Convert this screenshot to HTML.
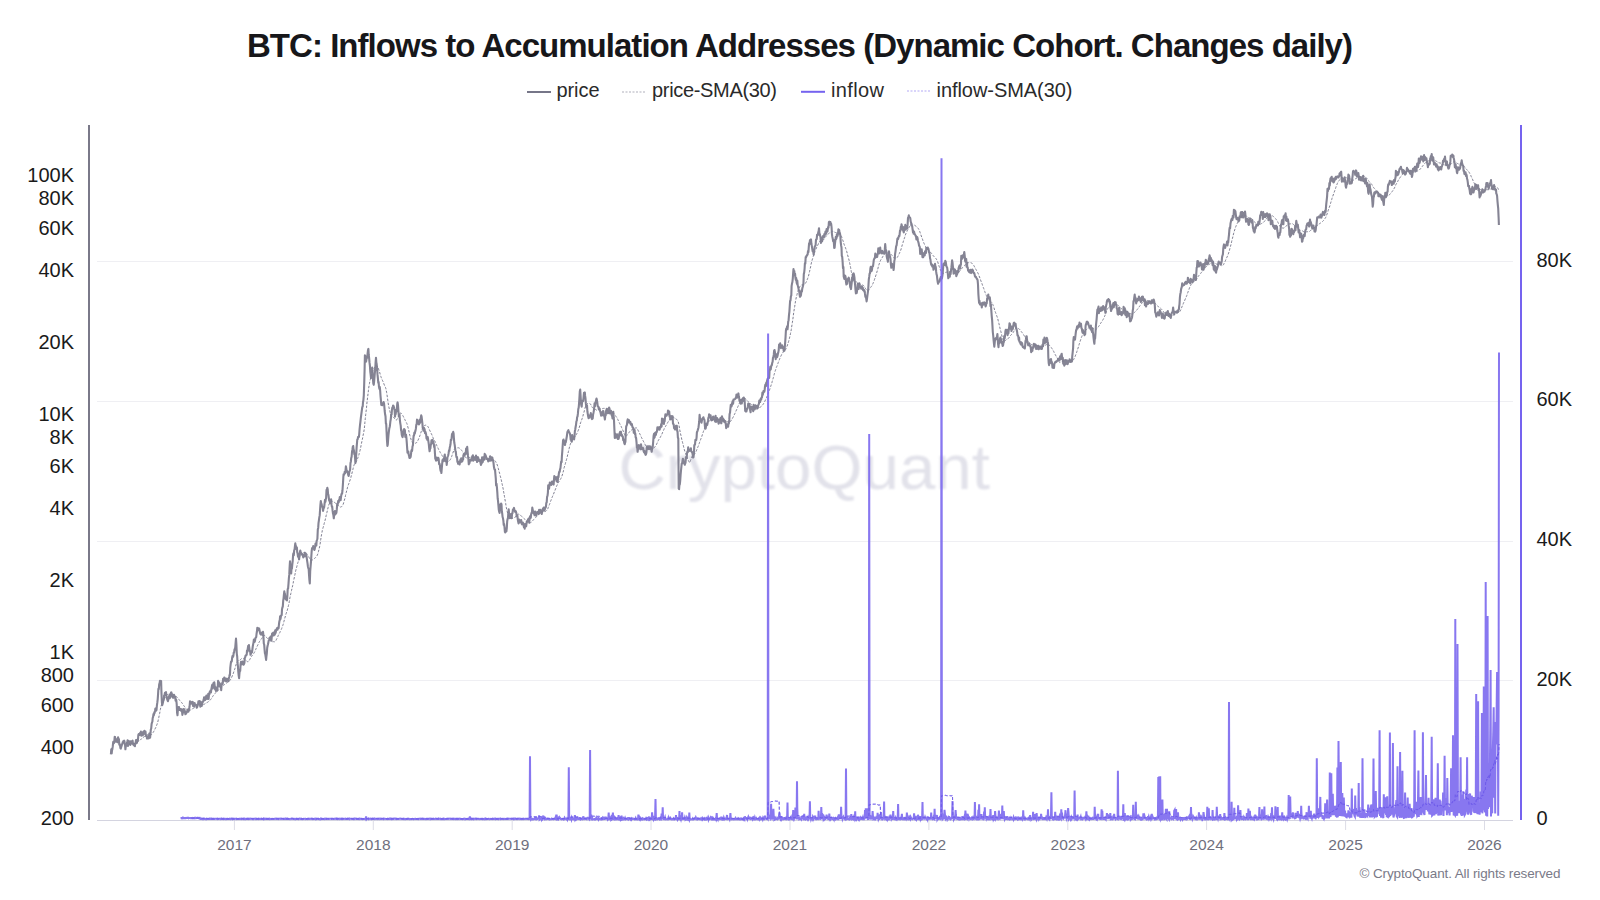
<!DOCTYPE html>
<html><head><meta charset="utf-8"><title>BTC: Inflows to Accumulation Addresses</title>
<style>html,body{margin:0;padding:0;background:#fff;width:1600px;height:900px;overflow:hidden;font-family:"Liberation Sans",sans-serif}</style>
</head><body>
<svg width="1600" height="900" viewBox="0 0 1600 900" style="position:absolute;left:0;top:0">
<defs><filter id="b" x="-5%" y="-20%" width="110%" height="140%"><feGaussianBlur stdDeviation="0.9"/></filter></defs>
<text x="618.5" y="488.5" font-family="'Liberation Sans', sans-serif" font-size="63" fill="#e2e2ea" textLength="371.5" lengthAdjust="spacingAndGlyphs" filter="url(#b)">CryptoQuant</text>
<line x1="97" x2="1513" y1="261.5" y2="261.5" stroke="#efeff3" stroke-width="1"/>
<line x1="97" x2="1513" y1="401.5" y2="401.5" stroke="#efeff3" stroke-width="1"/>
<line x1="97" x2="1513" y1="541.5" y2="541.5" stroke="#efeff3" stroke-width="1"/>
<line x1="97" x2="1513" y1="680.5" y2="680.5" stroke="#efeff3" stroke-width="1"/>
<line x1="97" x2="1513" y1="820.5" y2="820.5" stroke="#d4d4e0" stroke-width="1"/>
<line x1="234.4" x2="234.4" y1="821" y2="830" stroke="#dcdce6" stroke-width="1"/>
<text x="234.4" y="850" text-anchor="middle" font-family="'Liberation Sans', sans-serif" font-size="15.5" fill="#6f6f7d">2017</text>
<line x1="373.3" x2="373.3" y1="821" y2="830" stroke="#dcdce6" stroke-width="1"/>
<text x="373.3" y="850" text-anchor="middle" font-family="'Liberation Sans', sans-serif" font-size="15.5" fill="#6f6f7d">2018</text>
<line x1="512.2" x2="512.2" y1="821" y2="830" stroke="#dcdce6" stroke-width="1"/>
<text x="512.2" y="850" text-anchor="middle" font-family="'Liberation Sans', sans-serif" font-size="15.5" fill="#6f6f7d">2019</text>
<line x1="651.0" x2="651.0" y1="821" y2="830" stroke="#dcdce6" stroke-width="1"/>
<text x="651.0" y="850" text-anchor="middle" font-family="'Liberation Sans', sans-serif" font-size="15.5" fill="#6f6f7d">2020</text>
<line x1="790.0" x2="790.0" y1="821" y2="830" stroke="#dcdce6" stroke-width="1"/>
<text x="790.0" y="850" text-anchor="middle" font-family="'Liberation Sans', sans-serif" font-size="15.5" fill="#6f6f7d">2021</text>
<line x1="928.9" x2="928.9" y1="821" y2="830" stroke="#dcdce6" stroke-width="1"/>
<text x="928.9" y="850" text-anchor="middle" font-family="'Liberation Sans', sans-serif" font-size="15.5" fill="#6f6f7d">2022</text>
<line x1="1067.8" x2="1067.8" y1="821" y2="830" stroke="#dcdce6" stroke-width="1"/>
<text x="1067.8" y="850" text-anchor="middle" font-family="'Liberation Sans', sans-serif" font-size="15.5" fill="#6f6f7d">2023</text>
<line x1="1206.6" x2="1206.6" y1="821" y2="830" stroke="#dcdce6" stroke-width="1"/>
<text x="1206.6" y="850" text-anchor="middle" font-family="'Liberation Sans', sans-serif" font-size="15.5" fill="#6f6f7d">2024</text>
<line x1="1345.6" x2="1345.6" y1="821" y2="830" stroke="#dcdce6" stroke-width="1"/>
<text x="1345.6" y="850" text-anchor="middle" font-family="'Liberation Sans', sans-serif" font-size="15.5" fill="#6f6f7d">2025</text>
<line x1="1484.5" x2="1484.5" y1="821" y2="830" stroke="#dcdce6" stroke-width="1"/>
<text x="1484.5" y="850" text-anchor="middle" font-family="'Liberation Sans', sans-serif" font-size="15.5" fill="#6f6f7d">2026</text>
<line x1="89" x2="89" y1="125" y2="820" stroke="#7a7989" stroke-width="2"/>
<line x1="1521" x2="1521" y1="125" y2="820" stroke="#7563ef" stroke-width="2"/>
<text x="74" y="182.3" text-anchor="end" font-family="'Liberation Sans', sans-serif" font-size="20" fill="#1a1a1a">100K</text>
<text x="74" y="205.4" text-anchor="end" font-family="'Liberation Sans', sans-serif" font-size="20" fill="#1a1a1a">80K</text>
<text x="74" y="235.1" text-anchor="end" font-family="'Liberation Sans', sans-serif" font-size="20" fill="#1a1a1a">60K</text>
<text x="74" y="277.1" text-anchor="end" font-family="'Liberation Sans', sans-serif" font-size="20" fill="#1a1a1a">40K</text>
<text x="74" y="348.8" text-anchor="end" font-family="'Liberation Sans', sans-serif" font-size="20" fill="#1a1a1a">20K</text>
<text x="74" y="420.5" text-anchor="end" font-family="'Liberation Sans', sans-serif" font-size="20" fill="#1a1a1a">10K</text>
<text x="74" y="443.6" text-anchor="end" font-family="'Liberation Sans', sans-serif" font-size="20" fill="#1a1a1a">8K</text>
<text x="74" y="473.3" text-anchor="end" font-family="'Liberation Sans', sans-serif" font-size="20" fill="#1a1a1a">6K</text>
<text x="74" y="515.3" text-anchor="end" font-family="'Liberation Sans', sans-serif" font-size="20" fill="#1a1a1a">4K</text>
<text x="74" y="587.0" text-anchor="end" font-family="'Liberation Sans', sans-serif" font-size="20" fill="#1a1a1a">2K</text>
<text x="74" y="658.7" text-anchor="end" font-family="'Liberation Sans', sans-serif" font-size="20" fill="#1a1a1a">1K</text>
<text x="74" y="681.8" text-anchor="end" font-family="'Liberation Sans', sans-serif" font-size="20" fill="#1a1a1a">800</text>
<text x="74" y="711.5" text-anchor="end" font-family="'Liberation Sans', sans-serif" font-size="20" fill="#1a1a1a">600</text>
<text x="74" y="753.5" text-anchor="end" font-family="'Liberation Sans', sans-serif" font-size="20" fill="#1a1a1a">400</text>
<text x="74" y="825.2" text-anchor="end" font-family="'Liberation Sans', sans-serif" font-size="20" fill="#1a1a1a">200</text>
<text x="1536.5" y="266.6" font-family="'Liberation Sans', sans-serif" font-size="20" fill="#1a1a1a">80K</text>
<text x="1536.5" y="406.2" font-family="'Liberation Sans', sans-serif" font-size="20" fill="#1a1a1a">60K</text>
<text x="1536.5" y="545.9" font-family="'Liberation Sans', sans-serif" font-size="20" fill="#1a1a1a">40K</text>
<text x="1536.5" y="685.6" font-family="'Liberation Sans', sans-serif" font-size="20" fill="#1a1a1a">20K</text>
<text x="1536.5" y="825.2" font-family="'Liberation Sans', sans-serif" font-size="20" fill="#1a1a1a">0</text>
<path d="M191.5 818.1L191.9 818.1L192.3 818.1L192.7 818.1L193.0 818.0L193.4 818.0L193.8 818.1L194.2 818.0L194.6 818.0L195.0 818.0L195.3 818.1L195.7 818.1L196.1 818.1L196.5 818.1L196.9 818.1L197.2 818.1L197.6 818.1L198.0 818.1L198.4 818.1L198.8 818.1L199.1 818.1L199.5 818.1L199.9 818.1L200.3 818.1L200.7 818.1L201.0 818.2L201.4 818.2L201.8 818.2L202.2 818.2L202.6 818.3L202.9 818.3L203.3 818.3L203.7 818.4L204.1 818.4L204.5 818.4L204.8 818.4L205.2 818.5L205.6 818.5L206.0 818.5L206.4 818.6L206.7 818.6L207.1 818.6L207.5 818.6L207.9 818.7L208.3 818.7L208.6 818.7L209.0 818.8L209.4 818.8L209.8 818.8L210.2 818.8L210.5 818.9L210.9 818.9L211.3 818.9L211.7 818.9L212.1 818.9L212.4 818.9L212.8 818.9L213.2 818.9L213.6 818.9L214.0 818.9L214.3 818.9L214.7 818.9L215.1 818.9L215.5 818.9L215.9 818.9L216.2 818.9L216.6 818.9L217.0 818.9L217.4 818.9L217.8 818.9L218.1 818.9L218.5 818.9L218.9 818.9L219.3 818.8L219.7 818.8L220.1 818.8L220.4 818.8L220.8 818.8L221.2 818.9L221.6 818.8L222.0 818.8L222.3 818.8L222.7 818.9L223.1 818.9L223.5 818.9L223.9 818.9L224.2 818.9L224.6 818.9L225.0 818.9L225.4 818.9L225.8 818.9L226.1 818.9L226.5 818.9L226.9 818.9L227.3 818.9L227.7 818.9L228.0 818.9L228.4 818.9L228.8 818.9L229.2 818.9L229.6 818.9L229.9 818.9L230.3 818.9L230.7 818.9L231.1 818.9L231.5 818.9L231.8 818.9L232.2 818.9L232.6 818.9L233.0 818.9L233.4 818.9L233.7 818.9L234.1 818.9L234.5 818.9L234.9 818.9L235.3 818.9L235.6 818.9L236.0 818.9L236.4 818.9L236.8 818.9L237.2 818.9L237.5 818.9L237.9 818.9L238.3 818.9L238.7 818.9L239.1 818.9L239.4 818.9L239.8 818.9L240.2 818.9L240.6 818.9L241.0 818.8L241.3 818.9L241.7 818.8L242.1 818.8L242.5 818.8L242.9 818.8L243.2 818.8L243.6 818.9L244.0 818.8L244.4 818.9L244.8 818.9L245.2 818.9L245.5 818.9L245.9 818.9L246.3 818.9L246.7 818.9L247.1 818.9L247.4 818.9L247.8 818.8L248.2 818.9L248.6 818.9L249.0 818.8L249.3 818.8L249.7 818.8L250.1 818.8L250.5 818.8L250.9 818.8L251.2 818.8L251.6 818.8L252.0 818.8L252.4 818.8L252.8 818.8L253.1 818.8L253.5 818.8L253.9 818.8L254.3 818.8L254.7 818.8L255.0 818.8L255.4 818.8L255.8 818.8L256.2 818.8L256.6 818.8L256.9 818.8L257.3 818.8L257.7 818.8L258.1 818.8L258.5 818.8L258.8 818.8L259.2 818.8L259.6 818.8L260.0 818.8L260.4 818.8L260.7 818.8L261.1 818.8L261.5 818.8L261.9 818.8L262.3 818.8L262.6 818.9L263.0 818.9L263.4 818.9L263.8 818.9L264.2 818.9L264.5 818.8L264.9 818.9L265.3 818.9L265.7 818.9L266.1 818.9L266.4 818.9L266.8 818.9L267.2 818.9L267.6 818.9L268.0 818.9L268.3 818.9L268.7 818.9L269.1 818.9L269.5 818.9L269.9 818.9L270.3 818.9L270.6 818.9L271.0 818.9L271.4 818.9L271.8 818.9L272.2 818.9L272.5 818.9L272.9 818.9L273.3 818.9L273.7 818.9L274.1 818.9L274.4 818.9L274.8 818.9L275.2 818.9L275.6 818.9L276.0 818.9L276.3 818.9L276.7 818.9L277.1 818.9L277.5 818.9L277.9 818.9L278.2 818.9L278.6 818.9L279.0 818.9L279.4 818.9L279.8 818.9L280.1 818.9L280.5 818.9L280.9 818.9L281.3 818.9L281.7 818.8L282.0 818.8L282.4 818.8L282.8 818.8L283.2 818.8L283.6 818.8L283.9 818.8L284.3 818.8L284.7 818.8L285.1 818.8L285.5 818.8L285.8 818.8L286.2 818.8L286.6 818.8L287.0 818.8L287.4 818.8L287.7 818.8L288.1 818.8L288.5 818.8L288.9 818.8L289.3 818.8L289.6 818.8L290.0 818.8L290.4 818.8L290.8 818.9L291.2 818.9L291.5 818.9L291.9 818.8L292.3 818.8L292.7 818.8L293.1 818.8L293.4 818.8L293.8 818.9L294.2 818.9L294.6 818.9L295.0 818.8L295.4 818.9L295.7 818.9L296.1 818.9L296.5 818.9L296.9 818.9L297.3 818.9L297.6 818.9L298.0 818.9L298.4 818.9L298.8 818.9L299.2 818.9L299.5 818.9L299.9 818.9L300.3 818.9L300.7 818.9L301.1 818.9L301.4 818.9L301.8 818.9L302.2 818.9L302.6 818.9L303.0 818.9L303.3 818.9L303.7 818.9L304.1 818.9L304.5 818.9L304.9 818.9L305.2 818.9L305.6 818.9L306.0 818.9L306.4 818.9L306.8 818.9L307.1 818.9L307.5 818.9L307.9 818.9L308.3 818.9L308.7 818.9L309.0 818.9L309.4 818.9L309.8 818.9L310.2 818.9L310.6 818.9L310.9 818.9L311.3 818.9L311.7 818.9L312.1 818.9L312.5 818.9L312.8 818.9L313.2 818.9L313.6 818.9L314.0 818.9L314.4 818.9L314.7 818.9L315.1 818.8L315.5 818.9L315.9 818.9L316.3 818.9L316.6 818.9L317.0 818.9L317.4 818.8L317.8 818.8L318.2 818.8L318.5 818.8L318.9 818.8L319.3 818.8L319.7 818.9L320.1 818.9L320.5 818.9L320.8 818.9L321.2 818.9L321.6 818.9L322.0 818.9L322.4 818.9L322.7 818.9L323.1 818.9L323.5 818.9L323.9 818.9L324.3 818.9L324.6 818.9L325.0 818.9L325.4 818.9L325.8 818.9L326.2 818.9L326.5 818.9L326.9 818.9L327.3 818.9L327.7 818.9L328.1 818.9L328.4 818.9L328.8 818.9L329.2 818.9L329.6 818.9L330.0 818.9L330.3 818.9L330.7 818.9L331.1 818.9L331.5 818.9L331.9 818.9L332.2 818.9L332.6 818.9L333.0 818.8L333.4 818.8L333.8 818.9L334.1 818.8L334.5 818.8L334.9 818.8L335.3 818.8L335.7 818.8L336.0 818.8L336.4 818.8L336.8 818.8L337.2 818.8L337.6 818.8L337.9 818.8L338.3 818.8L338.7 818.8L339.1 818.8L339.5 818.8L339.8 818.8L340.2 818.8L340.6 818.8L341.0 818.8L341.4 818.8L341.7 818.8L342.1 818.8L342.5 818.8L342.9 818.8L343.3 818.8L343.6 818.8L344.0 818.8L344.4 818.8L344.8 818.8L345.2 818.8L345.6 818.8L345.9 818.8L346.3 818.8L346.7 818.8L347.1 818.8L347.5 818.8L347.8 818.8L348.2 818.8L348.6 818.8L349.0 818.8L349.4 818.8L349.7 818.8L350.1 818.8L350.5 818.8L350.9 818.8L351.3 818.8L351.6 818.8L352.0 818.8L352.4 818.8L352.8 818.8L353.2 818.8L353.5 818.8L353.9 818.8L354.3 818.8L354.7 818.8L355.1 818.8L355.4 818.8L355.8 818.8L356.2 818.8L356.6 818.8L357.0 818.8L357.3 818.8L357.7 818.8L358.1 818.8L358.5 818.8L358.9 818.8L359.2 818.8L359.6 818.8L360.0 818.8L360.4 818.8L360.8 818.8L361.1 818.8L361.5 818.8L361.9 818.8L362.3 818.9L362.7 818.9L363.0 818.9L363.4 818.9L363.8 818.9L364.2 818.9L364.6 818.9L364.9 818.9L365.3 818.9L365.7 818.9L366.1 818.8L366.5 818.8L366.8 818.8L367.2 818.8L367.6 818.8L368.0 818.8L368.4 818.8L368.7 818.8L369.1 818.8L369.5 818.8L369.9 818.8L370.3 818.8L370.7 818.8L371.0 818.8L371.4 818.8L371.8 818.8L372.2 818.8L372.6 818.8L372.9 818.8L373.3 818.8L373.7 818.8L374.1 818.8L374.5 818.7L374.8 818.7L375.2 818.7L375.6 818.8L376.0 818.7L376.4 818.7L376.7 818.7L377.1 818.7L377.5 818.8L377.9 818.8L378.3 818.8L378.6 818.8L379.0 818.8L379.4 818.8L379.8 818.8L380.2 818.8L380.5 818.8L380.9 818.8L381.3 818.8L381.7 818.8L382.1 818.8L382.4 818.8L382.8 818.8L383.2 818.8L383.6 818.8L384.0 818.8L384.3 818.8L384.7 818.8L385.1 818.8L385.5 818.8L385.9 818.8L386.2 818.8L386.6 818.8L387.0 818.8L387.4 818.8L387.8 818.8L388.1 818.8L388.5 818.8L388.9 818.8L389.3 818.8L389.7 818.8L390.0 818.8L390.4 818.8L390.8 818.8L391.2 818.8L391.6 818.8L391.9 818.8L392.3 818.8L392.7 818.8L393.1 818.9L393.5 818.9L393.8 818.9L394.2 818.8L394.6 818.9L395.0 818.8L395.4 818.8L395.7 818.8L396.1 818.8L396.5 818.8L396.9 818.8L397.3 818.8L397.7 818.8L398.0 818.8L398.4 818.8L398.8 818.8L399.2 818.8L399.6 818.8L399.9 818.8L400.3 818.8L400.7 818.8L401.1 818.8L401.5 818.8L401.8 818.8L402.2 818.8L402.6 818.8L403.0 818.8L403.4 818.8L403.7 818.8L404.1 818.8L404.5 818.8L404.9 818.8L405.3 818.8L405.6 818.8L406.0 818.9L406.4 818.9L406.8 818.9L407.2 818.9L407.5 818.9L407.9 818.9L408.3 818.9L408.7 818.9L409.1 818.9L409.4 818.9L409.8 818.9L410.2 818.9L410.6 818.9L411.0 818.9L411.3 818.9L411.7 818.9L412.1 818.9L412.5 818.9L412.9 818.9L413.2 818.9L413.6 818.9L414.0 818.9L414.4 818.9L414.8 818.9L415.1 818.9L415.5 818.9L415.9 818.9L416.3 818.9L416.7 818.9L417.0 818.9L417.4 818.9L417.8 818.9L418.2 818.9L418.6 818.9L418.9 818.9L419.3 818.9L419.7 818.9L420.1 818.9L420.5 818.9L420.8 818.9L421.2 818.9L421.6 818.9L422.0 818.9L422.4 818.9L422.8 818.9L423.1 818.9L423.5 818.9L423.9 818.9L424.3 818.9L424.7 818.9L425.0 818.9L425.4 818.9L425.8 818.9L426.2 818.9L426.6 818.9L426.9 818.9L427.3 818.9L427.7 818.9L428.1 818.9L428.5 818.9L428.8 818.8L429.2 818.8L429.6 818.8L430.0 818.8L430.4 818.8L430.7 818.8L431.1 818.8L431.5 818.8L431.9 818.8L432.3 818.8L432.6 818.8L433.0 818.8L433.4 818.8L433.8 818.9L434.2 818.9L434.5 818.9L434.9 818.9L435.3 818.9L435.7 818.9L436.1 818.9L436.4 818.8L436.8 818.8L437.2 818.8L437.6 818.8L438.0 818.8L438.3 818.9L438.7 818.8L439.1 818.8L439.5 818.8L439.9 818.8L440.2 818.8L440.6 818.8L441.0 818.8L441.4 818.9L441.8 818.9L442.1 818.9L442.5 818.9L442.9 818.9L443.3 818.8L443.7 818.9L444.0 818.8L444.4 818.8L444.8 818.9L445.2 818.9L445.6 818.9L445.9 818.9L446.3 818.9L446.7 818.9L447.1 818.9L447.5 818.9L447.9 818.9L448.2 818.9L448.6 818.9L449.0 818.9L449.4 818.9L449.8 818.8L450.1 818.9L450.5 818.9L450.9 818.9L451.3 818.9L451.7 818.8L452.0 818.9L452.4 818.9L452.8 818.8L453.2 818.8L453.6 818.8L453.9 818.8L454.3 818.8L454.7 818.8L455.1 818.8L455.5 818.8L455.8 818.8L456.2 818.8L456.6 818.8L457.0 818.8L457.4 818.8L457.7 818.8L458.1 818.8L458.5 818.8L458.9 818.8L459.3 818.8L459.6 818.8L460.0 818.8L460.4 818.8L460.8 818.8L461.2 818.8L461.5 818.9L461.9 818.9L462.3 818.9L462.7 818.9L463.1 818.9L463.4 818.9L463.8 818.9L464.2 818.9L464.6 818.9L465.0 818.9L465.3 818.9L465.7 818.9L466.1 818.9L466.5 818.9L466.9 818.9L467.2 818.9L467.6 818.9L468.0 818.9L468.4 818.9L468.8 818.9L469.1 818.9L469.5 818.9L469.9 818.8L470.3 818.8L470.7 818.8L471.0 818.8L471.4 818.8L471.8 818.8L472.2 818.8L472.6 818.8L473.0 818.8L473.3 818.8L473.7 818.8L474.1 818.8L474.5 818.8L474.9 818.8L475.2 818.8L475.6 818.8L476.0 818.8L476.4 818.8L476.8 818.8L477.1 818.8L477.5 818.8L477.9 818.8L478.3 818.8L478.7 818.8L479.0 818.8L479.4 818.8L479.8 818.8L480.2 818.8L480.6 818.8L480.9 818.8L481.3 818.8L481.7 818.8L482.1 818.8L482.5 818.9L482.8 818.9L483.2 818.9L483.6 818.9L484.0 818.9L484.4 818.9L484.7 818.9L485.1 818.9L485.5 818.9L485.9 818.9L486.3 818.9L486.6 818.9L487.0 818.9L487.4 818.9L487.8 818.9L488.2 818.9L488.5 818.9L488.9 818.9L489.3 818.9L489.7 818.9L490.1 818.9L490.4 818.9L490.8 818.9L491.2 818.9L491.6 818.9L492.0 818.9L492.3 818.9L492.7 818.9L493.1 818.9L493.5 818.9L493.9 818.9L494.2 818.9L494.6 818.9L495.0 818.9L495.4 818.9L495.8 818.9L496.1 818.9L496.5 818.9L496.9 818.9L497.3 818.9L497.7 818.9L498.1 818.9L498.4 818.9L498.8 818.9L499.2 818.9L499.6 818.9L500.0 818.9L500.3 818.9L500.7 818.9L501.1 818.9L501.5 818.9L501.9 818.9L502.2 818.9L502.6 818.9L503.0 818.9L503.4 818.9L503.8 818.9L504.1 818.9L504.5 818.9L504.9 818.9L505.3 818.9L505.7 818.9L506.0 818.9L506.4 818.9L506.8 818.9L507.2 818.9L507.6 818.9L507.9 818.9L508.3 818.9L508.7 818.9L509.1 818.9L509.5 818.8L509.8 818.8L510.2 818.8L510.6 818.8L511.0 818.8L511.4 818.8L511.7 818.9L512.1 818.8L512.5 818.8L512.9 818.8L513.3 818.8L513.6 818.8L514.0 818.8L514.4 818.8L514.8 818.8L515.2 818.8L515.5 818.8L515.9 818.8L516.3 818.8L516.7 818.8L517.1 818.8L517.4 818.8L517.8 818.8L518.2 818.8L518.6 818.8L519.0 818.8L519.3 818.8L519.7 818.8L520.1 818.8L520.5 818.8L520.9 818.8L521.2 818.8L521.6 818.8L522.0 818.8L522.4 818.8L522.8 818.8L523.2 818.8L523.5 818.8L523.9 818.9L524.3 818.9L524.7 818.9L525.1 818.9L525.4 818.9L525.8 818.9L526.2 818.9L526.6 818.8L527.0 818.9L527.3 818.9L527.7 818.9L528.1 818.9L528.5 818.9L528.9 818.9L529.2 818.9L529.6 818.9L530.0 816.8L530.4 816.8L530.8 816.8L531.1 816.8L531.5 816.8L531.9 816.8L532.3 816.8L532.7 816.8L533.0 816.8L533.4 816.8L533.8 816.8L534.2 816.8L534.6 816.8L534.9 816.8L535.3 816.8L535.7 816.8L536.1 816.8L536.5 816.8L536.8 816.8L537.2 816.8L537.6 816.8L538.0 816.8L538.4 816.7L538.7 816.7L539.1 816.6L539.5 816.6L539.9 816.6L540.3 816.6L540.6 816.6L541.0 816.6L541.4 818.7L541.8 818.7L542.2 818.6L542.5 818.6L542.9 818.6L543.3 818.4L543.7 818.4L544.1 818.4L544.4 818.3L544.8 818.3L545.2 818.3L545.6 818.3L546.0 818.3L546.3 818.3L546.7 818.3L547.1 818.4L547.5 818.4L547.9 818.4L548.3 818.4L548.6 818.4L549.0 818.4L549.4 818.4L549.8 818.5L550.2 818.5L550.5 818.6L550.9 818.6L551.3 818.6L551.7 818.6L552.1 818.7L552.4 818.7L552.8 818.7L553.2 818.7L553.6 818.7L554.0 818.8L554.3 818.8L554.7 818.9L555.1 818.9L555.5 818.9L555.9 819.0L556.2 819.0L556.6 818.8L557.0 818.8L557.4 818.8L557.8 818.8L558.1 818.8L558.5 818.8L558.9 818.7L559.3 818.8L559.7 818.7L560.0 818.7L560.4 818.6L560.8 818.6L561.2 818.6L561.6 818.6L561.9 818.6L562.3 818.6L562.7 818.6L563.1 818.6L563.5 818.6L563.8 818.6L564.2 818.6L564.6 818.6L565.0 818.6L565.4 818.5L565.7 818.6L566.1 818.6L566.5 818.6L566.9 818.6L567.3 818.6L567.6 818.5L568.0 818.7L568.4 818.7L568.8 817.0L569.2 817.0L569.5 817.0L569.9 817.0L570.3 817.1L570.7 817.1L571.1 817.1L571.4 817.1L571.8 817.1L572.2 817.1L572.6 817.1L573.0 817.1L573.3 817.1L573.7 817.1L574.1 817.1L574.5 817.1L574.9 816.9L575.3 816.9L575.6 816.9L576.0 816.9L576.4 816.9L576.8 817.0L577.2 816.9L577.5 816.9L577.9 816.9L578.3 816.9L578.7 816.9L579.1 816.9L579.4 816.9L579.8 816.9L580.2 818.6L580.6 818.6L581.0 818.6L581.3 818.6L581.7 818.6L582.1 818.6L582.5 818.6L582.9 818.6L583.2 818.6L583.6 818.6L584.0 818.5L584.4 818.5L584.8 818.5L585.1 818.6L585.5 818.5L585.9 818.5L586.3 818.7L586.7 818.6L587.0 818.6L587.4 818.7L587.8 818.6L588.2 818.6L588.6 818.6L588.9 818.6L589.3 818.6L589.7 818.6L590.1 816.3L590.5 816.3L590.8 816.3L591.2 816.2L591.6 816.2L592.0 816.2L592.4 816.2L592.7 816.2L593.1 816.2L593.5 816.2L593.9 816.2L594.3 816.2L594.6 816.3L595.0 816.3L595.4 816.4L595.8 816.4L596.2 816.3L596.5 816.3L596.9 816.4L597.3 816.4L597.7 816.4L598.1 816.4L598.4 816.3L598.8 816.4L599.2 816.4L599.6 816.4L600.0 816.5L600.4 816.5L600.7 816.5L601.1 816.5L601.5 818.8L601.9 818.9L602.3 818.9L602.6 819.0L603.0 819.0L603.4 818.9L603.8 818.9L604.2 818.9L604.5 818.9L604.9 818.8L605.3 818.8L605.7 818.7L606.1 818.7L606.4 818.7L606.8 818.6L607.2 818.6L607.6 818.7L608.0 818.6L608.3 818.6L608.7 818.4L609.1 818.4L609.5 818.4L609.9 818.4L610.2 818.4L610.6 818.4L611.0 818.4L611.4 818.3L611.8 818.2L612.1 818.2L612.5 818.2L612.9 818.0L613.3 818.0L613.7 818.0L614.0 817.8L614.4 817.9L614.8 817.9L615.2 817.9L615.6 817.9L615.9 817.9L616.3 818.0L616.7 818.0L617.1 818.0L617.5 818.1L617.8 818.1L618.2 818.1L618.6 818.0L619.0 818.0L619.4 818.0L619.7 818.0L620.1 818.2L620.5 818.1L620.9 818.1L621.3 818.1L621.6 818.0L622.0 818.1L622.4 818.1L622.8 818.2L623.2 818.3L623.5 818.2L623.9 818.3L624.3 818.5L624.7 818.5L625.1 818.5L625.5 818.6L625.8 818.6L626.2 818.6L626.6 818.6L627.0 818.6L627.4 818.6L627.7 818.6L628.1 818.6L628.5 818.6L628.9 818.6L629.3 818.5L629.6 818.5L630.0 818.7L630.4 818.6L630.8 818.7L631.2 818.6L631.5 818.7L631.9 818.7L632.3 818.7L632.7 818.7L633.1 818.8L633.4 818.8L633.8 818.8L634.2 818.8L634.6 818.8L635.0 818.8L635.3 818.8L635.7 818.8L636.1 818.8L636.5 818.8L636.9 818.8L637.2 818.9L637.6 818.9L638.0 818.9L638.4 818.7L638.8 818.7L639.1 818.7L639.5 818.7L639.9 818.7L640.3 818.7L640.7 818.7L641.0 818.7L641.4 818.7L641.8 818.8L642.2 818.8L642.6 818.7L642.9 818.7L643.3 818.7L643.7 818.7L644.1 818.8L644.5 818.8L644.8 818.8L645.2 818.8L645.6 818.8L646.0 818.7L646.4 818.7L646.7 818.7L647.1 818.7L647.5 818.7L647.9 818.6L648.3 818.6L648.6 818.6L649.0 818.6L649.4 818.6L649.8 818.7L650.2 818.7L650.6 818.7L650.9 818.8L651.3 818.8L651.7 818.8L652.1 818.6L652.5 818.6L652.8 818.6L653.2 818.6L653.6 818.6L654.0 818.6L654.4 818.6L654.7 818.6L655.1 818.5L655.5 817.8L655.9 817.8L656.3 817.8L656.6 817.8L657.0 817.8L657.4 817.8L657.8 817.8L658.2 817.9L658.5 817.8L658.9 817.9L659.3 817.9L659.7 818.0L660.1 817.9L660.4 817.9L660.8 817.9L661.2 818.0L661.6 817.8L662.0 817.8L662.3 817.8L662.7 817.4L663.1 817.4L663.5 817.6L663.9 817.6L664.2 817.6L664.6 817.6L665.0 817.5L665.4 817.6L665.8 817.6L666.1 817.6L666.5 817.7L666.9 818.3L667.3 818.4L667.7 818.4L668.0 818.4L668.4 818.3L668.8 818.4L669.2 818.4L669.6 818.4L669.9 818.4L670.3 818.3L670.7 818.3L671.1 818.3L671.5 818.3L671.8 818.3L672.2 818.3L672.6 818.3L673.0 818.5L673.4 818.5L673.7 818.5L674.1 818.9L674.5 818.9L674.9 818.9L675.3 818.9L675.7 818.9L676.0 818.7L676.4 818.8L676.8 818.7L677.2 818.7L677.6 818.7L677.9 818.7L678.3 818.6L678.7 818.6L679.1 818.6L679.5 818.3L679.8 818.4L680.2 818.4L680.6 818.4L681.0 818.4L681.4 818.3L681.7 818.4L682.1 818.2L682.5 818.2L682.9 818.2L683.3 818.2L683.6 818.1L684.0 818.1L684.4 818.1L684.8 818.1L685.2 818.1L685.5 818.1L685.9 818.1L686.3 818.1L686.7 818.1L687.1 818.1L687.4 818.2L687.8 818.2L688.2 818.2L688.6 818.3L689.0 818.3L689.3 818.1L689.7 818.1L690.1 818.1L690.5 818.1L690.9 818.4L691.2 818.4L691.6 818.4L692.0 818.4L692.4 818.4L692.8 818.4L693.1 818.5L693.5 818.7L693.9 818.7L694.3 818.7L694.7 818.7L695.0 818.6L695.4 818.6L695.8 818.6L696.2 818.6L696.6 818.6L696.9 818.6L697.3 818.6L697.7 818.6L698.1 818.6L698.5 818.6L698.8 818.6L699.2 818.6L699.6 818.6L700.0 818.7L700.4 818.7L700.8 818.9L701.1 818.9L701.5 818.9L701.9 818.9L702.3 818.8L702.7 818.8L703.0 818.8L703.4 818.8L703.8 818.8L704.2 818.8L704.6 818.8L704.9 818.8L705.3 818.8L705.7 818.8L706.1 818.8L706.5 818.8L706.8 818.8L707.2 818.9L707.6 818.9L708.0 818.9L708.4 818.9L708.7 818.8L709.1 818.9L709.5 818.9L709.9 818.9L710.3 818.9L710.6 818.8L711.0 818.8L711.4 818.8L711.8 818.8L712.2 818.7L712.5 818.7L712.9 818.7L713.3 818.7L713.7 818.7L714.1 818.7L714.4 818.7L714.8 818.8L715.2 818.8L715.6 818.8L716.0 818.8L716.3 818.7L716.7 818.5L717.1 818.5L717.5 818.5L717.9 818.5L718.2 818.5L718.6 818.5L719.0 818.5L719.4 818.5L719.8 818.5L720.1 818.5L720.5 818.5L720.9 818.5L721.3 818.4L721.7 818.5L722.0 818.5L722.4 818.5L722.8 818.6L723.2 818.6L723.6 818.6L723.9 818.6L724.3 818.6L724.7 818.6L725.1 818.6L725.5 818.6L725.9 818.6L726.2 818.6L726.6 818.5L727.0 818.4L727.4 818.4L727.8 818.4L728.1 818.6L728.5 818.6L728.9 818.6L729.3 818.6L729.7 818.6L730.0 818.6L730.4 818.4L730.8 818.4L731.2 818.4L731.6 818.4L731.9 818.4L732.3 818.4L732.7 818.5L733.1 818.5L733.5 818.5L733.8 818.5L734.2 818.5L734.6 818.5L735.0 818.5L735.4 818.6L735.7 818.5L736.1 818.6L736.5 818.6L736.9 818.6L737.3 818.6L737.6 818.6L738.0 818.6L738.4 818.8L738.8 818.7L739.2 818.7L739.5 818.8L739.9 818.8L740.3 818.8L740.7 818.8L741.1 818.8L741.4 818.8L741.8 819.0L742.2 819.0L742.6 819.1L743.0 819.1L743.3 819.0L743.7 819.0L744.1 819.0L744.5 819.0L744.9 818.9L745.2 818.9L745.6 818.8L746.0 818.8L746.4 818.8L746.8 818.8L747.1 818.8L747.5 818.8L747.9 818.7L748.3 818.6L748.7 818.6L749.0 818.6L749.4 818.6L749.8 818.5L750.2 818.5L750.6 818.5L751.0 818.5L751.3 818.5L751.7 818.5L752.1 818.4L752.5 818.4L752.9 818.4L753.2 818.4L753.6 818.4L754.0 818.4L754.4 818.4L754.8 818.3L755.1 818.3L755.5 818.3L755.9 818.3L756.3 818.4L756.7 818.4L757.0 818.5L757.4 818.5L757.8 818.5L758.2 818.5L758.6 818.6L758.9 818.5L759.3 818.6L759.7 818.6L760.1 818.7L760.5 818.7L760.8 818.7L761.2 818.7L761.6 818.7L762.0 818.7L762.4 818.7L762.7 818.7L763.1 818.7L763.5 818.7L763.9 818.8L764.3 818.8L764.6 818.7L765.0 818.7L765.4 818.6L765.8 818.6L766.2 818.6L766.5 818.6L766.9 818.6L767.3 818.6L767.7 818.6L768.1 802.4L768.4 802.4L768.8 802.4L769.2 802.2L769.6 802.2L770.0 802.2L770.3 802.2L770.7 802.1L771.1 801.6L771.5 801.6L771.9 801.6L772.2 801.6L772.6 801.5L773.0 801.5L773.4 801.1L773.8 801.1L774.1 801.1L774.5 801.1L774.9 801.1L775.3 801.1L775.7 801.0L776.0 801.1L776.4 801.2L776.8 801.2L777.2 801.2L777.6 801.2L778.0 801.2L778.3 801.1L778.7 801.2L779.1 801.0L779.5 817.0L779.9 817.0L780.2 816.9L780.6 817.1L781.0 817.1L781.4 817.0L781.8 817.1L782.1 817.1L782.5 817.6L782.9 817.5L783.3 817.6L783.7 817.6L784.0 817.7L784.4 817.7L784.8 818.0L785.2 818.1L785.6 818.1L785.9 818.1L786.3 818.1L786.7 818.1L787.1 818.1L787.5 817.6L787.8 817.6L788.2 817.5L788.6 817.5L789.0 817.5L789.4 817.6L789.7 817.6L790.1 817.6L790.5 817.7L790.9 817.9L791.3 817.9L791.6 818.0L792.0 818.0L792.4 817.8L792.8 817.9L793.2 817.6L793.5 817.7L793.9 817.7L794.3 817.7L794.7 817.6L795.1 817.6L795.4 817.2L795.8 817.2L796.2 817.1L796.6 817.1L797.0 815.9L797.3 815.5L797.7 815.5L798.1 815.5L798.5 815.5L798.9 816.0L799.2 816.0L799.6 816.0L800.0 816.0L800.4 816.0L800.8 816.0L801.1 816.0L801.5 816.0L801.9 816.0L802.3 815.9L802.7 815.9L803.1 815.9L803.4 815.9L803.8 816.0L804.2 815.9L804.6 816.2L805.0 816.2L805.3 816.2L805.7 816.2L806.1 816.3L806.5 816.3L806.9 816.6L807.2 816.6L807.6 816.7L808.0 816.7L808.4 817.9L808.8 818.3L809.1 818.3L809.5 818.3L809.9 817.7L810.3 817.8L810.7 817.7L811.0 817.8L811.4 817.7L811.8 817.7L812.2 817.7L812.6 817.7L812.9 817.7L813.3 817.7L813.7 817.8L814.1 817.8L814.5 817.7L814.8 817.7L815.2 817.6L815.6 817.7L816.0 817.7L816.4 817.7L816.7 817.8L817.1 817.8L817.5 817.8L817.9 817.8L818.3 817.8L818.6 817.6L819.0 817.6L819.4 817.6L819.8 817.6L820.2 817.6L820.5 817.6L820.9 817.6L821.3 817.8L821.7 817.8L822.1 817.6L822.4 817.6L822.8 817.6L823.2 817.5L823.6 817.5L824.0 817.5L824.3 817.5L824.7 817.5L825.1 817.5L825.5 817.6L825.9 817.7L826.2 817.6L826.6 817.6L827.0 817.5L827.4 817.5L827.8 817.4L828.2 817.4L828.5 817.4L828.9 817.4L829.3 817.2L829.7 817.2L830.1 817.4L830.4 817.4L830.8 817.4L831.2 817.4L831.6 817.4L832.0 817.4L832.3 817.4L832.7 817.8L833.1 817.8L833.5 818.0L833.9 818.0L834.2 817.9L834.6 818.1L835.0 818.1L835.4 818.1L835.8 818.1L836.1 818.1L836.5 818.1L836.9 818.1L837.3 818.1L837.7 818.1L838.0 818.3L838.4 818.4L838.8 818.2L839.2 818.3L839.6 818.2L839.9 818.2L840.3 818.1L840.7 818.3L841.1 817.9L841.5 817.9L841.8 817.9L842.2 817.8L842.6 817.9L843.0 817.9L843.4 817.8L843.7 817.8L844.1 817.8L844.5 817.7L844.9 817.8L845.3 817.8L845.6 817.8L846.0 816.1L846.4 816.1L846.8 816.1L847.2 816.1L847.5 816.1L847.9 816.1L848.3 816.1L848.7 816.2L849.1 816.2L849.4 816.2L849.8 816.1L850.2 816.3L850.6 816.3L851.0 816.3L851.3 816.2L851.7 816.2L852.1 816.2L852.5 816.6L852.9 816.6L853.3 816.6L853.6 816.7L854.0 816.7L854.4 816.6L854.8 816.6L855.2 816.4L855.5 816.5L855.9 816.4L856.3 816.4L856.7 816.4L857.1 816.4L857.4 818.0L857.8 818.0L858.2 818.0L858.6 817.9L859.0 817.9L859.3 817.9L859.7 817.9L860.1 817.9L860.5 817.8L860.9 817.8L861.2 817.9L861.6 817.9L862.0 817.9L862.4 817.9L862.8 818.0L863.1 818.1L863.5 818.1L863.9 818.1L864.3 818.1L864.7 818.1L865.0 817.8L865.4 817.7L865.8 817.5L866.2 817.5L866.6 817.7L866.9 817.3L867.3 817.3L867.7 817.4L868.1 817.3L868.5 817.4L868.8 817.4L869.2 804.6L869.6 804.6L870.0 804.6L870.4 804.6L870.7 804.6L871.1 804.5L871.5 804.5L871.9 804.6L872.3 804.5L872.6 804.2L873.0 804.1L873.4 804.2L873.8 804.2L874.2 804.2L874.5 804.2L874.9 804.1L875.3 804.1L875.7 804.2L876.1 804.1L876.4 804.4L876.8 804.4L877.2 804.8L877.6 804.6L878.0 804.7L878.4 805.0L878.7 805.0L879.1 805.0L879.5 805.0L879.9 804.9L880.3 804.9L880.6 817.6L881.0 817.4L881.4 817.4L881.8 817.5L882.2 817.5L882.5 817.5L882.9 817.6L883.3 817.6L883.7 817.5L884.1 817.2L884.4 817.2L884.8 817.2L885.2 817.2L885.6 817.2L886.0 817.2L886.3 817.2L886.7 817.2L887.1 817.2L887.5 817.2L887.9 817.2L888.2 817.2L888.6 817.2L889.0 817.4L889.4 817.4L889.8 817.4L890.1 817.4L890.5 817.2L890.9 817.2L891.3 817.3L891.7 817.3L892.0 817.4L892.4 817.6L892.8 817.7L893.2 817.4L893.6 817.4L893.9 817.4L894.3 817.4L894.7 817.4L895.1 817.5L895.5 818.1L895.8 818.1L896.2 818.1L896.6 818.2L897.0 818.2L897.4 818.1L897.7 818.2L898.1 817.7L898.5 817.7L898.9 817.8L899.3 817.8L899.6 817.8L900.0 817.8L900.4 817.8L900.8 817.9L901.2 817.8L901.5 817.9L901.9 817.8L902.3 817.9L902.7 817.9L903.1 817.9L903.5 817.9L903.8 817.9L904.2 817.9L904.6 818.1L905.0 818.1L905.4 818.1L905.7 818.1L906.1 818.1L906.5 818.1L906.9 817.8L907.3 817.9L907.6 817.8L908.0 817.9L908.4 817.9L908.8 817.8L909.2 817.9L909.5 818.4L909.9 818.3L910.3 818.3L910.7 818.3L911.1 818.2L911.4 818.2L911.8 818.2L912.2 818.2L912.6 818.2L913.0 818.2L913.3 818.4L913.7 818.4L914.1 818.2L914.5 818.2L914.9 818.2L915.2 818.1L915.6 818.1L916.0 818.0L916.4 818.1L916.8 818.1L917.1 818.1L917.5 818.1L917.9 818.0L918.3 818.1L918.7 818.1L919.0 818.1L919.4 818.1L919.8 818.1L920.2 818.0L920.6 818.0L920.9 818.0L921.3 818.0L921.7 818.0L922.1 818.1L922.5 817.5L922.8 817.5L923.2 817.4L923.6 817.4L924.0 817.4L924.4 817.4L924.7 817.4L925.1 817.4L925.5 817.5L925.9 817.5L926.3 817.5L926.6 817.6L927.0 817.6L927.4 817.7L927.8 817.6L928.2 817.6L928.6 817.6L928.9 817.6L929.3 817.7L929.7 817.8L930.1 817.8L930.5 817.7L930.8 817.8L931.2 817.5L931.6 817.6L932.0 817.6L932.4 817.6L932.7 817.6L933.1 817.7L933.5 817.6L933.9 818.2L934.3 818.3L934.6 818.0L935.0 818.0L935.4 818.0L935.8 817.8L936.2 817.8L936.5 817.9L936.9 817.8L937.3 817.8L937.7 817.8L938.1 817.8L938.4 817.8L938.8 817.8L939.2 817.9L939.6 817.9L940.0 817.8L940.3 817.8L940.7 817.8L941.1 817.8L941.5 795.7L941.9 795.8L942.2 795.6L942.6 795.9L943.0 795.8L943.4 795.8L943.8 795.8L944.1 795.8L944.5 795.5L944.9 795.4L945.3 795.4L945.7 795.4L946.0 795.7L946.4 795.6L946.8 795.7L947.2 795.8L947.6 795.7L947.9 795.8L948.3 795.8L948.7 795.8L949.1 795.8L949.5 795.7L949.8 795.7L950.2 795.8L950.6 795.7L951.0 795.7L951.4 795.8L951.7 795.8L952.1 795.7L952.5 795.2L952.9 817.2L953.3 817.1L953.6 817.3L954.0 817.3L954.4 817.3L954.8 817.3L955.2 817.3L955.6 817.0L955.9 817.2L956.3 817.3L956.7 817.3L957.1 817.3L957.5 817.3L957.8 817.4L958.2 817.4L958.6 817.3L959.0 817.4L959.4 817.4L959.7 817.4L960.1 817.4L960.5 817.5L960.9 817.6L961.3 817.6L961.6 817.6L962.0 817.6L962.4 817.5L962.8 817.5L963.2 817.5L963.5 817.6L963.9 818.2L964.3 818.2L964.7 818.2L965.1 818.2L965.4 817.9L965.8 817.8L966.2 817.8L966.6 817.8L967.0 818.1L967.3 818.1L967.7 818.0L968.1 818.0L968.5 818.0L968.9 817.9L969.2 817.9L969.6 817.9L970.0 817.9L970.4 817.9L970.8 817.9L971.1 817.9L971.5 817.8L971.9 817.8L972.3 817.8L972.7 817.7L973.0 817.7L973.4 817.7L973.8 817.8L974.2 817.8L974.6 817.7L974.9 817.2L975.3 817.1L975.7 817.2L976.1 817.1L976.5 817.1L976.8 817.4L977.2 817.5L977.6 817.5L978.0 817.5L978.4 817.2L978.7 817.3L979.1 817.0L979.5 817.0L979.9 817.1L980.3 817.1L980.7 817.1L981.0 817.1L981.4 816.9L981.8 816.9L982.2 816.9L982.6 816.9L982.9 816.9L983.3 817.0L983.7 817.0L984.1 816.8L984.5 816.7L984.8 816.4L985.2 816.4L985.6 816.3L986.0 816.4L986.4 816.8L986.7 816.8L987.1 816.8L987.5 816.8L987.9 816.8L988.3 816.9L988.6 816.9L989.0 816.9L989.4 816.9L989.8 817.2L990.2 817.1L990.5 817.2L990.9 817.2L991.3 817.2L991.7 817.2L992.1 817.3L992.4 817.3L992.8 817.4L993.2 817.3L993.6 817.3L994.0 817.3L994.3 817.3L994.7 817.3L995.1 817.0L995.5 817.2L995.9 817.2L996.2 817.6L996.6 817.6L997.0 817.7L997.4 817.7L997.8 817.8L998.1 817.8L998.5 817.8L998.9 817.5L999.3 817.5L999.7 817.5L1000.0 817.4L1000.4 817.5L1000.8 817.4L1001.2 817.2L1001.6 817.4L1001.9 817.7L1002.3 817.2L1002.7 817.3L1003.1 817.1L1003.5 817.1L1003.8 816.8L1004.2 816.8L1004.6 817.0L1005.0 816.9L1005.4 816.9L1005.8 816.9L1006.1 816.9L1006.5 817.2L1006.9 817.3L1007.3 817.2L1007.7 817.2L1008.0 817.2L1008.4 817.2L1008.8 817.2L1009.2 817.2L1009.6 817.2L1009.9 817.2L1010.3 817.4L1010.7 817.5L1011.1 817.4L1011.5 817.4L1011.8 817.4L1012.2 817.5L1012.6 817.6L1013.0 817.6L1013.4 817.6L1013.7 818.1L1014.1 818.1L1014.5 818.2L1014.9 818.2L1015.3 818.5L1015.6 818.5L1016.0 818.5L1016.4 818.6L1016.8 818.5L1017.2 818.5L1017.5 818.4L1017.9 818.4L1018.3 818.4L1018.7 818.5L1019.1 818.5L1019.4 818.5L1019.8 818.5L1020.2 818.5L1020.6 818.5L1021.0 818.6L1021.3 818.6L1021.7 818.5L1022.1 818.5L1022.5 818.5L1022.9 818.5L1023.2 818.3L1023.6 818.3L1024.0 818.3L1024.4 818.3L1024.8 818.3L1025.1 818.3L1025.5 818.3L1025.9 818.3L1026.3 818.3L1026.7 818.3L1027.0 818.3L1027.4 818.3L1027.8 818.2L1028.2 818.3L1028.6 818.3L1028.9 818.3L1029.3 818.3L1029.7 818.3L1030.1 818.2L1030.5 818.2L1030.9 818.2L1031.2 818.1L1031.6 818.2L1032.0 818.2L1032.4 818.2L1032.8 818.2L1033.1 817.9L1033.5 817.9L1033.9 818.0L1034.3 818.0L1034.7 818.3L1035.0 818.2L1035.4 818.1L1035.8 818.1L1036.2 818.1L1036.6 817.9L1036.9 817.8L1037.3 817.8L1037.7 817.8L1038.1 817.8L1038.5 817.7L1038.8 817.7L1039.2 817.7L1039.6 817.7L1040.0 817.7L1040.4 817.7L1040.7 817.7L1041.1 817.6L1041.5 817.7L1041.9 817.7L1042.3 817.6L1042.6 817.7L1043.0 817.7L1043.4 817.7L1043.8 817.7L1044.2 817.8L1044.5 818.0L1044.9 817.9L1045.3 817.9L1045.7 817.9L1046.1 817.9L1046.4 818.0L1046.8 818.1L1047.2 818.1L1047.6 818.0L1048.0 817.9L1048.3 817.9L1048.7 817.9L1049.1 817.9L1049.5 817.9L1049.9 818.0L1050.2 817.9L1050.6 817.9L1051.0 817.8L1051.4 816.9L1051.8 816.9L1052.1 816.8L1052.5 817.0L1052.9 817.0L1053.3 817.0L1053.7 817.0L1054.0 817.0L1054.4 817.0L1054.8 817.0L1055.2 816.8L1055.6 816.7L1056.0 816.8L1056.3 816.7L1056.7 816.6L1057.1 816.6L1057.5 816.7L1057.9 816.6L1058.2 816.6L1058.6 816.7L1059.0 816.7L1059.4 816.9L1059.8 817.0L1060.1 817.0L1060.5 817.0L1060.9 817.0L1061.3 816.7L1061.7 816.8L1062.0 816.6L1062.4 816.6L1062.8 817.5L1063.2 817.6L1063.6 817.6L1063.9 817.6L1064.3 817.5L1064.7 817.5L1065.1 817.4L1065.5 817.1L1065.8 817.0L1066.2 817.0L1066.6 817.2L1067.0 817.1L1067.4 817.1L1067.7 817.1L1068.1 816.9L1068.5 816.7L1068.9 816.7L1069.3 816.7L1069.6 816.7L1070.0 816.7L1070.4 816.7L1070.8 816.7L1071.2 816.7L1071.5 816.7L1071.9 816.7L1072.3 816.7L1072.7 817.0L1073.1 817.0L1073.4 817.2L1073.8 817.2L1074.2 817.2L1074.6 816.2L1075.0 816.2L1075.3 816.2L1075.7 816.3L1076.1 816.3L1076.5 816.4L1076.9 816.7L1077.2 816.8L1077.6 816.7L1078.0 816.6L1078.4 816.7L1078.8 816.7L1079.1 816.7L1079.5 817.0L1079.9 817.2L1080.3 817.2L1080.7 817.1L1081.1 817.2L1081.4 817.2L1081.8 817.3L1082.2 817.3L1082.6 817.3L1083.0 817.3L1083.3 817.3L1083.7 817.3L1084.1 817.3L1084.5 817.3L1084.9 817.3L1085.2 817.3L1085.6 817.3L1086.0 818.2L1086.4 818.0L1086.8 818.0L1087.1 818.0L1087.5 818.0L1087.9 818.0L1088.3 818.0L1088.7 818.0L1089.0 818.1L1089.4 818.1L1089.8 818.1L1090.2 818.1L1090.6 818.1L1090.9 818.1L1091.3 818.2L1091.7 818.2L1092.1 818.2L1092.5 818.2L1092.8 818.2L1093.2 818.2L1093.6 818.2L1094.0 818.2L1094.4 818.2L1094.7 817.8L1095.1 817.8L1095.5 817.8L1095.9 817.8L1096.3 817.8L1096.6 817.8L1097.0 817.8L1097.4 817.8L1097.8 818.0L1098.2 817.9L1098.5 817.9L1098.9 817.8L1099.3 817.9L1099.7 817.9L1100.1 817.9L1100.4 817.9L1100.8 817.9L1101.2 817.9L1101.6 817.6L1102.0 817.6L1102.3 817.4L1102.7 817.3L1103.1 817.4L1103.5 817.4L1103.9 817.4L1104.2 817.4L1104.6 817.4L1105.0 817.3L1105.4 817.3L1105.8 817.3L1106.2 817.7L1106.5 817.7L1106.9 817.6L1107.3 817.5L1107.7 817.5L1108.1 817.4L1108.4 817.4L1108.8 817.3L1109.2 817.3L1109.6 817.3L1110.0 817.3L1110.3 817.1L1110.7 817.2L1111.1 817.2L1111.5 817.2L1111.9 817.1L1112.2 817.1L1112.6 817.2L1113.0 817.5L1113.4 817.4L1113.8 817.7L1114.1 817.5L1114.5 817.5L1114.9 817.4L1115.3 817.5L1115.7 817.5L1116.0 817.5L1116.4 817.5L1116.8 817.5L1117.2 817.5L1117.6 817.6L1117.9 816.0L1118.3 816.1L1118.7 816.2L1119.1 816.2L1119.5 816.2L1119.8 816.2L1120.2 816.3L1120.6 816.4L1121.0 816.5L1121.4 816.4L1121.7 816.6L1122.1 816.5L1122.5 816.5L1122.9 816.5L1123.3 816.1L1123.6 816.1L1124.0 816.1L1124.4 816.1L1124.8 816.0L1125.2 815.9L1125.5 816.1L1125.9 816.1L1126.3 816.1L1126.7 816.2L1127.1 816.1L1127.4 816.1L1127.8 816.0L1128.2 816.0L1128.6 816.0L1129.0 816.0L1129.3 817.5L1129.7 817.5L1130.1 817.4L1130.5 817.5L1130.9 817.5L1131.3 817.5L1131.6 817.6L1132.0 817.6L1132.4 817.4L1132.8 817.5L1133.2 817.1L1133.5 817.1L1133.9 817.2L1134.3 817.2L1134.7 817.7L1135.1 817.7L1135.4 817.7L1135.8 817.1L1136.2 817.2L1136.6 817.2L1137.0 817.2L1137.3 817.1L1137.7 817.1L1138.1 817.1L1138.5 817.1L1138.9 817.1L1139.2 817.1L1139.6 817.1L1140.0 817.1L1140.4 817.2L1140.8 817.2L1141.1 817.3L1141.5 817.3L1141.9 817.3L1142.3 817.4L1142.7 817.4L1143.0 817.3L1143.4 817.1L1143.8 817.3L1144.2 817.2L1144.6 817.6L1144.9 817.6L1145.3 817.6L1145.7 817.6L1146.1 817.6L1146.5 817.5L1146.8 817.6L1147.2 818.1L1147.6 818.2L1148.0 818.1L1148.4 818.1L1148.7 818.2L1149.1 818.2L1149.5 818.2L1149.9 818.2L1150.3 818.2L1150.6 818.2L1151.0 818.2L1151.4 818.2L1151.8 818.0L1152.2 818.1L1152.5 818.1L1152.9 818.0L1153.3 818.0L1153.7 818.0L1154.1 817.9L1154.4 817.9L1154.8 818.1L1155.2 818.1L1155.6 818.2L1156.0 818.2L1156.3 818.3L1156.7 818.3L1157.1 818.3L1157.5 818.3L1157.9 818.3L1158.3 816.9L1158.6 816.9L1159.0 815.4L1159.4 815.5L1159.8 815.6L1160.2 814.2L1160.5 814.2L1160.9 814.2L1161.3 814.2L1161.7 814.2L1162.1 814.3L1162.4 813.6L1162.8 813.6L1163.2 813.8L1163.6 813.7L1164.0 813.6L1164.3 813.6L1164.7 813.7L1165.1 813.6L1165.5 813.6L1165.9 813.2L1166.2 813.2L1166.6 813.2L1167.0 812.9L1167.4 812.9L1167.8 812.9L1168.1 812.6L1168.5 812.7L1168.9 812.7L1169.3 812.4L1169.7 813.8L1170.0 813.8L1170.4 815.2L1170.8 815.2L1171.2 815.2L1171.6 816.6L1171.9 816.6L1172.3 816.6L1172.7 816.6L1173.1 816.6L1173.5 816.5L1173.8 817.1L1174.2 816.9L1174.6 816.6L1175.0 816.7L1175.4 816.8L1175.7 816.8L1176.1 816.4L1176.5 816.5L1176.9 816.6L1177.3 816.8L1177.6 816.9L1178.0 816.6L1178.4 817.0L1178.8 817.0L1179.2 817.0L1179.5 817.2L1179.9 817.2L1180.3 817.2L1180.7 817.4L1181.1 817.5L1181.4 817.5L1181.8 817.5L1182.2 817.5L1182.6 817.5L1183.0 817.5L1183.4 817.5L1183.7 817.4L1184.1 817.5L1184.5 817.4L1184.9 817.5L1185.3 817.5L1185.6 817.8L1186.0 818.1L1186.4 818.0L1186.8 818.0L1187.2 818.0L1187.5 818.3L1187.9 818.3L1188.3 818.3L1188.7 818.3L1189.1 818.2L1189.4 818.3L1189.8 818.3L1190.2 818.3L1190.6 818.3L1191.0 817.9L1191.3 817.9L1191.7 817.9L1192.1 817.9L1192.5 817.9L1192.9 817.8L1193.2 817.8L1193.6 817.7L1194.0 817.8L1194.4 817.7L1194.8 817.7L1195.1 817.8L1195.5 817.8L1195.9 817.8L1196.3 817.8L1196.7 817.8L1197.0 817.8L1197.4 817.8L1197.8 817.8L1198.2 817.8L1198.6 817.8L1198.9 817.6L1199.3 817.6L1199.7 817.6L1200.1 817.6L1200.5 817.6L1200.8 817.7L1201.2 817.6L1201.6 817.6L1202.0 817.6L1202.4 818.0L1202.7 818.0L1203.1 818.0L1203.5 817.9L1203.9 817.7L1204.3 817.7L1204.6 817.8L1205.0 817.8L1205.4 817.8L1205.8 817.9L1206.2 817.9L1206.5 817.9L1206.9 817.9L1207.3 817.5L1207.7 817.5L1208.1 817.5L1208.5 817.4L1208.8 817.1L1209.2 817.1L1209.6 817.2L1210.0 817.1L1210.4 817.3L1210.7 817.3L1211.1 817.3L1211.5 817.3L1211.9 817.3L1212.3 817.4L1212.6 817.1L1213.0 817.2L1213.4 817.2L1213.8 817.2L1214.2 817.2L1214.5 817.2L1214.9 817.4L1215.3 817.5L1215.7 817.4L1216.1 817.5L1216.4 817.5L1216.8 817.1L1217.2 817.1L1217.6 817.1L1218.0 817.1L1218.3 817.0L1218.7 817.4L1219.1 817.4L1219.5 817.4L1219.9 817.3L1220.2 817.5L1220.6 817.5L1221.0 817.5L1221.4 817.5L1221.8 817.6L1222.1 817.6L1222.5 817.6L1222.9 817.6L1223.3 817.6L1223.7 817.6L1224.0 817.9L1224.4 817.7L1224.8 817.7L1225.2 817.7L1225.6 817.7L1225.9 817.7L1226.3 817.7L1226.7 817.8L1227.1 817.8L1227.5 817.7L1227.8 817.7L1228.2 818.1L1228.6 818.1L1229.0 814.3L1229.4 814.3L1229.7 814.4L1230.1 814.2L1230.5 814.3L1230.9 814.3L1231.3 814.4L1231.6 814.0L1232.0 814.0L1232.4 814.0L1232.8 814.0L1233.2 814.0L1233.6 814.0L1233.9 814.0L1234.3 813.6L1234.7 813.6L1235.1 813.6L1235.5 813.6L1235.8 813.7L1236.2 813.7L1236.6 813.7L1237.0 813.7L1237.4 813.6L1237.7 813.6L1238.1 813.2L1238.5 813.1L1238.9 813.2L1239.3 813.1L1239.6 813.1L1240.0 813.1L1240.4 816.7L1240.8 816.7L1241.2 816.6L1241.5 816.7L1241.9 816.7L1242.3 816.7L1242.7 816.7L1243.1 817.3L1243.4 817.3L1243.8 817.3L1244.2 817.2L1244.6 817.2L1245.0 817.2L1245.3 817.2L1245.7 817.6L1246.1 817.6L1246.5 817.6L1246.9 817.5L1247.2 817.4L1247.6 817.4L1248.0 817.4L1248.4 817.1L1248.8 817.1L1249.1 817.1L1249.5 817.6L1249.9 817.3L1250.3 817.4L1250.7 817.4L1251.0 817.4L1251.4 817.4L1251.8 817.6L1252.2 817.7L1252.6 817.7L1252.9 817.7L1253.3 817.7L1253.7 817.7L1254.1 817.6L1254.5 817.5L1254.8 817.6L1255.2 817.4L1255.6 817.5L1256.0 817.5L1256.4 817.5L1256.7 817.5L1257.1 817.4L1257.5 817.4L1257.9 817.4L1258.3 817.6L1258.7 817.7L1259.0 817.6L1259.4 817.2L1259.8 817.5L1260.2 817.5L1260.6 817.5L1260.9 817.5L1261.3 817.8L1261.7 817.7L1262.1 817.4L1262.5 817.4L1262.8 817.4L1263.2 817.4L1263.6 817.4L1264.0 817.4L1264.4 817.0L1264.7 817.0L1265.1 817.1L1265.5 817.0L1265.9 817.1L1266.3 817.0L1266.6 817.1L1267.0 817.1L1267.4 817.1L1267.8 817.1L1268.2 817.1L1268.5 817.1L1268.9 817.1L1269.3 817.1L1269.7 817.1L1270.1 817.1L1270.4 817.1L1270.8 817.5L1271.2 817.3L1271.6 817.4L1272.0 817.1L1272.3 817.1L1272.7 817.1L1273.1 817.1L1273.5 817.4L1273.9 817.3L1274.2 817.3L1274.6 817.3L1275.0 817.3L1275.4 816.9L1275.8 817.2L1276.1 817.2L1276.5 817.1L1276.9 817.1L1277.3 817.1L1277.7 816.8L1278.0 816.9L1278.4 816.8L1278.8 816.9L1279.2 816.9L1279.6 817.0L1279.9 816.9L1280.3 816.9L1280.7 816.9L1281.1 816.9L1281.5 817.0L1281.8 817.0L1282.2 816.8L1282.6 816.9L1283.0 816.9L1283.4 817.2L1283.8 817.2L1284.1 817.2L1284.5 817.2L1284.9 817.2L1285.3 817.2L1285.7 817.3L1286.0 817.3L1286.4 817.3L1286.8 817.7L1287.2 817.8L1287.6 817.7L1287.9 817.8L1288.3 817.8L1288.7 817.1L1289.1 817.5L1289.5 817.5L1289.8 817.5L1290.2 816.7L1290.6 816.6L1291.0 816.5L1291.4 816.5L1291.7 816.3L1292.1 816.1L1292.5 816.1L1292.9 815.9L1293.3 815.9L1293.6 816.0L1294.0 816.0L1294.4 816.0L1294.8 816.0L1295.2 816.0L1295.5 815.8L1295.9 815.8L1296.3 815.8L1296.7 815.6L1297.1 815.6L1297.4 815.4L1297.8 815.2L1298.2 815.2L1298.6 815.0L1299.0 815.0L1299.3 815.0L1299.7 814.9L1300.1 815.7L1300.5 815.6L1300.9 815.6L1301.2 815.2L1301.6 815.9L1302.0 815.9L1302.4 816.0L1302.8 816.1L1303.1 816.2L1303.5 816.3L1303.9 816.3L1304.3 816.5L1304.7 816.5L1305.0 816.6L1305.4 816.5L1305.8 816.5L1306.2 816.5L1306.6 816.2L1306.9 816.4L1307.3 816.4L1307.7 816.4L1308.1 816.4L1308.5 816.3L1308.9 816.1L1309.2 816.2L1309.6 816.1L1310.0 816.1L1310.4 816.2L1310.8 816.0L1311.1 815.9L1311.5 815.9L1311.9 815.9L1312.3 815.9L1312.7 816.3L1313.0 816.3L1313.4 816.3L1313.8 816.3L1314.2 816.1L1314.6 816.1L1314.9 816.1L1315.3 816.1L1315.7 816.1L1316.1 816.1L1316.5 816.0L1316.8 814.1L1317.2 814.0L1317.6 814.0L1318.0 814.2L1318.4 813.9L1318.7 813.6L1319.1 813.5L1319.5 813.6L1319.9 813.4L1320.3 813.1L1320.6 813.1L1321.0 813.0L1321.4 813.0L1321.8 812.9L1322.2 813.1L1322.5 813.1L1322.9 813.2L1323.3 813.1L1323.7 813.2L1324.1 813.1L1324.4 813.2L1324.8 813.3L1325.2 812.8L1325.6 812.8L1326.0 812.7L1326.3 812.7L1326.7 812.6L1327.1 812.0L1327.5 812.0L1327.9 812.1L1328.2 814.0L1328.6 813.8L1329.0 813.9L1329.4 813.9L1329.8 812.6L1330.1 812.6L1330.5 812.6L1330.9 812.5L1331.3 811.3L1331.7 811.8L1332.0 811.9L1332.4 811.7L1332.8 811.0L1333.2 810.9L1333.6 810.7L1333.9 810.6L1334.3 810.2L1334.7 810.1L1335.1 809.7L1335.5 809.4L1335.9 809.3L1336.2 809.0L1336.6 809.4L1337.0 809.5L1337.4 807.9L1337.8 807.9L1338.1 807.6L1338.5 805.6L1338.9 804.4L1339.3 804.2L1339.7 804.1L1340.0 804.2L1340.4 804.0L1340.8 802.2L1341.2 803.6L1341.6 803.9L1341.9 803.5L1342.3 802.9L1342.7 804.2L1343.1 804.2L1343.5 804.3L1343.8 803.9L1344.2 804.4L1344.6 804.4L1345.0 804.5L1345.4 804.6L1345.7 804.9L1346.1 805.0L1346.5 805.3L1346.9 805.6L1347.3 805.5L1347.6 805.8L1348.0 805.9L1348.4 805.6L1348.8 807.2L1349.2 807.0L1349.5 807.3L1349.9 809.9L1350.3 811.0L1350.7 811.2L1351.1 811.1L1351.4 811.3L1351.8 810.5L1352.2 812.2L1352.6 812.0L1353.0 812.0L1353.3 812.2L1353.7 812.7L1354.1 812.7L1354.5 812.8L1354.9 812.8L1355.2 812.7L1355.6 812.9L1356.0 812.7L1356.4 812.8L1356.8 812.6L1357.1 812.5L1357.5 812.5L1357.9 812.4L1358.3 812.5L1358.7 811.4L1359.0 811.4L1359.4 811.0L1359.8 811.1L1360.2 811.2L1360.6 811.3L1361.0 811.2L1361.3 811.2L1361.7 811.2L1362.1 811.3L1362.5 809.5L1362.9 809.5L1363.2 810.4L1363.6 810.5L1364.0 810.6L1364.4 810.4L1364.8 810.6L1365.1 810.8L1365.5 810.9L1365.9 810.8L1366.3 810.8L1366.7 811.5L1367.0 811.5L1367.4 811.8L1367.8 811.7L1368.2 811.5L1368.6 811.4L1368.9 811.2L1369.3 811.2L1369.7 811.1L1370.1 812.3L1370.5 812.1L1370.8 812.1L1371.2 811.9L1371.6 811.8L1372.0 811.9L1372.4 811.6L1372.7 811.4L1373.1 811.4L1373.5 809.5L1373.9 811.4L1374.3 811.2L1374.6 811.2L1375.0 811.2L1375.4 811.3L1375.8 810.7L1376.2 810.7L1376.5 810.7L1376.9 810.7L1377.3 810.6L1377.7 810.6L1378.1 810.3L1378.4 810.1L1378.8 809.9L1379.2 809.8L1379.6 807.3L1380.0 807.5L1380.3 807.7L1380.7 807.5L1381.1 807.6L1381.5 807.3L1381.9 807.5L1382.2 807.5L1382.6 807.7L1383.0 807.7L1383.4 807.7L1383.8 807.4L1384.1 807.4L1384.5 807.3L1384.9 808.9L1385.3 808.3L1385.7 807.9L1386.1 807.9L1386.4 807.2L1386.8 807.3L1387.2 807.5L1387.6 807.4L1388.0 807.5L1388.3 807.5L1388.7 807.3L1389.1 807.4L1389.5 807.3L1389.9 804.7L1390.2 804.9L1390.6 805.0L1391.0 807.6L1391.4 807.4L1391.8 807.5L1392.1 807.4L1392.5 807.1L1392.9 804.9L1393.3 805.0L1393.7 805.3L1394.0 805.4L1394.4 805.3L1394.8 805.1L1395.2 805.6L1395.6 805.5L1395.9 805.3L1396.3 805.1L1396.7 805.6L1397.1 806.2L1397.5 804.6L1397.8 805.0L1398.2 804.7L1398.6 805.4L1399.0 805.1L1399.4 804.8L1399.7 804.9L1400.1 803.1L1400.5 802.9L1400.9 803.1L1401.3 805.6L1401.6 805.7L1402.0 805.8L1402.4 804.6L1402.8 804.7L1403.2 804.6L1403.5 804.7L1403.9 805.0L1404.3 807.5L1404.7 807.3L1405.1 806.5L1405.4 806.5L1405.8 806.5L1406.2 806.7L1406.6 806.9L1407.0 806.8L1407.3 807.1L1407.7 807.0L1408.1 807.1L1408.5 807.0L1408.9 808.6L1409.2 808.9L1409.6 808.8L1410.0 808.6L1410.4 808.8L1410.8 809.1L1411.2 808.9L1411.5 810.8L1411.9 810.8L1412.3 810.9L1412.7 811.3L1413.1 811.2L1413.4 811.1L1413.8 812.7L1414.2 812.3L1414.6 809.6L1415.0 809.7L1415.3 809.5L1415.7 809.3L1416.1 809.3L1416.5 809.6L1416.9 809.7L1417.2 809.8L1417.6 809.7L1418.0 809.1L1418.4 807.9L1418.8 808.0L1419.1 808.5L1419.5 808.5L1419.9 808.1L1420.3 808.0L1420.7 807.3L1421.0 807.6L1421.4 807.7L1421.8 807.5L1422.2 807.3L1422.6 807.0L1422.9 804.5L1423.3 804.3L1423.7 804.2L1424.1 804.0L1424.5 804.0L1424.8 803.7L1425.2 803.4L1425.6 803.2L1426.0 804.7L1426.4 804.5L1426.7 804.3L1427.1 804.2L1427.5 804.0L1427.9 804.3L1428.3 804.1L1428.6 803.5L1429.0 803.4L1429.4 803.9L1429.8 805.0L1430.2 804.9L1430.5 804.9L1430.9 804.9L1431.3 804.6L1431.7 802.2L1432.1 802.8L1432.4 802.9L1432.8 802.7L1433.2 802.5L1433.6 802.7L1434.0 802.5L1434.3 805.3L1434.7 805.5L1435.1 805.5L1435.5 805.0L1435.9 805.0L1436.3 805.0L1436.6 805.2L1437.0 805.7L1437.4 806.6L1437.8 805.0L1438.2 805.3L1438.5 805.5L1438.9 805.8L1439.3 805.6L1439.7 805.3L1440.1 805.9L1440.4 805.5L1440.8 805.3L1441.2 805.6L1441.6 805.4L1442.0 805.3L1442.3 805.0L1442.7 805.4L1443.1 807.2L1443.5 807.2L1443.9 806.8L1444.2 806.6L1444.6 805.0L1445.0 804.9L1445.4 805.0L1445.8 804.7L1446.1 804.2L1446.5 803.8L1446.9 804.4L1447.3 803.2L1447.7 803.1L1448.0 802.9L1448.4 803.0L1448.8 803.3L1449.2 804.9L1449.6 804.9L1449.9 804.7L1450.3 804.7L1450.7 804.6L1451.1 803.5L1451.5 803.4L1451.8 802.6L1452.2 802.7L1452.6 802.5L1453.0 800.2L1453.4 800.0L1453.7 800.3L1454.1 800.2L1454.5 801.0L1454.9 800.9L1455.3 794.8L1455.6 795.2L1456.0 796.7L1456.4 796.7L1456.8 796.3L1457.2 796.6L1457.5 791.5L1457.9 791.5L1458.3 791.1L1458.7 792.1L1459.1 792.4L1459.4 792.5L1459.8 792.4L1460.2 792.3L1460.6 790.5L1461.0 790.5L1461.4 790.7L1461.7 790.9L1462.1 790.6L1462.5 791.9L1462.9 792.0L1463.3 792.5L1463.6 792.6L1464.0 792.3L1464.4 794.5L1464.8 794.8L1465.2 794.8L1465.5 795.0L1465.9 794.5L1466.3 793.6L1466.7 799.9L1467.1 798.0L1467.4 798.3L1467.8 798.4L1468.2 799.1L1468.6 798.8L1469.0 804.5L1469.3 804.2L1469.7 804.3L1470.1 803.8L1470.5 803.8L1470.9 803.8L1471.2 804.0L1471.6 803.5L1472.0 804.9L1472.4 804.5L1472.8 804.1L1473.1 803.5L1473.5 804.1L1473.9 803.7L1474.3 803.7L1474.7 804.0L1475.0 803.9L1475.4 804.3L1475.8 804.2L1476.2 800.1L1476.6 799.6L1476.9 799.6L1477.3 799.7L1477.7 800.5L1478.1 797.0L1478.5 798.7L1478.8 798.6L1479.2 798.3L1479.6 798.3L1480.0 798.4L1480.4 798.3L1480.7 798.2L1481.1 798.5L1481.5 798.6L1481.9 795.3L1482.3 795.3L1482.6 795.1L1483.0 795.6L1483.4 795.2L1483.8 791.3L1484.2 790.9L1484.5 789.3L1484.9 789.3L1485.3 789.8L1485.7 782.1L1486.1 782.6L1486.5 781.1L1486.8 779.1L1487.2 779.7L1487.6 777.1L1488.0 777.5L1488.4 776.2L1488.7 776.3L1489.1 774.6L1489.5 778.2L1489.9 776.8L1490.3 774.1L1490.6 769.6L1491.0 769.6L1491.4 769.4L1491.8 769.5L1492.2 770.2L1492.5 768.6L1492.9 766.9L1493.3 767.5L1493.7 763.9L1494.1 763.5L1494.4 761.6L1494.8 760.5L1495.2 764.8L1495.6 762.5L1496.0 762.0L1496.3 759.7L1496.7 756.1L1497.1 759.1L1497.5 755.0L1497.9 754.0L1498.2 756.2L1498.6 752.8L1499.0 744.0" fill="none" stroke="#8b7bf0" stroke-width="1" stroke-dasharray="3 2" opacity="0.9"/>
<path d="M110.9 754.4L111.3 749.2L111.7 753.3L112.0 750.5L112.4 748.9L112.8 746.2L113.2 741.9L113.6 741.5L113.9 743.2L114.3 741.9L114.7 736.9L115.1 737.0L115.5 741.1L115.8 738.7L116.2 741.8L116.6 739.7L117.0 739.9L117.4 740.6L117.7 742.3L118.1 737.2L118.5 740.8L118.9 739.1L119.3 744.6L119.6 744.0L120.0 745.0L120.4 748.1L120.8 748.6L121.2 747.1L121.5 746.1L121.9 744.9L122.3 744.0L122.7 742.1L123.1 742.4L123.4 741.1L123.8 741.5L124.2 740.6L124.6 743.7L125.0 744.1L125.4 749.3L125.7 746.8L126.1 744.7L126.5 745.8L126.9 743.2L127.3 742.1L127.6 740.2L128.0 746.0L128.4 742.5L128.8 741.0L129.2 742.6L129.5 742.8L129.9 744.4L130.3 744.9L130.7 741.4L131.1 741.4L131.4 742.8L131.8 743.3L132.2 741.5L132.6 740.7L133.0 744.1L133.3 743.4L133.7 745.3L134.1 744.6L134.5 744.9L134.9 746.3L135.2 743.5L135.6 743.0L136.0 740.1L136.4 740.7L136.8 743.1L137.1 741.7L137.5 739.6L137.9 740.8L138.3 735.2L138.7 734.0L139.0 734.5L139.4 734.5L139.8 734.8L140.2 732.7L140.6 734.6L140.9 731.6L141.3 735.6L141.7 732.5L142.1 735.4L142.5 733.0L142.8 735.3L143.2 731.8L143.6 731.9L144.0 733.9L144.4 730.7L144.7 733.4L145.1 733.5L145.5 731.5L145.9 736.1L146.3 736.2L146.6 736.0L147.0 738.5L147.4 737.9L147.8 736.3L148.2 738.5L148.5 736.1L148.9 738.2L149.3 733.6L149.7 736.3L150.1 737.7L150.5 733.7L150.8 729.7L151.2 728.5L151.6 724.1L152.0 722.6L152.4 721.5L152.7 718.0L153.1 716.8L153.5 714.0L153.9 715.2L154.3 712.3L154.6 713.0L155.0 710.9L155.4 708.5L155.8 710.8L156.2 710.5L156.5 709.8L156.9 705.5L157.3 702.7L157.7 699.3L158.1 693.8L158.4 688.8L158.8 689.2L159.2 684.1L159.6 683.2L160.0 680.7L160.3 684.0L160.7 681.4L161.1 681.0L161.5 693.8L161.9 702.5L162.2 705.2L162.6 703.9L163.0 702.3L163.4 699.9L163.8 699.9L164.1 695.6L164.5 695.3L164.9 692.9L165.3 693.0L165.7 692.4L166.0 692.2L166.4 695.6L166.8 697.7L167.2 699.3L167.6 700.3L167.9 701.2L168.3 699.8L168.7 697.0L169.1 696.6L169.5 694.9L169.8 698.3L170.2 696.3L170.6 695.8L171.0 692.5L171.4 692.4L171.7 696.5L172.1 694.0L172.5 695.2L172.9 697.6L173.3 697.2L173.6 697.6L174.0 694.7L174.4 696.6L174.8 696.3L175.2 697.0L175.6 700.6L175.9 699.2L176.3 700.3L176.7 704.1L177.1 712.9L177.5 715.3L177.8 710.9L178.2 709.1L178.6 707.0L179.0 707.0L179.4 709.3L179.7 710.0L180.1 710.0L180.5 709.0L180.9 710.3L181.3 710.9L181.6 709.4L182.0 711.2L182.4 714.9L182.8 712.7L183.2 712.7L183.5 709.0L183.9 710.7L184.3 709.3L184.7 710.8L185.1 712.5L185.4 714.2L185.8 713.5L186.2 713.5L186.6 711.5L187.0 712.1L187.3 710.7L187.7 711.7L188.1 709.4L188.5 711.6L188.9 709.5L189.2 708.6L189.6 706.3L190.0 701.4L190.4 701.7L190.8 703.7L191.1 702.0L191.5 703.6L191.9 703.2L192.3 702.2L192.7 701.9L193.0 706.0L193.4 705.8L193.8 706.2L194.2 706.6L194.6 703.0L194.9 704.5L195.3 705.0L195.7 704.6L196.1 704.9L196.5 705.9L196.8 707.8L197.2 707.1L197.6 705.4L198.0 704.7L198.4 701.3L198.7 701.7L199.1 701.5L199.5 701.1L199.9 701.2L200.3 706.7L200.7 702.4L201.0 702.5L201.4 704.2L201.8 705.9L202.2 701.8L202.6 702.7L202.9 701.4L203.3 701.3L203.7 699.6L204.1 697.2L204.5 700.2L204.8 697.7L205.2 700.0L205.6 697.1L206.0 697.0L206.4 695.6L206.7 696.1L207.1 698.9L207.5 697.3L207.9 697.5L208.3 693.7L208.6 698.9L209.0 694.7L209.4 694.4L209.8 691.7L210.2 691.8L210.5 690.6L210.9 692.5L211.3 689.5L211.7 687.4L212.1 685.1L212.4 684.5L212.8 688.4L213.2 684.0L213.6 682.9L214.0 685.9L214.3 682.3L214.7 685.6L215.1 689.4L215.5 687.1L215.9 690.9L216.2 689.9L216.6 689.9L217.0 690.6L217.4 688.8L217.8 686.0L218.1 680.9L218.5 682.6L218.9 684.0L219.3 682.5L219.7 686.4L220.0 683.8L220.4 686.8L220.8 685.2L221.2 690.1L221.6 684.4L221.9 684.6L222.3 682.6L222.7 684.0L223.1 678.7L223.5 679.5L223.8 681.1L224.2 677.5L224.6 677.7L225.0 678.7L225.4 678.8L225.8 680.6L226.1 681.5L226.5 679.5L226.9 678.6L227.3 679.5L227.7 680.7L228.0 680.2L228.4 681.2L228.8 678.6L229.2 676.9L229.6 674.9L229.9 675.1L230.3 667.7L230.7 664.2L231.1 661.5L231.5 661.7L231.8 661.2L232.2 657.3L232.6 655.9L233.0 656.9L233.4 655.7L233.7 652.7L234.1 652.5L234.5 649.4L234.9 649.4L235.3 646.8L235.6 643.2L236.0 638.5L236.4 644.6L236.8 653.8L237.2 656.5L237.5 662.7L237.9 666.0L238.3 671.6L238.7 675.7L239.1 678.2L239.4 674.2L239.8 669.8L240.2 670.9L240.6 664.4L241.0 661.8L241.3 663.6L241.7 664.4L242.1 663.1L242.5 661.5L242.9 662.0L243.2 662.5L243.6 664.7L244.0 664.0L244.4 662.9L244.8 657.9L245.1 657.6L245.5 655.7L245.9 655.3L246.3 655.2L246.7 654.8L247.0 650.6L247.4 651.9L247.8 648.3L248.2 645.8L248.6 646.0L248.9 645.1L249.3 648.2L249.7 651.1L250.1 650.8L250.5 654.8L250.9 653.7L251.2 653.2L251.6 651.0L252.0 652.3L252.4 649.4L252.8 646.2L253.1 644.6L253.5 642.6L253.9 639.5L254.3 640.9L254.7 641.8L255.0 640.8L255.4 638.1L255.8 637.7L256.2 637.2L256.6 633.5L256.9 631.8L257.3 627.8L257.7 628.1L258.1 628.9L258.5 630.1L258.8 628.2L259.2 628.7L259.6 630.4L260.0 632.9L260.4 634.0L260.7 634.5L261.1 634.3L261.5 633.8L261.9 632.5L262.3 634.4L262.6 635.2L263.0 631.9L263.4 635.2L263.8 643.5L264.2 644.6L264.5 648.6L264.9 653.2L265.3 654.3L265.7 657.1L266.1 659.9L266.4 656.6L266.8 653.6L267.2 647.8L267.6 645.7L268.0 644.3L268.3 642.8L268.7 640.6L269.1 639.6L269.5 637.9L269.9 639.2L270.2 638.5L270.6 636.6L271.0 639.5L271.4 640.7L271.8 636.7L272.1 633.6L272.5 633.7L272.9 633.1L273.3 632.5L273.7 635.5L274.0 632.8L274.4 634.4L274.8 634.6L275.2 630.4L275.6 633.0L276.0 631.0L276.3 629.5L276.7 629.2L277.1 628.1L277.5 629.7L277.9 627.5L278.2 628.4L278.6 628.2L279.0 624.0L279.4 621.2L279.8 620.1L280.1 616.4L280.5 619.1L280.9 616.4L281.3 615.3L281.7 615.1L282.0 609.4L282.4 607.5L282.8 606.5L283.2 600.7L283.6 598.1L283.9 594.8L284.3 591.4L284.7 593.6L285.1 595.1L285.5 598.2L285.8 599.5L286.2 597.9L286.6 598.9L287.0 600.4L287.4 595.1L287.7 589.0L288.1 588.7L288.5 583.6L288.9 578.0L289.3 574.4L289.6 567.6L290.0 561.2L290.4 566.3L290.8 569.1L291.2 573.5L291.5 568.2L291.9 568.7L292.3 564.4L292.7 561.1L293.1 554.9L293.4 553.2L293.8 555.1L294.2 550.2L294.6 549.4L295.0 545.7L295.3 543.4L295.7 546.0L296.1 546.2L296.5 549.1L296.9 547.5L297.2 552.1L297.6 553.5L298.0 556.5L298.4 557.2L298.8 557.7L299.1 559.3L299.5 555.0L299.9 552.3L300.3 550.5L300.7 552.3L301.1 552.9L301.4 553.9L301.8 553.7L302.2 554.4L302.6 554.9L303.0 556.2L303.3 557.4L303.7 555.1L304.1 556.4L304.5 554.9L304.9 552.7L305.2 556.2L305.6 553.4L306.0 555.1L306.4 555.7L306.8 558.3L307.1 560.6L307.5 563.1L307.9 566.4L308.3 568.1L308.7 569.2L309.0 574.4L309.4 580.0L309.8 583.4L310.2 571.2L310.6 566.3L310.9 562.9L311.3 556.8L311.7 550.8L312.1 548.0L312.5 548.8L312.8 548.5L313.2 546.1L313.6 548.1L314.0 548.3L314.4 550.0L314.7 549.1L315.1 547.1L315.5 543.5L315.9 544.6L316.3 545.6L316.6 541.1L317.0 540.0L317.4 538.7L317.8 529.6L318.2 527.9L318.5 523.1L318.9 520.3L319.3 517.4L319.7 515.4L320.1 509.3L320.4 505.1L320.8 501.0L321.2 503.5L321.6 503.9L322.0 506.3L322.3 506.9L322.7 507.5L323.1 510.9L323.5 508.1L323.9 508.0L324.2 506.9L324.6 503.4L325.0 499.9L325.4 501.9L325.8 499.1L326.1 498.2L326.5 490.2L326.9 489.1L327.3 487.8L327.7 489.2L328.1 494.7L328.4 494.7L328.8 497.8L329.2 500.5L329.6 500.7L330.0 502.5L330.3 503.2L330.7 502.1L331.1 499.2L331.5 504.2L331.9 506.9L332.2 506.7L332.6 510.7L333.0 513.6L333.4 515.1L333.8 518.3L334.1 515.7L334.5 513.4L334.9 511.0L335.3 514.5L335.7 512.5L336.0 513.4L336.4 512.7L336.8 509.4L337.2 503.9L337.6 505.1L337.9 502.9L338.3 500.7L338.7 502.4L339.1 499.9L339.5 499.3L339.8 497.0L340.2 498.3L340.6 500.3L341.0 497.2L341.4 494.5L341.7 493.6L342.1 493.7L342.5 490.2L342.9 484.5L343.3 477.7L343.6 474.2L344.0 474.8L344.4 473.8L344.8 471.5L345.2 473.2L345.5 470.7L345.9 466.4L346.3 468.7L346.7 471.3L347.1 471.0L347.4 472.2L347.8 472.4L348.2 474.8L348.6 476.0L349.0 474.5L349.3 471.6L349.7 471.0L350.1 469.6L350.5 463.0L350.9 461.4L351.2 458.1L351.6 456.9L352.0 452.0L352.4 449.7L352.8 446.8L353.2 446.0L353.5 449.1L353.9 450.4L354.3 454.2L354.7 453.8L355.1 458.4L355.4 463.1L355.8 460.9L356.2 454.6L356.6 447.7L357.0 442.8L357.3 439.5L357.7 439.2L358.1 436.9L358.5 436.9L358.9 437.0L359.2 434.3L359.6 429.0L360.0 425.1L360.4 421.8L360.8 418.2L361.1 415.9L361.5 412.9L361.9 409.8L362.3 407.0L362.7 406.6L363.0 402.3L363.4 400.1L363.8 395.4L364.2 383.8L364.6 369.8L364.9 355.3L365.3 356.0L365.7 359.1L366.1 361.7L366.5 359.1L366.8 357.7L367.2 357.9L367.6 353.5L368.0 350.1L368.4 348.9L368.7 354.5L369.1 357.7L369.5 362.4L369.9 365.5L370.3 371.8L370.6 374.2L371.0 378.0L371.4 373.6L371.8 371.4L372.2 367.5L372.5 370.8L372.9 379.0L373.3 383.5L373.7 384.8L374.1 381.7L374.4 378.2L374.8 373.5L375.2 369.7L375.6 362.4L376.0 357.7L376.3 362.1L376.7 364.3L377.1 368.0L377.5 374.4L377.9 378.4L378.3 383.0L378.6 381.9L379.0 386.9L379.4 388.8L379.8 387.0L380.2 391.2L380.5 395.7L380.9 400.2L381.3 405.0L381.7 403.8L382.1 405.3L382.4 404.6L382.8 403.4L383.2 403.6L383.6 402.0L384.0 403.3L384.3 406.0L384.7 411.0L385.1 414.3L385.5 416.2L385.9 423.7L386.2 423.8L386.6 432.1L387.0 440.6L387.4 445.9L387.8 444.4L388.1 440.0L388.5 434.9L388.9 431.3L389.3 428.4L389.7 427.0L390.0 425.0L390.4 421.2L390.8 419.1L391.2 414.2L391.6 414.6L391.9 410.3L392.3 407.6L392.7 408.2L393.1 405.5L393.5 406.0L393.8 406.6L394.2 408.8L394.6 410.3L395.0 416.6L395.4 414.2L395.7 414.2L396.1 409.7L396.5 411.7L396.9 407.9L397.3 403.5L397.6 402.4L398.0 405.2L398.4 410.6L398.8 415.4L399.2 417.0L399.5 414.4L399.9 420.3L400.3 423.3L400.7 425.7L401.1 430.4L401.4 431.2L401.8 435.0L402.2 436.2L402.6 437.1L403.0 434.7L403.4 432.2L403.7 429.6L404.1 429.0L404.5 429.4L404.9 430.4L405.3 436.9L405.6 435.6L406.0 434.7L406.4 437.9L406.8 442.9L407.2 448.6L407.5 452.8L407.9 452.6L408.3 451.5L408.7 454.7L409.1 455.9L409.4 457.8L409.8 458.0L410.2 455.3L410.6 457.1L411.0 454.3L411.3 451.1L411.7 449.9L412.1 451.0L412.5 446.5L412.9 445.3L413.2 441.2L413.6 435.8L414.0 435.6L414.4 432.5L414.8 433.5L415.1 431.8L415.5 430.6L415.9 428.4L416.3 424.8L416.7 424.0L417.0 419.6L417.4 420.1L417.8 423.8L418.2 421.7L418.6 422.9L418.9 424.4L419.3 423.7L419.7 419.9L420.1 422.6L420.5 418.6L420.8 418.0L421.2 415.3L421.6 416.5L422.0 420.0L422.4 423.5L422.7 427.6L423.1 428.6L423.5 430.8L423.9 427.7L424.3 430.6L424.6 429.0L425.0 433.1L425.4 431.7L425.8 433.0L426.2 434.9L426.5 438.5L426.9 436.8L427.3 439.8L427.7 437.0L428.1 439.3L428.5 442.1L428.8 444.1L429.2 448.4L429.6 451.3L430.0 449.0L430.4 448.3L430.7 445.3L431.1 444.4L431.5 440.3L431.9 443.3L432.3 442.3L432.6 439.9L433.0 441.1L433.4 441.9L433.8 444.1L434.2 447.0L434.5 445.3L434.9 452.8L435.3 458.6L435.7 459.5L436.1 460.7L436.4 460.0L436.8 457.5L437.2 458.6L437.6 459.5L438.0 460.2L438.3 457.7L438.7 459.1L439.1 464.1L439.5 463.5L439.9 465.2L440.2 468.6L440.6 470.7L441.0 470.2L441.4 473.0L441.8 468.2L442.1 464.7L442.5 460.1L442.9 461.7L443.3 459.0L443.7 460.6L444.0 458.6L444.4 456.5L444.8 454.5L445.2 461.2L445.6 460.0L445.9 460.7L446.3 458.4L446.7 464.9L447.1 461.5L447.5 457.0L447.8 456.3L448.2 455.3L448.6 453.2L449.0 450.3L449.4 450.9L449.7 447.8L450.1 446.4L450.5 444.3L450.9 439.6L451.3 440.2L451.6 438.4L452.0 434.2L452.4 433.4L452.8 434.1L453.2 431.9L453.6 433.5L453.9 438.2L454.3 442.8L454.7 444.9L455.1 448.2L455.5 451.7L455.8 451.5L456.2 455.7L456.6 457.4L457.0 457.0L457.4 462.0L457.7 461.4L458.1 463.8L458.5 462.8L458.9 461.8L459.3 463.0L459.6 464.5L460.0 461.5L460.4 459.6L460.8 462.2L461.2 458.2L461.5 459.0L461.9 458.9L462.3 461.4L462.7 458.2L463.1 459.6L463.4 455.1L463.8 455.0L464.2 453.8L464.6 455.4L465.0 453.3L465.3 452.7L465.7 454.2L466.1 448.6L466.5 450.4L466.9 450.6L467.2 446.9L467.6 451.7L468.0 455.9L468.4 459.1L468.8 464.3L469.1 462.1L469.5 463.0L469.9 460.3L470.3 459.5L470.7 460.6L471.0 460.1L471.4 459.0L471.8 460.5L472.2 456.3L472.6 457.0L472.9 455.3L473.3 460.7L473.7 457.4L474.1 457.6L474.5 457.3L474.8 459.6L475.2 459.8L475.6 458.5L476.0 455.5L476.4 458.3L476.7 459.7L477.1 462.0L477.5 460.3L477.9 457.1L478.3 457.9L478.7 460.1L479.0 460.8L479.4 460.1L479.8 461.2L480.2 461.5L480.6 463.2L480.9 464.9L481.3 460.5L481.7 463.4L482.1 457.3L482.5 460.0L482.8 461.9L483.2 457.7L483.6 457.0L484.0 459.9L484.4 457.9L484.7 453.8L485.1 456.5L485.5 455.1L485.9 456.2L486.3 457.8L486.6 458.9L487.0 458.4L487.4 459.3L487.8 458.9L488.2 461.4L488.5 460.6L488.9 461.0L489.3 459.0L489.7 457.7L490.1 456.2L490.4 458.8L490.8 460.6L491.2 460.3L491.6 457.2L492.0 459.8L492.3 457.5L492.7 459.8L493.1 460.5L493.5 462.9L493.9 466.6L494.2 468.3L494.6 469.8L495.0 469.4L495.4 474.1L495.8 478.6L496.1 485.5L496.5 483.7L496.9 487.2L497.3 492.2L497.7 498.7L498.0 500.7L498.4 505.1L498.8 509.8L499.2 511.7L499.6 513.0L499.9 506.6L500.3 504.4L500.7 505.1L501.1 503.5L501.5 504.2L501.8 510.7L502.2 513.3L502.6 517.0L503.0 518.3L503.4 520.9L503.7 524.9L504.1 523.9L504.5 527.2L504.9 531.9L505.3 532.5L505.7 530.9L506.0 530.4L506.4 531.3L506.8 528.0L507.2 521.2L507.6 518.9L507.9 518.5L508.3 513.6L508.7 509.3L509.1 514.0L509.5 514.0L509.8 518.1L510.2 516.8L510.6 515.1L511.0 514.0L511.4 518.1L511.7 518.1L512.1 513.4L512.5 513.1L512.9 509.6L513.3 510.7L513.6 508.9L514.0 507.9L514.4 509.9L514.8 510.6L515.2 512.0L515.5 511.1L515.9 511.4L516.3 512.9L516.7 516.1L517.1 516.6L517.4 515.7L517.8 519.6L518.2 521.7L518.6 523.4L519.0 520.1L519.3 519.6L519.7 521.9L520.1 522.2L520.5 520.5L520.9 521.8L521.2 520.1L521.6 523.6L522.0 524.4L522.4 523.7L522.8 522.6L523.1 523.1L523.5 524.6L523.9 527.1L524.3 525.2L524.7 528.7L525.0 524.0L525.4 525.8L525.8 526.5L526.2 526.2L526.6 522.8L526.9 521.1L527.3 521.3L527.7 520.4L528.1 519.4L528.5 518.7L528.8 519.6L529.2 522.6L529.6 519.0L530.0 516.4L530.4 518.2L530.8 517.6L531.1 514.4L531.5 512.9L531.9 513.0L532.3 507.6L532.7 509.7L533.0 511.2L533.4 511.7L533.8 513.5L534.2 513.3L534.6 515.2L534.9 511.7L535.3 511.5L535.7 512.6L536.1 515.6L536.5 514.8L536.8 512.6L537.2 512.9L537.6 511.9L538.0 512.0L538.4 512.9L538.7 513.8L539.1 509.8L539.5 513.2L539.9 511.3L540.3 509.7L540.6 510.1L541.0 510.4L541.4 510.7L541.8 514.0L542.2 510.3L542.5 511.6L542.9 508.6L543.3 508.7L543.7 507.5L544.1 510.1L544.4 510.3L544.8 509.5L545.2 507.4L545.6 507.7L546.0 506.4L546.3 502.9L546.7 502.4L547.1 496.7L547.5 495.9L547.9 492.6L548.2 485.4L548.6 487.0L549.0 488.8L549.4 486.0L549.8 482.6L550.1 483.8L550.5 482.9L550.9 482.6L551.3 484.9L551.7 483.4L552.0 481.5L552.4 481.5L552.8 483.5L553.2 483.0L553.6 484.6L553.9 480.8L554.3 476.0L554.7 477.6L555.1 479.2L555.5 479.4L555.9 477.9L556.2 477.2L556.6 481.2L557.0 480.0L557.4 481.9L557.8 480.8L558.1 476.3L558.5 477.2L558.9 473.2L559.3 471.6L559.7 471.8L560.0 469.3L560.4 468.5L560.8 464.7L561.2 461.5L561.6 462.2L561.9 456.3L562.3 451.3L562.7 445.5L563.1 440.2L563.5 439.5L563.8 440.7L564.2 441.7L564.6 442.9L565.0 445.0L565.4 442.4L565.7 442.4L566.1 440.6L566.5 438.3L566.9 436.0L567.3 432.6L567.6 431.4L568.0 431.0L568.4 430.2L568.8 432.0L569.2 432.0L569.5 432.9L569.9 433.5L570.3 435.5L570.7 439.6L571.1 439.0L571.4 441.0L571.8 441.7L572.2 435.1L572.6 437.4L573.0 438.0L573.3 438.6L573.7 438.3L574.1 439.5L574.5 436.0L574.9 431.0L575.2 429.7L575.6 427.0L576.0 425.0L576.4 421.4L576.8 420.6L577.1 417.3L577.5 416.6L577.9 413.7L578.3 409.0L578.7 407.6L579.0 404.2L579.4 398.2L579.8 391.5L580.2 389.6L580.6 395.8L581.0 402.8L581.3 405.3L581.7 406.7L582.1 401.5L582.5 400.5L582.9 401.3L583.2 401.0L583.6 396.8L584.0 392.7L584.4 392.8L584.8 392.4L585.1 395.7L585.5 398.5L585.9 403.9L586.3 407.0L586.7 407.5L587.0 405.4L587.4 411.5L587.8 414.2L588.2 416.6L588.6 418.2L588.9 418.0L589.3 415.5L589.7 416.7L590.1 415.7L590.5 415.8L590.8 413.1L591.2 416.2L591.6 418.3L592.0 419.1L592.4 416.7L592.7 418.5L593.1 414.5L593.5 412.7L593.9 410.3L594.3 406.8L594.6 403.2L595.0 406.2L595.4 402.5L595.8 401.6L596.2 399.6L596.5 398.5L596.9 400.1L597.3 402.5L597.7 406.2L598.1 406.7L598.4 406.5L598.8 409.2L599.2 408.0L599.6 409.2L600.0 411.0L600.3 411.7L600.7 413.3L601.1 415.6L601.5 414.9L601.9 415.4L602.2 412.0L602.6 412.6L603.0 411.0L603.4 411.2L603.8 415.6L604.1 415.1L604.5 416.8L604.9 419.5L605.3 415.8L605.7 415.3L606.1 410.7L606.4 411.5L606.8 408.9L607.2 410.6L607.6 413.3L608.0 409.1L608.3 412.9L608.7 409.1L609.1 407.6L609.5 408.5L609.9 413.4L610.2 411.4L610.6 412.3L611.0 410.8L611.4 412.4L611.8 415.5L612.1 415.1L612.5 418.5L612.9 414.1L613.3 411.8L613.7 417.7L614.0 420.4L614.4 429.2L614.8 438.0L615.2 433.5L615.6 437.0L615.9 437.6L616.3 436.4L616.7 437.5L617.1 434.4L617.5 436.8L617.8 438.9L618.2 437.6L618.6 438.8L619.0 436.9L619.4 433.3L619.7 435.4L620.1 431.9L620.5 433.1L620.9 431.7L621.3 434.5L621.6 435.8L622.0 435.0L622.4 436.4L622.8 436.5L623.2 440.1L623.5 439.2L623.9 440.9L624.3 443.2L624.7 444.2L625.1 442.4L625.4 441.9L625.8 432.5L626.2 426.3L626.6 425.7L627.0 424.7L627.3 421.3L627.7 419.4L628.1 420.2L628.5 420.1L628.9 420.0L629.2 422.6L629.6 422.5L630.0 421.7L630.4 422.0L630.8 424.5L631.2 423.9L631.5 424.8L631.9 424.2L632.3 426.4L632.7 427.8L633.1 427.7L633.4 428.5L633.8 432.8L634.2 431.4L634.6 430.0L635.0 434.1L635.3 433.5L635.7 437.7L636.1 437.8L636.5 442.2L636.9 447.7L637.2 446.5L637.6 451.8L638.0 449.2L638.4 445.5L638.8 445.1L639.1 447.6L639.5 445.9L639.9 448.7L640.3 449.0L640.7 449.2L641.0 444.4L641.4 449.0L641.8 448.2L642.2 448.0L642.6 449.2L642.9 447.8L643.3 448.8L643.7 451.3L644.1 452.2L644.5 451.0L644.8 453.0L645.2 453.8L645.6 454.8L646.0 454.3L646.4 452.8L646.7 448.6L647.1 446.3L647.5 448.6L647.9 448.9L648.3 446.3L648.6 448.5L649.0 448.9L649.4 446.2L649.8 448.9L650.2 448.8L650.5 446.6L650.9 449.2L651.3 449.8L651.7 451.8L652.1 448.4L652.4 448.5L652.8 446.1L653.2 441.7L653.6 435.9L654.0 433.9L654.3 437.9L654.7 437.1L655.1 432.8L655.5 433.0L655.9 434.9L656.3 431.9L656.6 432.4L657.0 431.0L657.4 427.4L657.8 428.3L658.2 429.5L658.5 427.3L658.9 427.8L659.3 428.0L659.7 429.7L660.1 426.7L660.4 427.0L660.8 427.2L661.2 424.1L661.6 426.5L662.0 418.5L662.3 420.0L662.7 422.0L663.1 420.1L663.5 421.7L663.9 423.9L664.2 418.7L664.6 421.5L665.0 417.7L665.4 414.4L665.8 415.5L666.1 415.9L666.5 415.7L666.9 414.3L667.3 414.8L667.7 413.6L668.0 410.5L668.4 411.9L668.8 413.2L669.2 411.4L669.6 416.7L669.9 415.5L670.3 419.4L670.7 417.1L671.1 419.1L671.5 417.5L671.8 416.1L672.2 419.3L672.6 416.2L673.0 423.8L673.4 423.9L673.7 424.5L674.1 428.2L674.5 428.0L674.9 429.4L675.3 428.8L675.6 429.4L676.0 425.8L676.4 427.4L676.8 425.7L677.2 431.0L677.5 431.4L677.9 437.8L678.3 438.4L678.7 488.6L679.1 489.1L679.4 485.0L679.8 484.5L680.2 481.0L680.6 475.0L681.0 470.5L681.4 466.6L681.7 463.6L682.1 463.6L682.5 460.8L682.9 458.8L683.3 459.7L683.6 462.4L684.0 462.9L684.4 463.9L684.8 464.7L685.2 462.6L685.5 462.9L685.9 457.1L686.3 458.5L686.7 457.7L687.1 452.8L687.4 451.5L687.8 452.2L688.2 447.4L688.6 450.7L689.0 450.4L689.3 449.8L689.7 450.8L690.1 449.9L690.5 450.5L690.9 448.3L691.2 451.1L691.6 451.8L692.0 452.0L692.4 453.0L692.8 455.3L693.1 457.5L693.5 457.0L693.9 453.7L694.3 445.4L694.7 444.5L695.0 444.6L695.4 439.9L695.8 439.9L696.2 440.2L696.6 437.3L696.9 432.4L697.3 431.5L697.7 430.3L698.1 428.9L698.5 427.4L698.8 424.8L699.2 421.7L699.6 414.8L700.0 418.3L700.4 421.3L700.7 421.1L701.1 421.4L701.5 422.8L701.9 420.6L702.3 418.5L702.6 418.7L703.0 418.1L703.4 417.3L703.8 418.7L704.2 419.4L704.5 420.3L704.9 426.1L705.3 428.8L705.7 428.3L706.1 426.1L706.4 423.9L706.8 423.4L707.2 425.1L707.6 423.1L708.0 420.7L708.4 417.7L708.7 417.8L709.1 414.3L709.5 415.6L709.9 416.5L710.3 417.7L710.6 415.4L711.0 419.5L711.4 420.3L711.8 419.2L712.2 420.1L712.5 419.5L712.9 417.0L713.3 416.6L713.7 417.8L714.1 418.7L714.4 418.4L714.8 420.5L715.2 421.5L715.6 415.8L716.0 421.9L716.3 418.8L716.7 419.7L717.1 418.1L717.5 419.3L717.9 421.6L718.2 419.6L718.6 423.7L719.0 422.5L719.4 421.1L719.8 422.5L720.1 420.4L720.5 418.0L720.9 417.8L721.3 423.3L721.7 419.3L722.0 416.4L722.4 418.9L722.8 418.5L723.2 418.7L723.6 421.4L723.9 419.7L724.3 421.6L724.7 422.2L725.1 421.1L725.5 422.4L725.8 424.2L726.2 428.2L726.6 425.8L727.0 424.6L727.4 424.7L727.7 424.5L728.1 426.8L728.5 423.2L728.9 423.5L729.3 419.4L729.6 414.1L730.0 412.8L730.4 408.6L730.8 404.7L731.2 406.0L731.5 406.4L731.9 405.0L732.3 402.5L732.7 401.1L733.1 403.6L733.5 399.6L733.8 399.5L734.2 399.4L734.6 399.3L735.0 399.0L735.4 398.5L735.7 397.8L736.1 397.3L736.5 394.5L736.9 397.8L737.3 396.8L737.6 395.5L738.0 395.2L738.4 393.4L738.8 396.6L739.2 398.1L739.5 400.9L739.9 400.8L740.3 400.0L740.7 403.7L741.1 401.8L741.4 400.9L741.8 403.4L742.2 399.1L742.6 401.5L743.0 398.1L743.3 398.9L743.7 397.6L744.1 398.9L744.5 398.6L744.9 405.2L745.2 410.9L745.6 410.8L746.0 411.6L746.4 411.4L746.8 409.7L747.1 408.5L747.5 408.5L747.9 406.2L748.3 403.5L748.7 405.7L749.0 404.8L749.4 404.2L749.8 406.7L750.2 410.5L750.6 412.3L750.9 407.6L751.3 406.8L751.7 408.5L752.1 407.0L752.5 408.8L752.8 409.0L753.2 411.1L753.6 404.9L754.0 406.7L754.4 406.8L754.7 409.5L755.1 408.1L755.5 405.2L755.9 407.0L756.3 406.6L756.6 406.0L757.0 406.9L757.4 408.4L757.8 407.9L758.2 405.3L758.6 404.3L758.9 403.9L759.3 400.6L759.7 401.3L760.1 402.0L760.5 399.9L760.8 398.5L761.2 399.5L761.6 397.5L762.0 397.4L762.4 392.5L762.7 395.0L763.1 393.2L763.5 390.9L763.9 390.8L764.3 391.7L764.6 390.5L765.0 386.4L765.4 384.5L765.8 386.2L766.2 382.9L766.5 385.6L766.9 381.2L767.3 380.2L767.7 378.6L768.1 378.0L768.4 378.1L768.8 377.1L769.2 377.8L769.6 370.6L770.0 370.2L770.3 366.8L770.7 369.5L771.1 366.9L771.5 365.3L771.9 365.1L772.2 362.8L772.6 361.8L773.0 357.7L773.4 357.0L773.8 354.7L774.1 350.8L774.5 350.0L774.9 351.9L775.3 354.9L775.7 359.2L776.0 356.3L776.4 354.4L776.8 354.9L777.2 357.1L777.6 355.5L777.9 353.8L778.3 352.4L778.7 350.1L779.1 344.6L779.5 345.6L779.8 345.5L780.2 343.4L780.6 345.8L781.0 348.1L781.4 346.4L781.7 347.3L782.1 345.2L782.5 346.6L782.9 348.3L783.3 347.3L783.7 350.9L784.0 350.1L784.4 350.6L784.8 346.8L785.2 342.1L785.6 336.2L785.9 330.7L786.3 328.5L786.7 329.1L787.1 326.4L787.5 329.3L787.8 326.9L788.2 321.6L788.6 320.2L789.0 314.8L789.4 311.6L789.7 306.9L790.1 301.0L790.5 300.5L790.9 296.4L791.3 295.4L791.6 286.1L792.0 283.6L792.4 282.0L792.8 278.3L793.2 272.6L793.5 269.1L793.9 272.5L794.3 271.1L794.7 275.1L795.1 273.8L795.4 277.5L795.8 279.7L796.2 278.1L796.6 282.2L797.0 283.9L797.3 280.5L797.7 285.3L798.1 286.8L798.5 288.5L798.9 290.9L799.2 290.8L799.6 294.6L800.0 296.8L800.4 295.6L800.8 295.9L801.1 294.0L801.5 290.2L801.9 291.5L802.3 288.4L802.7 287.0L803.0 285.7L803.4 284.2L803.8 274.0L804.2 272.5L804.6 268.7L804.9 263.3L805.3 263.6L805.7 257.0L806.1 257.3L806.5 255.7L806.8 255.8L807.2 254.8L807.6 254.6L808.0 251.1L808.4 252.2L808.8 246.9L809.1 243.3L809.5 244.2L809.9 240.5L810.3 239.8L810.7 240.3L811.0 239.4L811.4 243.8L811.8 245.9L812.2 248.4L812.6 251.0L812.9 250.0L813.3 252.3L813.7 254.6L814.1 249.8L814.5 248.9L814.8 246.4L815.2 245.9L815.6 245.3L816.0 239.7L816.4 239.3L816.7 239.2L817.1 234.7L817.5 234.6L817.9 235.0L818.3 232.0L818.6 231.3L819.0 228.2L819.4 233.4L819.8 234.0L820.2 236.1L820.5 236.9L820.9 243.0L821.3 239.2L821.7 237.9L822.1 241.4L822.4 239.5L822.8 237.1L823.2 235.8L823.6 235.8L824.0 237.1L824.3 234.1L824.7 235.4L825.1 233.6L825.5 231.5L825.9 233.1L826.2 233.7L826.6 229.1L827.0 230.3L827.4 231.5L827.8 229.4L828.1 227.0L828.5 227.6L828.9 222.2L829.3 221.7L829.7 224.7L830.0 223.6L830.4 222.1L830.8 223.2L831.2 224.0L831.6 227.5L831.9 233.8L832.3 236.7L832.7 238.4L833.1 241.2L833.5 239.8L833.9 243.0L834.2 247.9L834.6 247.8L835.0 243.4L835.4 240.1L835.8 236.9L836.1 239.2L836.5 238.2L836.9 234.2L837.3 236.5L837.7 235.4L838.0 233.6L838.4 229.3L838.8 232.5L839.2 230.1L839.6 233.5L839.9 232.9L840.3 235.3L840.7 241.8L841.1 245.4L841.5 247.5L841.8 255.9L842.2 256.7L842.6 261.5L843.0 268.2L843.4 267.0L843.7 276.6L844.1 278.1L844.5 279.0L844.9 275.6L845.3 275.9L845.6 277.1L846.0 282.1L846.4 284.5L846.8 282.8L847.2 283.7L847.5 279.2L847.9 279.0L848.3 278.6L848.7 277.6L849.1 279.1L849.4 280.8L849.8 282.6L850.2 287.1L850.6 287.8L851.0 289.1L851.3 286.1L851.7 282.8L852.1 277.4L852.5 280.6L852.9 275.7L853.2 273.6L853.6 273.4L854.0 274.7L854.4 277.1L854.8 281.9L855.1 284.7L855.5 289.6L855.9 293.4L856.3 292.6L856.7 293.0L857.0 291.1L857.4 288.3L857.8 283.9L858.2 287.7L858.6 289.0L859.0 286.0L859.3 283.3L859.7 286.8L860.1 286.1L860.5 287.2L860.9 287.6L861.2 288.8L861.6 286.4L862.0 286.4L862.4 287.7L862.8 287.7L863.1 290.2L863.5 290.0L863.9 289.8L864.3 291.6L864.7 291.1L865.0 293.9L865.4 296.8L865.8 296.4L866.2 298.6L866.6 301.4L866.9 299.5L867.3 296.4L867.7 293.3L868.1 290.7L868.5 284.5L868.8 279.5L869.2 276.9L869.6 273.5L870.0 273.4L870.4 268.4L870.7 266.9L871.1 271.2L871.5 271.2L871.9 270.2L872.3 267.1L872.6 266.2L873.0 266.3L873.4 263.3L873.8 259.9L874.2 258.9L874.5 258.2L874.9 258.1L875.3 253.6L875.7 255.9L876.1 257.2L876.4 256.5L876.8 255.6L877.2 256.9L877.6 253.8L878.0 252.9L878.3 248.2L878.7 250.9L879.1 253.5L879.5 252.2L879.9 250.4L880.2 247.5L880.6 252.1L881.0 251.3L881.4 253.2L881.8 253.4L882.1 250.8L882.5 252.7L882.9 252.1L883.3 253.5L883.7 252.6L884.0 253.4L884.4 252.2L884.8 249.4L885.2 244.0L885.6 248.4L886.0 250.8L886.3 250.8L886.7 256.2L887.1 258.4L887.5 259.6L887.9 261.8L888.2 256.2L888.6 255.5L889.0 251.4L889.4 253.9L889.8 256.0L890.1 256.6L890.5 258.9L890.9 264.7L891.3 267.8L891.7 266.2L892.0 263.8L892.4 266.8L892.8 265.1L893.2 266.8L893.6 270.0L893.9 267.3L894.3 261.1L894.7 259.2L895.1 253.8L895.5 251.3L895.8 248.8L896.2 246.0L896.6 245.4L897.0 242.1L897.4 238.7L897.7 238.2L898.1 239.0L898.5 237.5L898.9 235.9L899.3 236.3L899.6 234.6L900.0 230.5L900.4 230.7L900.8 226.9L901.2 226.9L901.5 224.3L901.9 225.8L902.3 228.2L902.7 229.9L903.1 227.0L903.4 231.3L903.8 232.3L904.2 228.7L904.6 228.4L905.0 227.3L905.3 224.8L905.7 229.7L906.1 227.7L906.5 228.3L906.9 226.1L907.2 228.4L907.6 224.4L908.0 217.9L908.4 217.3L908.8 215.4L909.1 217.0L909.5 217.2L909.9 217.5L910.3 218.3L910.7 221.7L911.1 222.7L911.4 225.4L911.8 225.4L912.2 226.3L912.6 229.3L913.0 232.3L913.3 230.6L913.7 233.8L914.1 231.8L914.5 233.0L914.9 234.1L915.2 234.8L915.6 235.8L916.0 235.9L916.4 239.4L916.8 238.0L917.1 237.0L917.5 237.9L917.9 240.5L918.3 242.0L918.7 243.4L919.0 245.3L919.4 246.3L919.8 247.0L920.2 253.9L920.6 251.3L920.9 251.4L921.3 253.6L921.7 249.3L922.1 253.5L922.5 257.1L922.8 255.3L923.2 257.3L923.6 254.6L924.0 253.1L924.4 255.4L924.7 255.5L925.1 251.2L925.5 251.5L925.9 253.1L926.3 247.9L926.6 248.7L927.0 248.9L927.4 248.9L927.8 247.6L928.2 248.6L928.5 249.1L928.9 252.0L929.3 252.5L929.7 254.9L930.1 258.5L930.4 259.4L930.8 262.6L931.2 264.5L931.6 265.2L932.0 264.4L932.3 266.5L932.7 265.6L933.1 265.6L933.5 269.8L933.9 267.8L934.2 268.5L934.6 265.8L935.0 263.9L935.4 266.3L935.8 267.4L936.2 271.9L936.5 274.1L936.9 275.3L937.3 279.1L937.7 282.0L938.1 283.8L938.4 282.1L938.8 282.2L939.2 281.6L939.6 281.5L940.0 279.0L940.3 279.2L940.7 277.1L941.1 279.7L941.5 277.2L941.9 278.4L942.2 276.8L942.6 274.0L943.0 269.0L943.4 264.1L943.8 265.3L944.1 264.0L944.5 262.8L944.9 264.9L945.3 260.9L945.7 261.6L946.0 263.6L946.4 266.3L946.8 267.0L947.2 267.8L947.6 271.0L947.9 274.5L948.3 278.3L948.7 276.3L949.1 275.7L949.5 274.5L949.8 276.6L950.2 271.8L950.6 274.2L951.0 270.3L951.4 267.4L951.7 264.5L952.1 260.4L952.5 262.4L952.9 266.6L953.3 268.8L953.6 273.6L954.0 273.5L954.4 271.1L954.8 269.4L955.2 271.8L955.5 271.3L955.9 272.0L956.3 276.1L956.7 275.0L957.1 274.2L957.4 273.2L957.8 270.8L958.2 272.3L958.6 268.2L959.0 267.3L959.3 266.2L959.7 265.3L960.1 268.5L960.5 265.2L960.9 264.8L961.3 255.7L961.6 258.9L962.0 258.9L962.4 258.0L962.8 255.4L963.2 255.7L963.5 257.3L963.9 254.5L964.3 252.0L964.7 255.5L965.1 260.7L965.4 261.6L965.8 260.4L966.2 258.9L966.6 266.7L967.0 262.5L967.3 267.5L967.7 267.3L968.1 270.7L968.5 270.1L968.9 271.4L969.2 272.1L969.6 270.3L970.0 272.5L970.4 269.7L970.8 272.8L971.1 273.1L971.5 271.5L971.9 271.2L972.3 269.6L972.7 270.1L973.0 270.6L973.4 272.8L973.8 273.0L974.2 273.1L974.6 274.4L974.9 276.1L975.3 276.9L975.7 276.7L976.1 277.2L976.5 278.2L976.8 278.8L977.2 279.1L977.6 280.2L978.0 284.5L978.4 294.4L978.7 298.5L979.1 303.0L979.5 300.9L979.9 304.4L980.3 303.5L980.6 304.8L981.0 304.1L981.4 303.4L981.8 307.4L982.2 303.8L982.5 302.9L982.9 302.7L983.3 304.6L983.7 304.2L984.1 303.2L984.4 302.4L984.8 304.5L985.2 303.1L985.6 306.4L986.0 305.3L986.4 302.7L986.7 303.3L987.1 298.5L987.5 297.9L987.9 296.8L988.3 294.5L988.6 298.0L989.0 297.2L989.4 297.4L989.8 297.4L990.2 301.1L990.5 306.3L990.9 304.4L991.3 310.2L991.7 315.8L992.1 319.6L992.4 324.8L992.8 332.0L993.2 335.5L993.6 340.2L994.0 344.0L994.3 346.6L994.7 342.8L995.1 338.9L995.5 338.3L995.9 338.6L996.2 339.2L996.6 337.9L997.0 336.7L997.4 334.0L997.8 339.9L998.1 344.1L998.5 347.2L998.9 342.1L999.3 343.2L999.7 342.1L1000.0 338.7L1000.4 337.6L1000.8 338.6L1001.2 340.0L1001.6 342.9L1001.9 341.7L1002.3 344.0L1002.7 346.0L1003.1 345.2L1003.5 342.3L1003.8 342.1L1004.2 336.0L1004.6 338.7L1005.0 336.1L1005.4 331.5L1005.7 329.9L1006.1 331.3L1006.5 331.1L1006.9 329.8L1007.3 333.5L1007.6 335.1L1008.0 331.9L1008.4 333.3L1008.8 329.5L1009.2 326.8L1009.5 323.3L1009.9 323.9L1010.3 326.7L1010.7 328.7L1011.1 327.9L1011.5 331.0L1011.8 326.6L1012.2 329.0L1012.6 329.2L1013.0 328.1L1013.4 325.2L1013.7 323.1L1014.1 322.6L1014.5 324.4L1014.9 323.7L1015.3 325.9L1015.6 323.8L1016.0 327.3L1016.4 328.6L1016.8 330.3L1017.2 332.4L1017.5 335.5L1017.9 335.3L1018.3 336.6L1018.7 339.8L1019.1 337.5L1019.4 341.7L1019.8 341.5L1020.2 342.8L1020.6 343.9L1021.0 344.6L1021.3 342.3L1021.7 343.8L1022.1 343.2L1022.5 346.1L1022.9 347.2L1023.2 346.7L1023.6 346.8L1024.0 348.0L1024.4 347.6L1024.8 348.5L1025.1 346.3L1025.5 341.0L1025.9 339.7L1026.3 336.5L1026.7 336.3L1027.0 339.8L1027.4 342.0L1027.8 343.2L1028.2 345.2L1028.6 344.9L1028.9 345.0L1029.3 343.7L1029.7 345.7L1030.1 345.5L1030.5 346.5L1030.8 348.2L1031.2 352.1L1031.6 351.2L1032.0 350.6L1032.4 350.9L1032.7 347.2L1033.1 347.1L1033.5 347.6L1033.9 343.7L1034.3 346.0L1034.6 345.2L1035.0 345.6L1035.4 344.4L1035.8 347.0L1036.2 349.0L1036.6 347.0L1036.9 345.8L1037.3 347.3L1037.7 347.2L1038.1 349.0L1038.5 345.9L1038.8 349.3L1039.2 347.2L1039.6 347.3L1040.0 348.3L1040.4 346.6L1040.7 348.1L1041.1 348.9L1041.5 347.1L1041.9 348.9L1042.3 345.5L1042.6 344.5L1043.0 346.2L1043.4 339.5L1043.8 343.2L1044.2 343.4L1044.5 337.5L1044.9 339.2L1045.3 341.2L1045.7 342.8L1046.1 340.6L1046.4 340.8L1046.8 337.9L1047.2 339.0L1047.6 341.4L1048.0 343.0L1048.3 357.0L1048.7 363.0L1049.1 365.1L1049.5 361.6L1049.9 359.9L1050.2 361.8L1050.6 362.8L1051.0 359.1L1051.4 361.9L1051.8 361.9L1052.1 363.6L1052.5 367.7L1052.9 364.6L1053.3 366.7L1053.7 365.7L1054.0 368.0L1054.4 363.8L1054.8 362.9L1055.2 362.2L1055.6 361.7L1055.9 362.1L1056.3 361.8L1056.7 361.5L1057.1 360.9L1057.5 360.6L1057.8 360.1L1058.2 358.7L1058.6 359.0L1059.0 360.0L1059.4 360.3L1059.7 358.2L1060.1 356.4L1060.5 357.0L1060.9 359.2L1061.3 354.7L1061.7 353.8L1062.0 356.7L1062.4 357.8L1062.8 357.8L1063.2 363.6L1063.6 363.5L1063.9 363.5L1064.3 365.6L1064.7 363.0L1065.1 360.0L1065.5 364.2L1065.8 363.0L1066.2 363.6L1066.6 360.6L1067.0 363.2L1067.4 362.0L1067.7 364.1L1068.1 362.2L1068.5 361.1L1068.9 362.1L1069.3 361.4L1069.6 359.2L1070.0 360.3L1070.4 361.2L1070.8 361.9L1071.2 360.8L1071.5 361.7L1071.9 361.6L1072.3 355.8L1072.7 352.2L1073.1 348.1L1073.4 340.3L1073.8 337.0L1074.2 337.8L1074.6 337.7L1075.0 339.7L1075.3 337.0L1075.7 333.4L1076.1 330.2L1076.5 329.9L1076.9 327.4L1077.2 326.2L1077.6 328.5L1078.0 326.4L1078.4 327.0L1078.8 324.7L1079.1 326.8L1079.5 322.6L1079.9 325.3L1080.3 324.4L1080.7 324.5L1081.0 323.8L1081.4 328.1L1081.8 328.5L1082.2 331.2L1082.6 332.8L1082.9 330.0L1083.3 331.6L1083.7 332.5L1084.1 333.1L1084.5 335.1L1084.8 334.4L1085.2 334.2L1085.6 325.9L1086.0 324.1L1086.4 323.3L1086.7 321.9L1087.1 321.6L1087.5 323.7L1087.9 322.2L1088.3 323.5L1088.7 325.4L1089.0 326.1L1089.4 326.5L1089.8 327.6L1090.2 327.7L1090.6 329.1L1090.9 325.5L1091.3 330.1L1091.7 330.7L1092.1 332.1L1092.5 328.3L1092.8 331.6L1093.2 334.1L1093.6 338.1L1094.0 341.7L1094.4 343.7L1094.7 339.1L1095.1 338.7L1095.5 333.1L1095.9 326.0L1096.3 322.1L1096.6 319.3L1097.0 314.2L1097.4 309.6L1097.8 310.5L1098.2 308.0L1098.5 306.6L1098.9 313.1L1099.3 310.6L1099.7 308.8L1100.1 308.9L1100.4 309.6L1100.8 310.9L1101.2 307.4L1101.6 308.3L1102.0 310.4L1102.3 307.8L1102.7 310.0L1103.1 306.0L1103.5 307.9L1103.9 308.2L1104.2 307.2L1104.6 309.1L1105.0 309.8L1105.4 312.8L1105.8 307.4L1106.1 305.9L1106.5 304.0L1106.9 301.3L1107.3 300.2L1107.7 300.6L1108.0 300.6L1108.4 299.1L1108.8 300.7L1109.2 300.0L1109.6 302.5L1109.9 301.2L1110.3 306.6L1110.7 308.6L1111.1 311.0L1111.5 308.7L1111.8 308.8L1112.2 308.7L1112.6 304.6L1113.0 304.9L1113.4 303.0L1113.8 307.2L1114.1 304.8L1114.5 304.0L1114.9 302.0L1115.3 302.5L1115.7 302.3L1116.0 304.6L1116.4 305.2L1116.8 308.6L1117.2 309.0L1117.6 313.9L1117.9 309.6L1118.3 314.6L1118.7 312.8L1119.1 307.8L1119.5 309.6L1119.8 314.0L1120.2 312.0L1120.6 312.7L1121.0 314.4L1121.4 312.1L1121.7 315.1L1122.1 313.9L1122.5 314.0L1122.9 313.4L1123.3 311.7L1123.6 306.9L1124.0 310.1L1124.4 308.3L1124.8 308.3L1125.2 314.6L1125.5 310.4L1125.9 315.2L1126.3 313.1L1126.7 317.1L1127.1 315.7L1127.4 311.8L1127.8 314.3L1128.2 313.9L1128.6 313.8L1129.0 316.0L1129.3 313.8L1129.7 317.4L1130.1 321.5L1130.5 320.9L1130.9 320.7L1131.2 319.2L1131.6 318.8L1132.0 317.5L1132.4 314.7L1132.8 310.2L1133.1 308.8L1133.5 301.1L1133.9 300.6L1134.3 297.5L1134.7 294.6L1135.0 297.7L1135.4 297.4L1135.8 301.3L1136.2 303.4L1136.6 299.5L1136.9 301.6L1137.3 299.4L1137.7 298.7L1138.1 298.6L1138.5 300.2L1138.9 296.5L1139.2 299.0L1139.6 297.8L1140.0 298.5L1140.4 300.4L1140.8 302.0L1141.1 301.5L1141.5 300.1L1141.9 296.9L1142.3 298.6L1142.7 296.6L1143.0 296.9L1143.4 300.3L1143.8 300.8L1144.2 301.1L1144.6 299.3L1144.9 305.2L1145.3 300.7L1145.7 304.3L1146.1 306.5L1146.5 304.5L1146.8 302.2L1147.2 302.4L1147.6 303.8L1148.0 303.9L1148.4 301.9L1148.7 303.2L1149.1 302.2L1149.5 301.3L1149.9 302.6L1150.3 302.9L1150.6 303.3L1151.0 302.4L1151.4 303.3L1151.8 300.2L1152.2 300.9L1152.5 301.0L1152.9 302.8L1153.3 300.0L1153.7 299.5L1154.1 300.9L1154.4 302.6L1154.8 305.1L1155.2 312.3L1155.6 313.1L1156.0 314.8L1156.3 316.6L1156.7 315.5L1157.1 313.3L1157.5 314.5L1157.9 312.3L1158.2 313.7L1158.6 315.1L1159.0 315.5L1159.4 312.6L1159.8 310.1L1160.1 310.9L1160.5 311.8L1160.9 313.2L1161.3 313.3L1161.7 316.6L1162.0 317.9L1162.4 314.9L1162.8 313.6L1163.2 316.7L1163.6 317.5L1164.0 318.3L1164.3 318.7L1164.7 318.3L1165.1 315.7L1165.5 313.4L1165.9 314.4L1166.2 312.5L1166.6 312.5L1167.0 314.9L1167.4 312.2L1167.8 311.1L1168.1 312.6L1168.5 315.9L1168.9 314.5L1169.3 313.9L1169.7 316.7L1170.0 316.3L1170.4 314.8L1170.8 317.9L1171.2 314.8L1171.6 313.7L1171.9 312.8L1172.3 312.1L1172.7 311.6L1173.1 307.5L1173.5 310.8L1173.8 311.0L1174.2 314.5L1174.6 312.4L1175.0 312.2L1175.4 311.8L1175.7 312.3L1176.1 312.2L1176.5 311.7L1176.9 312.0L1177.3 312.3L1177.6 310.6L1178.0 311.9L1178.4 310.0L1178.8 309.7L1179.2 306.2L1179.5 304.1L1179.9 297.4L1180.3 294.1L1180.7 292.4L1181.1 289.1L1181.4 288.1L1181.8 286.9L1182.2 283.3L1182.6 284.4L1183.0 285.6L1183.3 285.4L1183.7 284.8L1184.1 285.0L1184.5 284.4L1184.9 282.7L1185.2 282.9L1185.6 281.8L1186.0 282.7L1186.4 283.7L1186.8 283.7L1187.1 282.9L1187.5 282.3L1187.9 277.7L1188.3 280.3L1188.7 279.9L1189.1 281.1L1189.4 282.2L1189.8 282.6L1190.2 283.2L1190.6 278.8L1191.0 280.7L1191.3 279.4L1191.7 280.7L1192.1 281.5L1192.5 282.3L1192.9 280.1L1193.2 281.0L1193.6 279.0L1194.0 274.9L1194.4 278.4L1194.8 278.7L1195.1 279.0L1195.5 279.9L1195.9 280.0L1196.3 273.0L1196.7 267.5L1197.0 267.3L1197.4 261.0L1197.8 261.7L1198.2 261.3L1198.6 266.3L1198.9 266.6L1199.3 264.7L1199.7 265.5L1200.1 264.4L1200.5 262.5L1200.8 263.4L1201.2 265.2L1201.6 265.8L1202.0 269.4L1202.4 266.0L1202.7 266.5L1203.1 264.0L1203.5 269.7L1203.9 264.5L1204.3 267.5L1204.6 266.8L1205.0 263.1L1205.4 263.4L1205.8 259.7L1206.2 262.2L1206.5 262.4L1206.9 264.3L1207.3 264.2L1207.7 261.3L1208.1 263.4L1208.4 261.8L1208.8 259.0L1209.2 257.8L1209.6 255.4L1210.0 257.0L1210.3 261.2L1210.7 257.7L1211.1 258.9L1211.5 259.6L1211.9 261.1L1212.2 261.9L1212.6 265.1L1213.0 261.6L1213.4 264.4L1213.8 269.5L1214.2 265.7L1214.5 270.5L1214.9 266.0L1215.3 266.4L1215.7 271.6L1216.1 272.7L1216.4 270.1L1216.8 269.7L1217.2 268.2L1217.6 266.9L1218.0 265.5L1218.3 263.3L1218.7 261.6L1219.1 263.3L1219.5 262.5L1219.9 262.6L1220.2 262.7L1220.6 263.3L1221.0 264.2L1221.4 262.5L1221.8 260.7L1222.1 257.0L1222.5 255.5L1222.9 254.3L1223.3 248.4L1223.7 245.6L1224.0 244.4L1224.4 246.5L1224.8 246.2L1225.2 247.9L1225.6 245.4L1225.9 245.5L1226.3 244.4L1226.7 244.2L1227.1 241.5L1227.5 245.4L1227.8 242.7L1228.2 242.4L1228.6 238.1L1229.0 234.6L1229.4 229.6L1229.7 227.6L1230.1 228.4L1230.5 223.5L1230.9 221.6L1231.3 219.8L1231.6 219.0L1232.0 218.5L1232.4 220.1L1232.8 215.7L1233.2 217.1L1233.5 217.4L1233.9 209.8L1234.3 212.7L1234.7 210.2L1235.1 211.0L1235.4 211.3L1235.8 214.6L1236.2 217.5L1236.6 219.2L1237.0 217.9L1237.3 218.7L1237.7 217.9L1238.1 219.3L1238.5 221.4L1238.9 219.8L1239.3 220.5L1239.6 216.3L1240.0 217.2L1240.4 216.1L1240.8 212.4L1241.2 212.0L1241.5 217.3L1241.9 213.8L1242.3 212.1L1242.7 216.0L1243.1 217.5L1243.4 217.1L1243.8 215.8L1244.2 212.7L1244.6 213.7L1245.0 211.5L1245.3 213.7L1245.7 218.7L1246.1 221.8L1246.5 219.9L1246.9 219.2L1247.2 220.2L1247.6 219.1L1248.0 220.7L1248.4 224.3L1248.8 224.9L1249.1 224.5L1249.5 219.2L1249.9 221.6L1250.3 218.5L1250.7 221.1L1251.0 220.4L1251.4 221.7L1251.8 222.7L1252.2 220.3L1252.6 222.4L1252.9 227.8L1253.3 228.7L1253.7 231.1L1254.1 230.7L1254.5 232.5L1254.8 231.2L1255.2 227.1L1255.6 228.6L1256.0 226.5L1256.4 224.8L1256.7 224.7L1257.1 225.6L1257.5 224.6L1257.9 225.3L1258.3 221.9L1258.6 223.8L1259.0 223.9L1259.4 223.2L1259.8 219.5L1260.2 215.4L1260.5 215.2L1260.9 213.8L1261.3 211.7L1261.7 212.4L1262.1 215.2L1262.4 212.9L1262.8 218.9L1263.2 212.1L1263.6 216.1L1264.0 216.1L1264.3 216.9L1264.7 214.4L1265.1 215.7L1265.5 216.9L1265.9 214.0L1266.3 214.4L1266.6 214.6L1267.0 213.3L1267.4 216.1L1267.8 216.6L1268.2 216.6L1268.5 220.2L1268.9 214.4L1269.3 215.7L1269.7 214.3L1270.1 216.4L1270.4 215.9L1270.8 224.1L1271.2 220.4L1271.6 221.4L1272.0 223.1L1272.3 220.9L1272.7 223.9L1273.1 226.4L1273.5 225.9L1273.9 227.3L1274.2 228.0L1274.6 225.7L1275.0 228.9L1275.4 227.1L1275.8 227.1L1276.1 225.7L1276.5 226.6L1276.9 226.6L1277.3 230.8L1277.7 232.9L1278.0 236.3L1278.4 237.8L1278.8 234.3L1279.2 233.9L1279.6 235.0L1279.9 232.6L1280.3 232.4L1280.7 227.9L1281.1 224.4L1281.5 224.5L1281.8 221.2L1282.2 220.0L1282.6 219.8L1283.0 221.6L1283.4 224.3L1283.7 216.3L1284.1 216.6L1284.5 215.4L1284.9 217.1L1285.3 216.3L1285.6 213.2L1286.0 220.4L1286.4 216.6L1286.8 220.9L1287.2 219.4L1287.5 219.3L1287.9 219.3L1288.3 221.6L1288.7 225.7L1289.1 228.5L1289.4 234.9L1289.8 234.3L1290.2 236.8L1290.6 235.2L1291.0 235.4L1291.4 229.1L1291.7 228.8L1292.1 229.8L1292.5 231.5L1292.9 231.4L1293.3 234.2L1293.6 231.8L1294.0 232.2L1294.4 230.2L1294.8 230.7L1295.2 225.7L1295.5 230.3L1295.9 224.7L1296.3 220.8L1296.7 223.4L1297.1 226.3L1297.4 225.2L1297.8 224.6L1298.2 227.8L1298.6 232.4L1299.0 230.3L1299.3 231.1L1299.7 233.8L1300.1 237.3L1300.5 233.4L1300.9 235.3L1301.2 233.7L1301.6 236.4L1302.0 241.7L1302.4 241.3L1302.8 237.1L1303.1 238.6L1303.5 235.9L1303.9 234.8L1304.3 234.6L1304.7 236.1L1305.0 232.4L1305.4 230.4L1305.8 229.5L1306.2 229.2L1306.6 225.5L1306.9 225.4L1307.3 223.5L1307.7 225.0L1308.1 223.7L1308.5 222.8L1308.8 225.6L1309.2 226.5L1309.6 224.6L1310.0 219.6L1310.4 222.5L1310.7 221.9L1311.1 223.3L1311.5 224.9L1311.9 227.0L1312.3 228.5L1312.6 225.9L1313.0 225.5L1313.4 225.5L1313.8 227.7L1314.2 228.8L1314.5 231.4L1314.9 229.1L1315.3 231.6L1315.7 230.1L1316.1 226.3L1316.5 224.8L1316.8 221.4L1317.2 217.5L1317.6 217.3L1318.0 217.5L1318.4 217.1L1318.7 217.5L1319.1 216.4L1319.5 216.8L1319.9 217.5L1320.3 216.5L1320.6 214.5L1321.0 216.8L1321.4 217.6L1321.8 214.6L1322.2 215.7L1322.5 213.5L1322.9 211.9L1323.3 212.4L1323.7 214.0L1324.1 214.8L1324.4 215.0L1324.8 211.5L1325.2 210.6L1325.6 212.0L1326.0 206.8L1326.3 203.6L1326.7 200.2L1327.1 196.3L1327.5 188.9L1327.9 191.2L1328.2 188.2L1328.6 189.4L1329.0 188.9L1329.4 183.0L1329.8 185.5L1330.1 181.4L1330.5 178.5L1330.9 178.1L1331.3 177.7L1331.7 176.8L1332.0 180.4L1332.4 181.5L1332.8 180.3L1333.2 178.8L1333.6 182.5L1333.9 182.0L1334.3 180.8L1334.7 178.2L1335.1 178.7L1335.5 179.3L1335.8 176.7L1336.2 178.7L1336.6 177.4L1337.0 177.4L1337.4 176.4L1337.7 176.5L1338.1 177.2L1338.5 177.5L1338.9 176.3L1339.3 176.0L1339.6 173.5L1340.0 173.1L1340.4 174.8L1340.8 172.2L1341.2 171.7L1341.6 177.6L1341.9 181.6L1342.3 178.7L1342.7 178.7L1343.1 178.9L1343.5 181.1L1343.8 181.4L1344.2 179.2L1344.6 177.4L1345.0 179.8L1345.4 182.8L1345.7 186.3L1346.1 187.7L1346.5 184.8L1346.9 184.1L1347.3 184.0L1347.6 180.4L1348.0 179.3L1348.4 174.6L1348.8 175.1L1349.2 176.2L1349.5 179.4L1349.9 183.6L1350.3 183.0L1350.7 182.2L1351.1 183.4L1351.4 182.5L1351.8 183.0L1352.2 178.9L1352.6 176.1L1353.0 171.5L1353.3 170.8L1353.7 171.5L1354.1 171.6L1354.5 171.5L1354.9 171.5L1355.2 174.8L1355.6 171.7L1356.0 170.4L1356.4 171.3L1356.8 176.5L1357.1 176.4L1357.5 173.4L1357.9 173.5L1358.3 173.1L1358.7 175.7L1359.0 179.6L1359.4 179.0L1359.8 178.3L1360.2 177.2L1360.6 180.2L1360.9 179.5L1361.3 177.3L1361.7 180.0L1362.1 180.5L1362.5 177.4L1362.8 178.5L1363.2 175.8L1363.6 181.2L1364.0 180.3L1364.4 180.4L1364.7 180.2L1365.1 183.4L1365.5 178.6L1365.9 179.6L1366.3 183.0L1366.7 184.2L1367.0 186.3L1367.4 183.1L1367.8 187.0L1368.2 192.5L1368.6 193.8L1368.9 190.9L1369.3 187.8L1369.7 184.5L1370.1 188.5L1370.5 189.3L1370.8 191.6L1371.2 194.1L1371.6 195.3L1372.0 197.0L1372.4 202.2L1372.7 206.6L1373.1 204.2L1373.5 197.4L1373.9 196.7L1374.3 192.6L1374.6 192.9L1375.0 192.1L1375.4 193.4L1375.8 192.1L1376.2 192.0L1376.5 192.2L1376.9 191.5L1377.3 192.3L1377.7 192.3L1378.1 192.7L1378.4 196.2L1378.8 196.0L1379.2 195.9L1379.6 195.5L1380.0 194.8L1380.3 196.7L1380.7 194.9L1381.1 196.8L1381.5 198.5L1381.9 199.8L1382.2 196.4L1382.6 198.2L1383.0 200.7L1383.4 202.4L1383.8 204.9L1384.1 200.2L1384.5 195.9L1384.9 197.6L1385.3 192.8L1385.7 195.5L1386.0 197.1L1386.4 193.5L1386.8 195.3L1387.2 192.0L1387.6 191.8L1387.9 186.7L1388.3 184.2L1388.7 184.9L1389.1 183.6L1389.5 182.4L1389.8 180.9L1390.2 181.6L1390.6 181.8L1391.0 181.3L1391.4 182.1L1391.8 185.0L1392.1 184.7L1392.5 181.5L1392.9 181.9L1393.3 182.9L1393.7 183.7L1394.0 180.1L1394.4 180.7L1394.8 181.6L1395.2 178.8L1395.6 177.1L1395.9 170.9L1396.3 175.2L1396.7 174.5L1397.1 172.1L1397.5 175.1L1397.8 174.5L1398.2 174.6L1398.6 172.9L1399.0 171.9L1399.4 169.4L1399.7 168.9L1400.1 168.1L1400.5 168.5L1400.9 166.8L1401.3 169.1L1401.6 169.2L1402.0 169.5L1402.4 172.2L1402.8 173.3L1403.2 170.1L1403.5 173.1L1403.9 170.5L1404.3 172.3L1404.7 173.8L1405.1 174.6L1405.4 173.2L1405.8 173.9L1406.2 171.7L1406.6 171.0L1407.0 167.9L1407.3 169.4L1407.7 169.9L1408.1 169.3L1408.5 171.2L1408.9 170.9L1409.2 172.1L1409.6 172.1L1410.0 173.6L1410.4 173.5L1410.8 170.7L1411.1 174.2L1411.5 173.5L1411.9 176.9L1412.3 175.5L1412.7 171.7L1413.0 168.8L1413.4 170.6L1413.8 169.7L1414.2 168.0L1414.6 169.7L1414.9 166.9L1415.3 171.5L1415.7 168.9L1416.1 166.6L1416.5 170.1L1416.9 166.3L1417.2 163.6L1417.6 166.3L1418.0 167.0L1418.4 164.9L1418.8 158.6L1419.1 161.7L1419.5 163.0L1419.9 161.6L1420.3 158.4L1420.7 158.4L1421.0 156.4L1421.4 159.4L1421.8 159.6L1422.2 158.1L1422.6 156.7L1422.9 156.8L1423.3 161.4L1423.7 158.3L1424.1 155.1L1424.5 159.3L1424.8 159.8L1425.2 157.1L1425.6 158.3L1426.0 159.8L1426.4 158.3L1426.7 160.6L1427.1 162.7L1427.5 164.4L1427.9 167.1L1428.3 163.5L1428.6 164.8L1429.0 163.7L1429.4 164.3L1429.8 163.5L1430.2 158.5L1430.5 158.1L1430.9 156.0L1431.3 158.0L1431.7 154.1L1432.1 158.7L1432.4 160.7L1432.8 160.7L1433.2 157.4L1433.6 160.6L1434.0 164.5L1434.3 163.0L1434.7 164.0L1435.1 163.2L1435.5 165.1L1435.9 165.5L1436.2 166.7L1436.6 164.2L1437.0 166.3L1437.4 166.0L1437.8 169.0L1438.1 169.6L1438.5 170.3L1438.9 167.2L1439.3 169.4L1439.7 167.6L1440.0 168.1L1440.4 167.0L1440.8 167.8L1441.2 169.5L1441.6 167.1L1442.0 166.1L1442.3 164.8L1442.7 163.5L1443.1 160.5L1443.5 161.9L1443.9 160.0L1444.2 158.8L1444.6 159.2L1445.0 156.6L1445.4 161.0L1445.8 161.9L1446.1 165.1L1446.5 162.9L1446.9 161.4L1447.3 165.1L1447.7 165.0L1448.0 167.5L1448.4 168.6L1448.8 168.5L1449.2 167.0L1449.6 164.9L1449.9 164.3L1450.3 161.9L1450.7 155.8L1451.1 156.6L1451.5 155.4L1451.8 156.5L1452.2 154.6L1452.6 154.9L1453.0 157.1L1453.4 155.7L1453.7 157.9L1454.1 159.7L1454.5 163.0L1454.9 167.3L1455.3 165.8L1455.6 164.2L1456.0 168.4L1456.4 166.7L1456.8 172.0L1457.2 173.2L1457.5 171.1L1457.9 168.3L1458.3 167.4L1458.7 168.2L1459.1 169.7L1459.4 168.7L1459.8 168.8L1460.2 167.7L1460.6 164.5L1461.0 163.0L1461.3 163.0L1461.7 160.4L1462.1 163.3L1462.5 165.1L1462.9 165.3L1463.2 166.2L1463.6 170.9L1464.0 170.6L1464.4 174.0L1464.8 173.2L1465.1 173.6L1465.5 172.2L1465.9 175.9L1466.3 174.2L1466.7 175.5L1467.0 178.7L1467.4 179.7L1467.8 182.4L1468.2 186.1L1468.6 186.0L1469.0 185.8L1469.3 188.5L1469.7 190.3L1470.1 193.7L1470.5 194.2L1470.9 194.3L1471.2 194.0L1471.6 188.5L1472.0 189.1L1472.4 186.9L1472.8 189.9L1473.1 192.5L1473.5 192.4L1473.9 190.6L1474.3 189.8L1474.7 187.6L1475.0 187.4L1475.4 184.2L1475.8 185.6L1476.2 188.9L1476.6 185.0L1476.9 185.3L1477.3 185.6L1477.7 186.3L1478.1 185.3L1478.5 190.1L1478.8 188.7L1479.2 191.7L1479.6 197.4L1480.0 193.2L1480.4 195.9L1480.7 194.9L1481.1 193.9L1481.5 191.6L1481.9 191.7L1482.3 189.2L1482.6 190.3L1483.0 192.5L1483.4 191.5L1483.8 191.7L1484.2 191.3L1484.5 191.7L1484.9 190.4L1485.3 189.7L1485.7 187.6L1486.1 185.4L1486.4 183.1L1486.8 185.9L1487.2 186.1L1487.6 183.0L1488.0 186.9L1488.3 186.5L1488.7 188.6L1489.1 186.8L1489.5 185.9L1489.9 184.3L1490.2 182.9L1490.6 182.2L1491.0 180.1L1491.4 184.7L1491.8 185.3L1492.1 188.9L1492.5 187.2L1492.9 189.1L1493.3 187.8L1493.7 189.3L1494.1 185.1L1494.4 187.5L1494.8 188.8L1495.2 189.0L1495.6 190.5L1496.0 189.6L1496.3 193.6L1496.7 194.1L1497.1 196.0L1497.5 201.4L1497.9 205.6L1498.2 208.4L1498.6 217.3L1498.9 225.0" fill="none" stroke="#858494" stroke-width="2.1" stroke-linejoin="round"/>
<path d="M121.9 743.3L122.3 742.9L122.7 742.6L123.1 742.4L123.4 742.2L123.8 742.0L124.2 741.9L124.6 741.9L125.0 741.9L125.4 742.1L125.7 742.2L126.1 742.5L126.5 742.7L126.9 742.9L127.3 743.1L127.6 743.3L128.0 743.4L128.4 743.5L128.8 743.6L129.2 743.8L129.5 743.9L129.9 744.1L130.3 744.2L130.7 744.2L131.1 744.1L131.4 744.0L131.8 743.8L132.2 743.7L132.6 743.7L133.0 743.6L133.3 743.5L133.7 743.5L134.1 743.5L134.5 743.5L134.9 743.4L135.2 743.4L135.6 743.3L136.0 743.2L136.4 743.0L136.8 742.8L137.1 742.5L137.5 742.2L137.9 741.9L138.3 741.6L138.7 741.2L139.0 740.9L139.4 740.6L139.8 740.3L140.2 740.0L140.6 739.6L140.9 739.3L141.3 739.0L141.7 738.7L142.1 738.4L142.5 738.1L142.8 737.8L143.2 737.5L143.6 737.2L144.0 736.9L144.4 736.6L144.7 736.4L145.1 736.1L145.5 735.8L145.9 735.6L146.3 735.3L146.6 735.1L147.0 734.9L147.4 734.7L147.8 734.6L148.2 734.5L148.5 734.5L148.9 734.5L149.3 734.6L149.7 734.8L150.1 734.9L150.5 735.0L150.8 735.0L151.2 734.8L151.6 734.5L152.0 734.1L152.4 733.6L152.7 733.1L153.1 732.5L153.5 731.9L153.9 731.2L154.3 730.5L154.6 729.8L155.0 729.0L155.4 728.2L155.8 727.4L156.2 726.5L156.5 725.6L156.9 724.7L157.3 723.5L157.7 722.2L158.1 720.8L158.4 719.1L158.8 717.4L159.2 715.5L159.6 713.6L160.0 711.6L160.3 709.7L160.7 707.9L161.1 706.1L161.5 704.7L161.9 703.8L162.2 703.0L162.6 702.2L163.0 701.5L163.4 700.8L163.8 700.1L164.1 699.4L164.5 698.7L164.9 697.9L165.3 697.2L165.7 696.5L166.0 696.0L166.4 695.5L166.8 695.2L167.2 694.8L167.6 694.5L167.9 694.1L168.3 693.8L168.7 693.7L169.1 693.6L169.5 693.7L169.8 693.9L170.2 694.2L170.6 694.6L171.0 695.1L171.4 695.5L171.7 696.0L172.1 696.5L172.5 696.8L172.9 696.9L173.3 696.6L173.6 696.3L174.0 696.1L174.4 696.0L174.8 695.9L175.2 695.9L175.6 696.0L175.9 696.1L176.3 696.4L176.7 696.9L177.1 697.5L177.5 698.1L177.8 698.6L178.2 698.9L178.6 699.3L179.0 699.6L179.4 699.9L179.7 700.3L180.1 700.7L180.5 701.1L180.9 701.6L181.3 702.0L181.6 702.5L182.0 703.0L182.4 703.5L182.8 704.1L183.2 704.7L183.5 705.2L183.9 705.8L184.3 706.3L184.7 706.9L185.1 707.4L185.4 707.9L185.8 708.4L186.2 708.9L186.6 709.4L187.0 709.8L187.3 710.3L187.7 710.6L188.1 710.8L188.5 710.8L188.9 710.6L189.2 710.5L189.6 710.4L190.0 710.3L190.4 710.1L190.8 709.9L191.1 709.6L191.5 709.4L191.9 709.1L192.3 708.9L192.7 708.6L193.0 708.4L193.4 708.3L193.8 708.1L194.2 707.9L194.6 707.7L194.9 707.5L195.3 707.3L195.7 707.2L196.1 707.0L196.5 706.8L196.8 706.6L197.2 706.5L197.6 706.3L198.0 706.1L198.4 705.9L198.7 705.7L199.1 705.5L199.5 705.3L199.9 705.1L200.3 704.8L200.7 704.7L201.0 704.6L201.4 704.5L201.8 704.5L202.2 704.5L202.6 704.6L202.9 704.6L203.3 704.6L203.7 704.5L204.1 704.3L204.5 704.1L204.8 703.9L205.2 703.6L205.6 703.4L206.0 703.2L206.4 702.9L206.7 702.7L207.1 702.5L207.5 702.3L207.9 702.1L208.3 701.8L208.6 701.5L209.0 701.2L209.4 700.8L209.8 700.5L210.2 700.1L210.5 699.7L210.9 699.2L211.3 698.7L211.7 698.1L212.1 697.5L212.4 696.9L212.8 696.3L213.2 695.7L213.6 695.2L214.0 694.7L214.3 694.2L214.7 693.7L215.1 693.3L215.5 693.0L215.9 692.7L216.2 692.4L216.6 692.1L217.0 691.8L217.4 691.5L217.8 691.1L218.1 690.5L218.5 689.9L218.9 689.4L219.3 688.9L219.7 688.4L220.0 688.0L220.4 687.6L220.8 687.2L221.2 686.9L221.6 686.6L221.9 686.3L222.3 686.1L222.7 685.8L223.1 685.5L223.5 685.3L223.8 685.0L224.2 684.7L224.6 684.5L225.0 684.2L225.4 684.0L225.8 683.7L226.1 683.5L226.5 683.2L226.9 682.9L227.3 682.6L227.7 682.3L228.0 681.9L228.4 681.6L228.8 681.2L229.2 680.9L229.6 680.7L229.9 680.5L230.3 679.9L230.7 679.3L231.1 678.6L231.5 677.8L231.8 677.0L232.2 676.1L232.6 675.1L233.0 674.2L233.4 673.1L233.7 672.1L234.1 671.0L234.5 669.8L234.9 668.7L235.3 667.4L235.6 666.1L236.0 664.8L236.4 663.6L236.8 662.7L237.2 661.9L237.5 661.4L237.9 660.9L238.3 660.7L238.7 660.5L239.1 660.5L239.4 660.4L239.8 660.2L240.2 659.9L240.6 659.5L241.0 659.0L241.3 658.7L241.7 658.5L242.1 658.5L242.5 658.4L242.9 658.5L243.2 658.6L243.6 658.7L244.0 658.9L244.4 659.1L244.8 659.4L245.1 659.6L245.5 659.9L245.9 660.2L246.3 660.5L246.7 660.9L247.0 661.3L247.4 661.7L247.8 661.8L248.2 661.8L248.6 661.4L248.9 660.9L249.3 660.3L249.7 659.6L250.1 658.9L250.5 658.1L250.9 657.4L251.2 656.8L251.6 656.3L252.0 655.8L252.4 655.4L252.8 654.9L253.1 654.4L253.5 653.8L253.9 653.2L254.3 652.5L254.7 651.8L255.0 651.0L255.4 650.1L255.8 649.3L256.2 648.4L256.6 647.6L256.9 646.8L257.3 646.0L257.7 645.2L258.1 644.4L258.5 643.6L258.8 642.8L259.2 642.1L259.6 641.4L260.0 640.9L260.4 640.3L260.7 639.8L261.1 639.3L261.5 638.8L261.9 638.2L262.3 637.5L262.6 636.8L263.0 636.2L263.4 635.8L263.8 635.5L264.2 635.4L264.5 635.5L264.9 635.7L265.3 635.9L265.7 636.3L266.1 636.8L266.4 637.3L266.8 637.7L267.2 638.1L267.6 638.5L268.0 638.8L268.3 639.1L268.7 639.4L269.1 639.7L269.5 640.0L269.9 640.4L270.2 640.7L270.6 641.0L271.0 641.3L271.4 641.4L271.8 641.6L272.1 641.6L272.5 641.7L272.9 641.7L273.3 641.7L273.7 641.7L274.0 641.8L274.4 641.8L274.8 641.7L275.2 641.4L275.6 640.9L276.0 640.4L276.3 639.7L276.7 639.0L277.1 638.1L277.5 637.2L277.9 636.4L278.2 635.6L278.6 634.8L279.0 634.0L279.4 633.3L279.8 632.6L280.1 631.8L280.5 631.0L280.9 630.2L281.3 629.4L281.7 628.5L282.0 627.5L282.4 626.5L282.8 625.4L283.2 624.3L283.6 623.0L283.9 621.6L284.3 620.1L284.7 618.6L285.1 617.2L285.5 615.9L285.8 614.6L286.2 613.4L286.6 612.2L287.0 611.1L287.4 609.9L287.7 608.5L288.1 607.0L288.5 605.4L288.9 603.6L289.3 601.7L289.6 599.6L290.0 597.3L290.4 595.4L290.8 593.7L291.2 592.1L291.5 590.5L291.9 588.9L292.3 587.1L292.7 585.4L293.1 583.5L293.4 581.7L293.8 579.8L294.2 578.0L294.6 576.1L295.0 574.3L295.3 572.5L295.7 570.8L296.1 569.2L296.5 567.7L296.9 566.3L297.2 564.9L297.6 563.5L298.0 562.3L298.4 561.0L298.8 560.0L299.1 559.0L299.5 558.1L299.9 557.2L300.3 556.4L300.7 555.7L301.1 555.2L301.4 554.9L301.8 554.5L302.2 554.0L302.6 553.6L303.0 553.2L303.3 552.9L303.7 552.7L304.1 552.5L304.5 552.4L304.9 552.4L305.2 552.5L305.6 552.6L306.0 552.9L306.4 553.3L306.8 553.8L307.1 554.4L307.5 554.9L307.9 555.5L308.3 556.0L308.7 556.6L309.0 557.3L309.4 558.2L309.8 558.9L310.2 559.5L310.6 559.8L310.9 560.0L311.3 560.1L311.7 560.2L312.1 560.1L312.5 559.9L312.8 559.7L313.2 559.5L313.6 559.2L314.0 558.9L314.4 558.6L314.7 558.2L315.1 557.9L315.5 557.6L315.9 557.2L316.3 556.8L316.6 556.3L317.0 555.7L317.4 554.9L317.8 553.9L318.2 552.7L318.5 551.3L318.9 549.8L319.3 548.1L319.7 546.2L320.1 544.1L320.4 541.8L320.8 539.2L321.2 536.6L321.6 534.3L322.0 532.3L322.3 530.5L322.7 529.0L323.1 527.6L323.5 526.3L323.9 524.9L324.2 523.5L324.6 522.1L325.0 520.6L325.4 519.0L325.8 517.4L326.1 515.8L326.5 514.1L326.9 512.5L327.3 510.8L327.7 509.1L328.1 507.6L328.4 506.2L328.8 505.0L329.2 504.0L329.6 503.2L330.0 502.5L330.3 502.0L330.7 501.6L331.1 501.3L331.5 501.1L331.9 501.1L332.2 501.2L332.6 501.4L333.0 501.6L333.4 501.8L333.8 502.0L334.1 502.2L334.5 502.4L334.9 502.7L335.3 503.0L335.7 503.3L336.0 503.7L336.4 504.0L336.8 504.4L337.2 504.7L337.6 505.0L337.9 505.2L338.3 505.6L338.7 505.9L339.1 506.3L339.5 506.6L339.8 506.9L340.2 507.0L340.6 507.1L341.0 507.0L341.4 506.8L341.7 506.5L342.1 506.1L342.5 505.6L342.9 504.9L343.3 504.0L343.6 502.8L344.0 501.5L344.4 500.1L344.8 498.7L345.2 497.1L345.5 495.5L345.9 493.9L346.3 492.3L346.7 490.7L347.1 489.2L347.4 487.8L347.8 486.5L348.2 485.2L348.6 484.2L349.0 483.2L349.3 482.2L349.7 481.1L350.1 480.0L350.5 478.8L350.9 477.4L351.2 476.1L351.6 474.6L352.0 473.0L352.4 471.4L352.8 469.8L353.2 468.2L353.5 466.8L353.9 465.5L354.3 464.5L354.7 463.6L355.1 463.1L355.4 462.8L355.8 462.4L356.2 461.9L356.6 461.2L357.0 460.2L357.3 459.3L357.7 458.3L358.1 457.2L358.5 456.1L358.9 454.9L359.2 453.6L359.6 452.2L360.0 450.6L360.4 448.8L360.8 447.0L361.1 445.1L361.5 443.2L361.9 441.3L362.3 439.5L362.7 437.6L363.0 435.8L363.4 433.9L363.8 431.9L364.2 429.3L364.6 426.1L364.9 422.2L365.3 418.4L365.7 414.7L366.1 411.2L366.5 407.8L366.8 404.2L367.2 400.7L367.6 397.3L368.0 394.0L368.4 390.8L368.7 388.0L369.1 385.5L369.5 383.3L369.9 381.3L370.3 379.5L370.6 378.0L371.0 376.6L371.4 375.3L371.8 373.9L372.2 372.6L372.5 371.3L372.9 370.4L373.3 369.7L373.7 369.1L374.1 368.5L374.4 367.8L374.8 367.1L375.2 366.3L375.6 365.8L376.0 365.4L376.3 365.5L376.7 365.9L377.1 366.3L377.5 366.8L377.9 367.4L378.3 368.2L378.6 369.2L379.0 370.2L379.4 371.5L379.8 372.9L380.2 374.2L380.5 375.5L380.9 376.6L381.3 377.7L381.7 378.7L382.1 379.6L382.4 380.3L382.8 381.1L383.2 382.0L383.6 383.0L384.0 384.1L384.3 385.0L384.7 385.8L385.1 386.5L385.5 387.5L385.9 388.7L386.2 390.3L386.6 392.3L387.0 394.7L387.4 397.6L387.8 400.3L388.1 402.8L388.5 405.1L388.9 407.1L389.3 408.8L389.7 410.4L390.0 411.8L390.4 413.1L390.8 414.3L391.2 415.2L391.6 416.1L391.9 416.7L392.3 417.0L392.7 417.2L393.1 417.2L393.5 417.4L393.8 417.7L394.2 418.1L394.6 418.6L395.0 419.3L395.4 419.7L395.7 420.0L396.1 420.1L396.5 419.9L396.9 419.6L397.3 419.1L397.6 418.3L398.0 417.4L398.4 416.4L398.8 415.4L399.2 414.6L399.5 413.9L399.9 413.5L400.3 413.2L400.7 413.1L401.1 413.2L401.4 413.5L401.8 414.0L402.2 414.6L402.6 415.2L403.0 415.9L403.4 416.6L403.7 417.3L404.1 418.0L404.5 418.9L404.9 419.7L405.3 420.5L405.6 421.2L406.0 421.9L406.4 422.6L406.8 423.4L407.2 424.5L407.5 425.7L407.9 427.1L408.3 428.6L408.7 430.3L409.1 432.0L409.4 433.7L409.8 435.3L410.2 436.7L410.6 438.0L411.0 439.2L411.3 440.3L411.7 441.3L412.1 442.1L412.5 442.6L412.9 443.0L413.2 443.1L413.6 443.1L414.0 443.0L414.4 443.0L414.8 443.1L415.1 443.2L415.5 443.2L415.9 443.1L416.3 442.9L416.7 442.4L417.0 441.9L417.4 441.3L417.8 440.6L418.2 439.9L418.6 439.0L418.9 438.1L419.3 437.2L419.7 436.2L420.1 435.1L420.5 434.0L420.8 432.9L421.2 431.7L421.6 430.5L422.0 429.4L422.4 428.5L422.7 427.7L423.1 427.0L423.5 426.5L423.9 426.0L424.3 425.7L424.6 425.5L425.0 425.3L425.4 425.2L425.8 425.2L426.2 425.2L426.5 425.3L426.9 425.6L427.3 425.9L427.7 426.3L428.1 426.9L428.5 427.6L428.8 428.4L429.2 429.2L429.6 430.1L430.0 431.0L430.4 431.8L430.7 432.6L431.1 433.3L431.5 434.1L431.9 434.9L432.3 435.7L432.6 436.7L433.0 437.6L433.4 438.4L433.8 439.1L434.2 439.8L434.5 440.5L434.9 441.2L435.3 442.0L435.7 442.9L436.1 443.8L436.4 444.7L436.8 445.6L437.2 446.4L437.6 447.2L438.0 448.0L438.3 448.7L438.7 449.5L439.1 450.2L439.5 451.0L439.9 451.7L440.2 452.4L440.6 453.0L441.0 453.6L441.4 454.2L441.8 454.9L442.1 455.6L442.5 456.2L442.9 456.8L443.3 457.4L443.7 457.9L444.0 458.4L444.4 458.9L444.8 459.5L445.2 460.0L445.6 460.5L445.9 461.0L446.3 461.4L446.7 461.7L447.1 461.8L447.5 461.8L447.8 461.7L448.2 461.6L448.6 461.4L449.0 461.1L449.4 460.8L449.7 460.4L450.1 459.9L450.5 459.3L450.9 458.5L451.3 457.6L451.6 456.6L452.0 455.5L452.4 454.3L452.8 453.1L453.2 452.0L453.6 451.0L453.9 450.1L454.3 449.4L454.7 448.9L455.1 448.5L455.5 448.2L455.8 448.0L456.2 447.9L456.6 447.9L457.0 447.8L457.4 447.8L457.7 447.8L458.1 447.8L458.5 447.8L458.9 447.9L459.3 448.1L459.6 448.3L460.0 448.6L460.4 449.0L460.8 449.4L461.2 449.8L461.5 450.2L461.9 450.7L462.3 451.2L462.7 451.9L463.1 452.6L463.4 453.5L463.8 454.3L464.2 455.0L464.6 455.8L465.0 456.4L465.3 457.0L465.7 457.5L466.1 457.7L466.5 457.9L466.9 457.9L467.2 457.7L467.6 457.6L468.0 457.6L468.4 457.5L468.8 457.6L469.1 457.6L469.5 457.5L469.9 457.5L470.3 457.4L470.7 457.3L471.0 457.3L471.4 457.2L471.8 457.2L472.2 457.2L472.6 457.1L472.9 457.1L473.3 457.1L473.7 457.1L474.1 457.0L474.5 457.0L474.8 457.0L475.2 457.0L475.6 457.1L476.0 457.1L476.4 457.2L476.7 457.4L477.1 457.6L477.5 457.8L477.9 458.1L478.3 458.4L478.7 458.8L479.0 459.1L479.4 459.3L479.8 459.4L480.2 459.4L480.6 459.4L480.9 459.5L481.3 459.5L481.7 459.6L482.1 459.6L482.5 459.6L482.8 459.6L483.2 459.5L483.6 459.5L484.0 459.5L484.4 459.5L484.7 459.5L485.1 459.6L485.5 459.6L485.9 459.6L486.3 459.7L486.6 459.8L487.0 459.9L487.4 460.0L487.8 460.1L488.2 460.1L488.5 460.2L488.9 460.3L489.3 460.3L489.7 460.3L490.1 460.3L490.4 460.3L490.8 460.2L491.2 460.2L491.6 460.1L492.0 460.0L492.3 459.9L492.7 459.9L493.1 459.8L493.5 459.8L493.9 459.9L494.2 460.1L494.6 460.4L495.0 460.8L495.4 461.3L495.8 461.8L496.1 462.5L496.5 463.2L496.9 464.0L497.3 465.1L497.7 466.2L498.0 467.5L498.4 468.8L498.8 470.3L499.2 471.9L499.6 473.4L499.9 474.8L500.3 476.2L500.7 477.7L501.1 479.3L501.5 480.9L501.8 482.5L502.2 484.3L502.6 486.1L503.0 488.1L503.4 490.1L503.7 492.2L504.1 494.4L504.5 496.7L504.9 499.0L505.3 501.3L505.7 503.5L506.0 505.7L506.4 507.8L506.8 509.8L507.2 511.5L507.6 513.0L507.9 514.2L508.3 515.1L508.7 515.7L509.1 516.2L509.5 516.6L509.8 516.8L510.2 517.0L510.6 517.0L511.0 517.2L511.4 517.5L511.7 517.8L512.1 518.1L512.5 518.2L512.9 518.4L513.3 518.4L513.6 518.4L514.0 518.3L514.4 518.0L514.8 517.6L515.2 517.1L515.5 516.6L515.9 516.1L516.3 515.7L516.7 515.4L517.1 515.0L517.4 514.7L517.8 514.4L518.2 514.2L518.6 514.2L519.0 514.2L519.3 514.4L519.7 514.7L520.1 515.1L520.5 515.4L520.9 515.7L521.2 516.0L521.6 516.3L522.0 516.5L522.4 516.8L522.8 517.1L523.1 517.5L523.5 517.9L523.9 518.3L524.3 518.7L524.7 519.2L525.0 519.7L525.4 520.2L525.8 520.8L526.2 521.2L526.6 521.7L526.9 522.2L527.3 522.5L527.7 522.7L528.1 522.8L528.5 522.8L528.8 522.9L529.2 522.9L529.6 522.8L530.0 522.8L530.4 522.7L530.8 522.6L531.1 522.4L531.5 522.1L531.9 521.7L532.3 521.2L532.7 520.7L533.0 520.3L533.4 519.8L533.8 519.4L534.2 519.0L534.6 518.7L534.9 518.3L535.3 517.9L535.7 517.5L536.1 517.1L536.5 516.7L536.8 516.3L537.2 515.9L537.6 515.5L538.0 515.1L538.4 514.8L538.7 514.5L539.1 514.2L539.5 513.9L539.9 513.5L540.3 513.2L540.6 512.9L541.0 512.6L541.4 512.3L541.8 512.0L542.2 511.8L542.5 511.7L542.9 511.6L543.3 511.5L543.7 511.6L544.1 511.6L544.4 511.6L544.8 511.6L545.2 511.5L545.6 511.4L546.0 511.1L546.3 510.8L546.7 510.4L547.1 509.9L547.5 509.3L547.9 508.5L548.2 507.6L548.6 506.6L549.0 505.6L549.4 504.6L549.8 503.6L550.1 502.6L550.5 501.5L550.9 500.5L551.3 499.5L551.7 498.5L552.0 497.6L552.4 496.7L552.8 495.8L553.2 494.9L553.6 494.0L553.9 493.0L554.3 492.1L554.7 491.1L555.1 490.1L555.5 489.1L555.9 488.1L556.2 487.1L556.6 486.2L557.0 485.3L557.4 484.5L557.8 483.8L558.1 483.1L558.5 482.4L558.9 481.7L559.3 481.1L559.7 480.6L560.0 480.0L560.4 479.3L560.8 478.7L561.2 477.9L561.6 477.1L561.9 476.1L562.3 475.0L562.7 473.7L563.1 472.2L563.5 470.6L563.8 469.0L564.2 467.5L564.6 466.2L565.0 464.9L565.4 463.6L565.7 462.3L566.1 461.0L566.5 459.6L566.9 458.1L567.3 456.6L567.6 455.0L568.0 453.3L568.4 451.6L568.8 450.0L569.2 448.4L569.5 446.9L569.9 445.6L570.3 444.3L570.7 443.2L571.1 442.2L571.4 441.3L571.8 440.6L572.2 439.9L572.6 439.3L573.0 438.7L573.3 438.2L573.7 437.8L574.1 437.5L574.5 437.3L574.9 437.0L575.2 436.6L575.6 436.0L576.0 435.3L576.4 434.5L576.8 433.7L577.1 432.9L577.5 432.1L577.9 431.2L578.3 430.3L578.7 429.3L579.0 428.3L579.4 427.1L579.8 425.6L580.2 424.0L580.6 422.7L581.0 421.7L581.3 420.8L581.7 419.8L582.1 418.7L582.5 417.5L582.9 416.2L583.2 414.9L583.6 413.5L584.0 412.1L584.4 410.6L584.8 409.0L585.1 407.7L585.5 406.5L585.9 405.6L586.3 404.8L586.7 404.3L587.0 403.9L587.4 403.6L587.8 403.5L588.2 403.4L588.6 403.3L588.9 403.3L589.3 403.3L589.7 403.5L590.1 403.7L590.5 404.0L590.8 404.6L591.2 405.4L591.6 406.3L592.0 407.0L592.4 407.5L592.7 407.9L593.1 408.3L593.5 408.6L593.9 408.8L594.3 408.9L594.6 409.1L595.0 409.2L595.4 409.4L595.8 409.7L596.2 410.0L596.5 410.1L596.9 410.1L597.3 410.1L597.7 410.0L598.1 410.0L598.4 409.9L598.8 409.7L599.2 409.5L599.6 409.3L600.0 409.1L600.3 409.0L600.7 408.9L601.1 408.8L601.5 408.7L601.9 408.7L602.2 408.7L602.6 408.6L603.0 408.5L603.4 408.4L603.8 408.4L604.1 408.3L604.5 408.4L604.9 408.6L605.3 408.9L605.7 409.2L606.1 409.5L606.4 409.9L606.8 410.2L607.2 410.5L607.6 411.0L608.0 411.4L608.3 411.8L608.7 412.1L609.1 412.3L609.5 412.5L609.9 412.6L610.2 412.7L610.6 412.8L611.0 412.8L611.4 412.9L611.8 412.9L612.1 412.9L612.5 412.9L612.9 413.0L613.3 413.1L613.7 413.3L614.0 413.5L614.4 414.0L614.8 414.7L615.2 415.3L615.6 415.8L615.9 416.4L616.3 416.8L616.7 417.4L617.1 418.0L617.5 418.7L617.8 419.5L618.2 420.3L618.6 421.2L619.0 422.1L619.4 422.9L619.7 423.6L620.1 424.4L620.5 425.1L620.9 425.9L621.3 426.7L621.6 427.5L622.0 428.3L622.4 429.2L622.8 430.1L623.2 431.0L623.5 431.9L623.9 432.9L624.3 433.8L624.7 434.7L625.1 435.6L625.4 436.4L625.8 436.5L626.2 436.1L626.6 435.7L627.0 435.2L627.3 434.7L627.7 434.2L628.1 433.7L628.5 433.2L628.9 432.7L629.2 432.2L629.6 431.7L630.0 431.2L630.4 430.8L630.8 430.5L631.2 430.2L631.5 430.0L631.9 429.8L632.3 429.5L632.7 429.3L633.1 429.1L633.4 428.9L633.8 428.7L634.2 428.5L634.6 428.4L635.0 428.2L635.3 428.0L635.7 428.0L636.1 427.9L636.5 427.9L636.9 428.1L637.2 428.6L637.6 429.4L638.0 430.2L638.4 431.0L638.8 431.7L639.1 432.5L639.5 433.3L639.9 434.1L640.3 434.9L640.7 435.7L641.0 436.5L641.4 437.3L641.8 438.1L642.2 438.9L642.6 439.6L642.9 440.3L643.3 441.1L643.7 441.8L644.1 442.5L644.5 443.2L644.8 444.0L645.2 444.7L645.6 445.5L646.0 446.3L646.4 447.0L646.7 447.5L647.1 447.8L647.5 448.0L647.9 448.1L648.3 448.1L648.6 448.0L649.0 447.8L649.4 447.7L649.8 447.7L650.2 447.9L650.5 448.0L650.9 448.1L651.3 448.3L651.7 448.4L652.1 448.5L652.4 448.6L652.8 448.7L653.2 448.6L653.6 448.3L654.0 448.0L654.3 447.6L654.7 447.1L655.1 446.6L655.5 446.1L655.9 445.6L656.3 444.9L656.6 444.2L657.0 443.3L657.4 442.4L657.8 441.5L658.2 440.8L658.5 440.1L658.9 439.5L659.3 438.9L659.7 438.3L660.1 437.7L660.4 437.0L660.8 436.3L661.2 435.6L661.6 434.8L662.0 434.0L662.3 433.1L662.7 432.2L663.1 431.3L663.5 430.4L663.9 429.5L664.2 428.7L664.6 427.9L665.0 427.3L665.4 426.6L665.8 426.0L666.1 425.4L666.5 424.7L666.9 424.0L667.3 423.3L667.7 422.6L668.0 422.0L668.4 421.4L668.8 420.9L669.2 420.5L669.6 420.0L669.9 419.6L670.3 419.2L670.7 418.7L671.1 418.4L671.5 418.0L671.8 417.7L672.2 417.5L672.6 417.3L673.0 417.2L673.4 417.3L673.7 417.4L674.1 417.7L674.5 418.0L674.9 418.2L675.3 418.6L675.6 418.8L676.0 419.1L676.4 419.3L676.8 419.5L677.2 419.9L677.5 420.4L677.9 421.1L678.3 422.0L678.7 423.9L679.1 426.0L679.4 428.0L679.8 430.1L680.2 432.1L680.6 434.0L681.0 435.7L681.4 437.4L681.7 439.1L682.1 440.7L682.5 442.3L682.9 443.8L683.3 445.3L683.6 446.8L684.0 448.3L684.4 449.8L684.8 451.2L685.2 452.4L685.5 453.5L685.9 454.5L686.3 455.5L686.7 456.4L687.1 457.3L687.4 458.3L687.8 459.2L688.2 460.2L688.6 461.0L689.0 461.7L689.3 462.3L689.7 462.8L690.1 461.7L690.5 460.5L690.9 459.4L691.2 458.4L691.6 457.4L692.0 456.6L692.4 456.0L692.8 455.5L693.1 455.2L693.5 455.0L693.9 454.6L694.3 454.3L694.7 453.8L695.0 453.3L695.4 452.7L695.8 452.0L696.2 451.2L696.6 450.3L696.9 449.4L697.3 448.4L697.7 447.4L698.1 446.5L698.5 445.6L698.8 444.6L699.2 443.6L699.6 442.3L700.0 441.2L700.4 440.2L700.7 439.3L701.1 438.3L701.5 437.2L701.9 436.1L702.3 434.9L702.6 433.8L703.0 432.7L703.4 431.6L703.8 430.5L704.2 429.5L704.5 428.4L704.9 427.5L705.3 426.7L705.7 426.0L706.1 425.3L706.4 424.7L706.8 424.1L707.2 423.5L707.6 422.9L708.0 422.4L708.4 422.0L708.7 421.6L709.1 421.2L709.5 420.7L709.9 420.4L710.3 420.1L710.6 420.0L711.0 420.1L711.4 420.2L711.8 420.1L712.2 419.9L712.5 419.8L712.9 419.8L713.3 419.8L713.7 419.8L714.1 419.9L714.4 419.9L714.8 420.0L715.2 420.0L715.6 420.0L716.0 419.9L716.3 419.8L716.7 419.5L717.1 419.3L717.5 419.1L717.9 419.0L718.2 418.9L718.6 418.9L719.0 418.9L719.4 419.1L719.8 419.2L720.1 419.3L720.5 419.4L720.9 419.6L721.3 419.7L721.7 419.9L722.0 420.0L722.4 420.1L722.8 420.2L723.2 420.3L723.6 420.4L723.9 420.5L724.3 420.7L724.7 420.8L725.1 420.9L725.5 421.1L725.8 421.2L726.2 421.3L726.6 421.4L727.0 421.6L727.4 421.7L727.7 421.9L728.1 422.1L728.5 422.3L728.9 422.5L729.3 422.4L729.6 422.3L730.0 422.0L730.4 421.5L730.8 421.0L731.2 420.4L731.5 419.8L731.9 419.2L732.3 418.6L732.7 417.9L733.1 417.2L733.5 416.5L733.8 415.7L734.2 414.9L734.6 414.1L735.0 413.3L735.4 412.5L735.7 411.6L736.1 410.8L736.5 409.9L736.9 409.1L737.3 408.2L737.6 407.3L738.0 406.4L738.4 405.5L738.8 404.6L739.2 403.7L739.5 402.8L739.9 402.0L740.3 401.2L740.7 400.6L741.1 400.0L741.4 399.6L741.8 399.3L742.2 399.0L742.6 398.9L743.0 398.7L743.3 398.6L743.7 398.4L744.1 398.3L744.5 398.3L744.9 398.3L745.2 398.6L745.6 399.0L746.0 399.4L746.4 399.8L746.8 400.3L747.1 400.6L747.5 401.0L747.9 401.4L748.3 401.7L748.7 402.1L749.0 402.4L749.4 402.7L749.8 403.1L750.2 403.4L750.6 403.8L750.9 404.2L751.3 404.6L751.7 404.9L752.1 405.3L752.5 405.7L752.8 406.0L753.2 406.4L753.6 406.7L754.0 407.0L754.4 407.3L754.7 407.7L755.1 408.0L755.5 408.4L755.9 408.7L756.3 408.9L756.6 408.9L757.0 408.7L757.4 408.5L757.8 408.4L758.2 408.2L758.6 408.0L758.9 407.8L759.3 407.6L759.7 407.4L760.1 407.2L760.5 407.0L760.8 406.8L761.2 406.5L761.6 406.2L762.0 405.8L762.4 405.3L762.7 404.9L763.1 404.3L763.5 403.7L763.9 403.1L764.3 402.4L764.6 401.7L765.0 400.9L765.4 400.1L765.8 399.3L766.2 398.5L766.5 397.6L766.9 396.7L767.3 395.8L767.7 394.8L768.1 393.8L768.4 392.8L768.8 391.8L769.2 390.8L769.6 389.7L770.0 388.6L770.3 387.5L770.7 386.4L771.1 385.2L771.5 384.0L771.9 382.8L772.2 381.5L772.6 380.2L773.0 378.8L773.4 377.5L773.8 376.1L774.1 374.7L774.5 373.3L774.9 372.0L775.3 370.7L775.7 369.5L776.0 368.5L776.4 367.4L776.8 366.5L777.2 365.5L777.6 364.5L777.9 363.5L778.3 362.4L778.7 361.4L779.1 360.4L779.5 359.4L779.8 358.5L780.2 357.6L780.6 356.7L781.0 355.9L781.4 355.1L781.7 354.4L782.1 353.7L782.5 353.1L782.9 352.5L783.3 352.1L783.7 351.7L784.0 351.4L784.4 351.1L784.8 350.7L785.2 350.2L785.6 349.5L785.9 348.8L786.3 347.9L786.7 347.0L787.1 346.0L787.5 345.0L787.8 343.9L788.2 342.8L788.6 341.5L789.0 340.1L789.4 338.6L789.7 337.1L790.1 335.4L790.5 333.5L790.9 331.6L791.3 329.5L791.6 327.2L792.0 324.8L792.4 322.3L792.8 319.6L793.2 316.8L793.5 314.0L793.9 311.4L794.3 308.8L794.7 306.4L795.1 304.0L795.4 301.8L795.8 299.7L796.2 297.8L796.6 296.1L797.0 294.6L797.3 293.2L797.7 292.0L798.1 290.8L798.5 289.7L798.9 288.8L799.2 287.9L799.6 287.1L800.0 286.4L800.4 285.9L800.8 285.5L801.1 285.2L801.5 284.9L801.9 284.7L802.3 284.5L802.7 284.4L803.0 284.3L803.4 284.2L803.8 284.2L804.2 284.1L804.6 284.1L804.9 283.9L805.3 283.5L805.7 282.9L806.1 282.2L806.5 281.5L806.8 280.6L807.2 279.7L807.6 278.6L808.0 277.5L808.4 276.3L808.8 274.9L809.1 273.4L809.5 271.7L809.9 270.0L810.3 268.2L810.7 266.3L811.0 264.5L811.4 262.9L811.8 261.3L812.2 259.9L812.6 258.6L812.9 257.4L813.3 256.3L813.7 255.1L814.1 254.0L814.5 252.9L814.8 251.8L815.2 250.8L815.6 249.9L816.0 249.0L816.4 248.1L816.7 247.3L817.1 246.5L817.5 245.7L817.9 244.9L818.3 244.0L818.6 243.3L819.0 242.5L819.4 241.9L819.8 241.4L820.2 241.0L820.5 240.7L820.9 240.6L821.3 240.5L821.7 240.5L822.1 240.6L822.4 240.5L822.8 240.3L823.2 240.0L823.6 239.6L824.0 239.2L824.3 238.6L824.7 238.1L825.1 237.5L825.5 237.0L825.9 236.5L826.2 236.0L826.6 235.6L827.0 235.1L827.4 234.7L827.8 234.3L828.1 234.0L828.5 233.7L828.9 233.4L829.3 233.1L829.7 232.9L830.0 232.7L830.4 232.4L830.8 232.1L831.2 231.8L831.6 231.5L831.9 231.4L832.3 231.3L832.7 231.3L833.1 231.4L833.5 231.5L833.9 231.7L834.2 232.0L834.6 232.2L835.0 232.4L835.4 232.5L835.8 232.6L836.1 232.7L836.5 232.8L836.9 232.9L837.3 233.0L837.7 233.1L838.0 233.2L838.4 233.3L838.8 233.4L839.2 233.5L839.6 233.7L839.9 233.9L840.3 234.3L840.7 234.8L841.1 235.5L841.5 236.4L841.8 237.3L842.2 238.4L842.6 239.6L843.0 240.8L843.4 242.0L843.7 243.2L844.1 244.3L844.5 245.4L844.9 246.4L845.3 247.3L845.6 248.2L846.0 249.2L846.4 250.5L846.8 251.8L847.2 253.2L847.5 254.6L847.9 256.0L848.3 257.4L848.7 258.8L849.1 260.3L849.4 261.9L849.8 263.7L850.2 265.6L850.6 267.6L851.0 269.7L851.3 271.6L851.7 273.4L852.1 274.9L852.5 276.2L852.9 277.2L853.2 278.0L853.6 278.6L854.0 279.1L854.4 279.5L854.8 279.9L855.1 280.3L855.5 280.7L855.9 281.3L856.3 281.8L856.7 282.3L857.0 282.7L857.4 282.9L857.8 282.9L858.2 283.0L858.6 283.1L859.0 283.2L859.3 283.4L859.7 283.7L860.1 284.0L860.5 284.3L860.9 284.5L861.2 284.7L861.6 284.8L862.0 284.8L862.4 284.8L862.8 284.9L863.1 285.2L863.5 285.5L863.9 285.9L864.3 286.4L864.7 287.1L865.0 287.8L865.4 288.4L865.8 289.0L866.2 289.6L866.6 290.0L866.9 290.3L867.3 290.3L867.7 290.2L868.1 290.1L868.5 289.9L868.8 289.7L869.2 289.4L869.6 288.9L870.0 288.4L870.4 287.8L870.7 287.3L871.1 286.8L871.5 286.3L871.9 285.8L872.3 285.1L872.6 284.3L873.0 283.4L873.4 282.5L873.8 281.5L874.2 280.5L874.5 279.4L874.9 278.3L875.3 277.1L875.7 275.9L876.1 274.7L876.4 273.5L876.8 272.3L877.2 271.0L877.6 269.7L878.0 268.2L878.3 266.8L878.7 265.5L879.1 264.2L879.5 263.1L879.9 262.1L880.2 261.1L880.6 260.3L881.0 259.6L881.4 259.0L881.8 258.4L882.1 257.8L882.5 257.1L882.9 256.4L883.3 255.8L883.7 255.4L884.0 255.0L884.4 254.5L884.8 254.0L885.2 253.5L885.6 253.1L886.0 252.8L886.3 252.8L886.7 252.8L887.1 252.9L887.5 252.9L887.9 253.0L888.2 253.0L888.6 252.9L889.0 252.9L889.4 252.9L889.8 253.1L890.1 253.3L890.5 253.6L890.9 254.1L891.3 254.6L891.7 255.0L892.0 255.4L892.4 255.8L892.8 256.2L893.2 256.7L893.6 257.3L893.9 257.7L894.3 257.9L894.7 258.1L895.1 258.1L895.5 258.0L895.8 258.0L896.2 258.0L896.6 257.9L897.0 257.7L897.4 257.3L897.7 256.7L898.1 256.0L898.5 255.3L898.9 254.4L899.3 253.6L899.6 252.8L900.0 252.0L900.4 251.1L900.8 250.0L901.2 248.8L901.5 247.5L901.9 246.2L902.3 244.8L902.7 243.5L903.1 242.3L903.4 241.1L903.8 240.0L904.2 238.8L904.6 237.6L905.0 236.3L905.3 235.1L905.7 234.1L906.1 233.2L906.5 232.4L906.9 231.6L907.2 230.9L907.6 230.2L908.0 229.5L908.4 228.7L908.8 228.0L909.1 227.3L909.5 226.6L909.9 226.0L910.3 225.5L910.7 225.0L911.1 224.7L911.4 224.4L911.8 224.1L912.2 224.1L912.6 224.2L913.0 224.4L913.3 224.6L913.7 224.9L914.1 225.0L914.5 225.2L914.9 225.4L915.2 225.6L915.6 225.9L916.0 226.2L916.4 226.6L916.8 227.0L917.1 227.4L917.5 227.7L917.9 228.1L918.3 228.5L918.7 229.1L919.0 229.9L919.4 230.7L919.8 231.7L920.2 232.8L920.6 233.9L920.9 235.0L921.3 236.0L921.7 237.1L922.1 238.2L922.5 239.2L922.8 240.3L923.2 241.3L923.6 242.4L924.0 243.3L924.4 244.2L924.7 245.0L925.1 245.8L925.5 246.5L925.9 247.1L926.3 247.7L926.6 248.2L927.0 248.6L927.4 248.9L927.8 249.2L928.2 249.6L928.5 250.1L928.9 250.6L929.3 251.1L929.7 251.5L930.1 251.8L930.4 252.2L930.8 252.5L931.2 253.0L931.6 253.5L932.0 254.0L932.3 254.5L932.7 255.0L933.1 255.5L933.5 256.0L933.9 256.4L934.2 256.8L934.6 257.2L935.0 257.6L935.4 258.0L935.8 258.4L936.2 258.9L936.5 259.4L936.9 260.1L937.3 260.9L937.7 261.9L938.1 263.0L938.4 264.2L938.8 265.3L939.2 266.5L939.6 267.5L940.0 268.5L940.3 269.5L940.7 270.4L941.1 271.2L941.5 272.0L941.9 272.6L942.2 273.1L942.6 273.3L943.0 273.4L943.4 273.3L943.8 273.2L944.1 273.0L944.5 272.8L944.9 272.6L945.3 272.5L945.7 272.3L946.0 272.2L946.4 272.2L946.8 272.1L947.2 272.1L947.6 272.2L947.9 272.3L948.3 272.4L948.7 272.4L949.1 272.3L949.5 272.1L949.8 271.9L950.2 271.7L950.6 271.4L951.0 271.1L951.4 270.7L951.7 270.2L952.1 269.7L952.5 269.1L952.9 268.8L953.3 268.6L953.6 268.6L954.0 268.7L954.4 268.9L954.8 269.1L955.2 269.3L955.5 269.6L955.9 269.9L956.3 270.3L956.7 270.7L957.1 271.1L957.4 271.5L957.8 271.7L958.2 271.8L958.6 271.8L959.0 271.7L959.3 271.5L959.7 271.2L960.1 270.8L960.5 270.3L960.9 269.8L961.3 269.3L961.6 268.8L962.0 268.2L962.4 267.7L962.8 267.2L963.2 266.9L963.5 266.7L963.9 266.4L964.3 266.0L964.7 265.5L965.1 265.0L965.4 264.4L965.8 264.0L966.2 263.7L966.6 263.5L967.0 263.3L967.3 263.2L967.7 263.0L968.1 262.8L968.5 262.7L968.9 262.6L969.2 262.5L969.6 262.5L970.0 262.6L970.4 262.6L970.8 262.7L971.1 262.9L971.5 263.0L971.9 263.2L972.3 263.5L972.7 263.9L973.0 264.3L973.4 264.9L973.8 265.5L974.2 266.2L974.6 266.9L974.9 267.6L975.3 268.3L975.7 269.0L976.1 269.7L976.5 270.4L976.8 271.1L977.2 271.8L977.6 272.5L978.0 273.2L978.4 274.0L978.7 275.0L979.1 276.0L979.5 277.0L979.9 278.0L980.3 279.1L980.6 280.1L981.0 281.1L981.4 282.2L981.8 283.2L982.2 284.2L982.5 285.3L982.9 286.3L983.3 287.4L983.7 288.4L984.1 289.5L984.4 290.6L984.8 291.6L985.2 292.7L985.6 293.7L986.0 294.7L986.4 295.6L986.7 296.5L987.1 297.3L987.5 298.1L987.9 298.8L988.3 299.5L988.6 300.2L989.0 300.9L989.4 301.4L989.8 301.6L990.2 301.6L990.5 301.6L990.9 301.7L991.3 302.0L991.7 302.4L992.1 302.9L992.4 303.6L992.8 304.5L993.2 305.5L993.6 306.6L994.0 307.8L994.3 309.0L994.7 310.2L995.1 311.4L995.5 312.4L995.9 313.5L996.2 314.5L996.6 315.5L997.0 316.5L997.4 317.6L997.8 318.8L998.1 320.2L998.5 321.8L998.9 323.4L999.3 325.1L999.7 326.7L1000.0 328.2L1000.4 329.8L1000.8 331.3L1001.2 332.8L1001.6 334.4L1001.9 336.0L1002.3 337.4L1002.7 338.8L1003.1 339.8L1003.5 340.6L1003.8 341.1L1004.2 341.4L1004.6 341.3L1005.0 341.1L1005.4 340.7L1005.7 340.1L1006.1 339.7L1006.5 339.4L1006.9 339.2L1007.3 339.0L1007.6 338.8L1008.0 338.6L1008.4 338.4L1008.8 338.0L1009.2 337.5L1009.5 337.0L1009.9 336.4L1010.3 335.8L1010.7 335.3L1011.1 334.9L1011.5 334.5L1011.8 334.1L1012.2 333.8L1012.6 333.3L1013.0 332.8L1013.4 332.2L1013.7 331.6L1014.1 330.9L1014.5 330.2L1014.9 329.5L1015.3 329.0L1015.6 328.5L1016.0 328.2L1016.4 328.0L1016.8 328.0L1017.2 328.1L1017.5 328.2L1017.9 328.4L1018.3 328.5L1018.7 328.7L1019.1 328.9L1019.4 329.2L1019.8 329.6L1020.2 330.1L1020.6 330.6L1021.0 331.1L1021.3 331.6L1021.7 332.1L1022.1 332.6L1022.5 333.1L1022.9 333.6L1023.2 334.1L1023.6 334.7L1024.0 335.4L1024.4 336.1L1024.8 336.9L1025.1 337.5L1025.5 338.1L1025.9 338.6L1026.3 339.1L1026.7 339.5L1027.0 340.0L1027.4 340.6L1027.8 341.2L1028.2 341.7L1028.6 342.1L1028.9 342.4L1029.3 342.7L1029.7 343.0L1030.1 343.3L1030.5 343.7L1030.8 344.0L1031.2 344.3L1031.6 344.6L1032.0 344.8L1032.4 344.9L1032.7 345.1L1033.1 345.2L1033.5 345.2L1033.9 345.3L1034.3 345.3L1034.6 345.3L1035.0 345.2L1035.4 345.2L1035.8 345.0L1036.2 345.0L1036.6 345.1L1036.9 345.4L1037.3 345.7L1037.7 346.1L1038.1 346.5L1038.5 346.8L1038.8 347.0L1039.2 347.0L1039.6 347.1L1040.0 347.1L1040.4 347.2L1040.7 347.2L1041.1 347.3L1041.5 347.2L1041.9 347.0L1042.3 346.8L1042.6 346.5L1043.0 346.3L1043.4 346.0L1043.8 345.8L1044.2 345.6L1044.5 345.4L1044.9 345.3L1045.3 345.2L1045.7 345.0L1046.1 344.9L1046.4 344.7L1046.8 344.4L1047.2 344.2L1047.6 344.0L1048.0 343.9L1048.3 344.1L1048.7 344.6L1049.1 345.0L1049.5 345.4L1049.9 345.9L1050.2 346.3L1050.6 346.8L1051.0 347.2L1051.4 347.7L1051.8 348.3L1052.1 348.8L1052.5 349.4L1052.9 350.0L1053.3 350.7L1053.7 351.4L1054.0 352.2L1054.4 352.9L1054.8 353.7L1055.2 354.5L1055.6 355.2L1055.9 355.9L1056.3 356.6L1056.7 357.2L1057.1 357.9L1057.5 358.6L1057.8 359.4L1058.2 360.3L1058.6 361.1L1059.0 361.7L1059.4 362.3L1059.7 362.5L1060.1 362.3L1060.5 362.1L1060.9 362.0L1061.3 361.8L1061.7 361.6L1062.0 361.5L1062.4 361.3L1062.8 361.2L1063.2 361.0L1063.6 360.9L1063.9 360.8L1064.3 360.7L1064.7 360.5L1065.1 360.3L1065.5 360.2L1065.8 360.0L1066.2 360.0L1066.6 359.9L1067.0 359.9L1067.4 360.0L1067.7 360.1L1068.1 360.1L1068.5 360.2L1068.9 360.3L1069.3 360.4L1069.6 360.5L1070.0 360.5L1070.4 360.6L1070.8 360.7L1071.2 360.7L1071.5 360.8L1071.9 360.9L1072.3 360.9L1072.7 360.7L1073.1 360.4L1073.4 359.9L1073.8 359.2L1074.2 358.4L1074.6 357.6L1075.0 356.8L1075.3 355.9L1075.7 354.9L1076.1 353.9L1076.5 352.7L1076.9 351.6L1077.2 350.5L1077.6 349.4L1078.0 348.2L1078.4 347.0L1078.8 345.8L1079.1 344.5L1079.5 343.3L1079.9 342.1L1080.3 340.8L1080.7 339.6L1081.0 338.5L1081.4 337.5L1081.8 336.5L1082.2 335.5L1082.6 334.6L1082.9 333.8L1083.3 332.9L1083.7 332.2L1084.1 331.6L1084.5 331.3L1084.8 331.0L1085.2 330.8L1085.6 330.5L1086.0 330.0L1086.4 329.5L1086.7 329.0L1087.1 328.6L1087.5 328.4L1087.9 328.2L1088.3 328.0L1088.7 327.9L1089.0 327.9L1089.4 327.8L1089.8 327.8L1090.2 327.7L1090.6 327.7L1090.9 327.7L1091.3 327.8L1091.7 327.9L1092.1 328.0L1092.5 328.2L1092.8 328.3L1093.2 328.5L1093.6 328.8L1094.0 329.1L1094.4 329.4L1094.7 329.7L1095.1 329.8L1095.5 329.9L1095.9 329.7L1096.3 329.3L1096.6 328.9L1097.0 328.5L1097.4 328.1L1097.8 327.6L1098.2 327.1L1098.5 326.6L1098.9 326.0L1099.3 325.5L1099.7 324.9L1100.1 324.3L1100.4 323.7L1100.8 323.1L1101.2 322.5L1101.6 322.0L1102.0 321.4L1102.3 320.8L1102.7 320.2L1103.1 319.5L1103.5 318.8L1103.9 318.0L1104.2 317.2L1104.6 316.3L1105.0 315.4L1105.4 314.4L1105.8 313.4L1106.1 312.4L1106.5 311.3L1106.9 310.3L1107.3 309.4L1107.7 308.7L1108.0 308.1L1108.4 307.6L1108.8 307.2L1109.2 306.9L1109.6 306.7L1109.9 306.5L1110.3 306.4L1110.7 306.3L1111.1 306.3L1111.5 306.3L1111.8 306.3L1112.2 306.2L1112.6 306.0L1113.0 305.8L1113.4 305.6L1113.8 305.4L1114.1 305.3L1114.5 305.1L1114.9 305.0L1115.3 304.9L1115.7 304.8L1116.0 304.7L1116.4 304.7L1116.8 304.6L1117.2 304.7L1117.6 304.9L1117.9 305.2L1118.3 305.5L1118.7 305.9L1119.1 306.3L1119.5 306.7L1119.8 307.1L1120.2 307.5L1120.6 307.9L1121.0 308.3L1121.4 308.6L1121.7 309.0L1122.1 309.2L1122.5 309.3L1122.9 309.4L1123.3 309.5L1123.6 309.7L1124.0 309.8L1124.4 310.0L1124.8 310.2L1125.2 310.5L1125.5 310.8L1125.9 311.0L1126.3 311.4L1126.7 311.6L1127.1 311.9L1127.4 312.2L1127.8 312.5L1128.2 312.7L1128.6 312.9L1129.0 313.0L1129.3 313.1L1129.7 313.3L1130.1 313.4L1130.5 313.6L1130.9 313.8L1131.2 314.0L1131.6 314.1L1132.0 314.2L1132.4 314.3L1132.8 314.2L1133.1 313.9L1133.5 313.5L1133.9 313.0L1134.3 312.6L1134.7 312.2L1135.0 311.8L1135.4 311.4L1135.8 311.1L1136.2 310.7L1136.6 310.3L1136.9 309.9L1137.3 309.4L1137.7 309.0L1138.1 308.4L1138.5 307.9L1138.9 307.3L1139.2 306.8L1139.6 306.2L1140.0 305.8L1140.4 305.3L1140.8 304.8L1141.1 304.3L1141.5 303.7L1141.9 303.1L1142.3 302.5L1142.7 301.8L1143.0 301.3L1143.4 300.7L1143.8 300.3L1144.2 299.9L1144.6 299.7L1144.9 299.7L1145.3 299.7L1145.7 299.8L1146.1 300.0L1146.5 300.1L1146.8 300.3L1147.2 300.4L1147.6 300.5L1148.0 300.6L1148.4 300.7L1148.7 300.8L1149.1 300.9L1149.5 301.1L1149.9 301.3L1150.3 301.5L1150.6 301.7L1151.0 301.8L1151.4 301.9L1151.8 301.9L1152.2 302.0L1152.5 302.1L1152.9 302.2L1153.3 302.3L1153.7 302.5L1154.1 302.7L1154.4 302.8L1154.8 303.0L1155.2 303.3L1155.6 303.8L1156.0 304.2L1156.3 304.7L1156.7 305.1L1157.1 305.5L1157.5 305.9L1157.9 306.2L1158.2 306.5L1158.6 306.8L1159.0 307.1L1159.4 307.4L1159.8 307.6L1160.1 307.9L1160.5 308.2L1160.9 308.5L1161.3 308.9L1161.7 309.4L1162.0 309.8L1162.4 310.3L1162.8 310.7L1163.2 311.2L1163.6 311.8L1164.0 312.3L1164.3 312.8L1164.7 313.4L1165.1 313.9L1165.5 314.4L1165.9 314.8L1166.2 315.2L1166.6 315.4L1167.0 315.4L1167.4 315.3L1167.8 315.2L1168.1 315.1L1168.5 315.1L1168.9 315.1L1169.3 315.1L1169.7 315.1L1170.0 315.2L1170.4 315.4L1170.8 315.5L1171.2 315.6L1171.6 315.7L1171.9 315.7L1172.3 315.6L1172.7 315.5L1173.1 315.3L1173.5 315.1L1173.8 314.8L1174.2 314.6L1174.6 314.4L1175.0 314.1L1175.4 313.9L1175.7 313.7L1176.1 313.4L1176.5 313.2L1176.9 313.0L1177.3 312.9L1177.6 312.8L1178.0 312.7L1178.4 312.5L1178.8 312.4L1179.2 312.2L1179.5 311.9L1179.9 311.4L1180.3 310.8L1180.7 310.0L1181.1 309.1L1181.4 308.1L1181.8 307.2L1182.2 306.2L1182.6 305.3L1183.0 304.4L1183.3 303.5L1183.7 302.6L1184.1 301.7L1184.5 300.9L1184.9 300.0L1185.2 299.2L1185.6 298.3L1186.0 297.4L1186.4 296.5L1186.8 295.5L1187.1 294.5L1187.5 293.4L1187.9 292.3L1188.3 291.2L1188.7 290.2L1189.1 289.1L1189.4 288.1L1189.8 287.2L1190.2 286.3L1190.6 285.5L1191.0 284.7L1191.3 284.0L1191.7 283.5L1192.1 283.0L1192.5 282.7L1192.9 282.4L1193.2 282.1L1193.6 281.7L1194.0 281.5L1194.4 281.2L1194.8 280.9L1195.1 280.7L1195.5 280.4L1195.9 280.2L1196.3 279.8L1196.7 279.3L1197.0 278.6L1197.4 277.8L1197.8 277.1L1198.2 276.5L1198.6 276.0L1198.9 275.5L1199.3 275.1L1199.7 274.6L1200.1 274.2L1200.5 273.7L1200.8 273.2L1201.2 272.7L1201.6 272.2L1202.0 271.7L1202.4 271.2L1202.7 270.7L1203.1 270.3L1203.5 269.8L1203.9 269.4L1204.3 269.0L1204.6 268.6L1205.0 268.2L1205.4 267.7L1205.8 267.3L1206.2 266.9L1206.5 266.4L1206.9 266.0L1207.3 265.5L1207.7 265.1L1208.1 264.9L1208.4 264.7L1208.8 264.6L1209.2 264.4L1209.6 264.2L1210.0 263.9L1210.3 263.7L1210.7 263.4L1211.1 263.2L1211.5 263.0L1211.9 262.9L1212.2 262.8L1212.6 262.8L1213.0 262.8L1213.4 262.9L1213.8 263.0L1214.2 263.1L1214.5 263.2L1214.9 263.3L1215.3 263.5L1215.7 263.6L1216.1 263.8L1216.4 264.0L1216.8 264.2L1217.2 264.3L1217.6 264.4L1218.0 264.4L1218.3 264.4L1218.7 264.5L1219.1 264.6L1219.5 264.7L1219.9 264.8L1220.2 265.0L1220.6 265.2L1221.0 265.4L1221.4 265.6L1221.8 265.7L1222.1 265.7L1222.5 265.6L1222.9 265.4L1223.3 264.9L1223.7 264.3L1224.0 263.6L1224.4 262.8L1224.8 262.0L1225.2 261.2L1225.6 260.3L1225.9 259.5L1226.3 258.6L1226.7 257.7L1227.1 256.9L1227.5 256.0L1227.8 255.1L1228.2 254.2L1228.6 253.1L1229.0 251.9L1229.4 250.6L1229.7 249.2L1230.1 247.8L1230.5 246.4L1230.9 244.8L1231.3 243.3L1231.6 241.7L1232.0 240.1L1232.4 238.6L1232.8 237.0L1233.2 235.4L1233.5 233.9L1233.9 232.5L1234.3 231.1L1234.7 229.9L1235.1 228.7L1235.4 227.6L1235.8 226.6L1236.2 225.7L1236.6 224.8L1237.0 224.0L1237.3 223.2L1237.7 222.4L1238.1 221.7L1238.5 220.9L1238.9 220.1L1239.3 219.4L1239.6 218.6L1240.0 217.9L1240.4 217.3L1240.8 216.8L1241.2 216.4L1241.5 216.0L1241.9 215.8L1242.3 215.6L1242.7 215.5L1243.1 215.4L1243.4 215.3L1243.8 215.3L1244.2 215.3L1244.6 215.2L1245.0 215.3L1245.3 215.4L1245.7 215.6L1246.1 215.8L1246.5 216.2L1246.9 216.5L1247.2 216.8L1247.6 217.1L1248.0 217.3L1248.4 217.6L1248.8 217.8L1249.1 217.9L1249.5 218.0L1249.9 218.0L1250.3 218.0L1250.7 218.0L1251.0 218.2L1251.4 218.4L1251.8 218.8L1252.2 219.1L1252.6 219.5L1252.9 219.9L1253.3 220.3L1253.7 220.8L1254.1 221.3L1254.5 221.8L1254.8 222.3L1255.2 222.8L1255.6 223.2L1256.0 223.7L1256.4 224.1L1256.7 224.5L1257.1 224.8L1257.5 225.0L1257.9 225.1L1258.3 225.2L1258.6 225.2L1259.0 225.1L1259.4 224.9L1259.8 224.7L1260.2 224.5L1260.5 224.2L1260.9 223.9L1261.3 223.7L1261.7 223.4L1262.1 223.2L1262.4 223.0L1262.8 222.8L1263.2 222.5L1263.6 222.2L1264.0 221.9L1264.3 221.6L1264.7 221.1L1265.1 220.5L1265.5 220.0L1265.9 219.4L1266.3 218.9L1266.6 218.3L1267.0 217.9L1267.4 217.4L1267.8 217.0L1268.2 216.7L1268.5 216.3L1268.9 216.0L1269.3 215.7L1269.7 215.5L1270.1 215.3L1270.4 215.2L1270.8 215.1L1271.2 215.1L1271.6 215.2L1272.0 215.4L1272.3 215.6L1272.7 215.9L1273.1 216.2L1273.5 216.6L1273.9 217.0L1274.2 217.4L1274.6 217.8L1275.0 218.1L1275.4 218.5L1275.8 218.9L1276.1 219.3L1276.5 219.8L1276.9 220.4L1277.3 221.0L1277.7 221.7L1278.0 222.5L1278.4 223.3L1278.8 224.0L1279.2 224.7L1279.6 225.4L1279.9 226.0L1280.3 226.6L1280.7 227.0L1281.1 227.4L1281.5 227.6L1281.8 227.8L1282.2 227.9L1282.6 228.0L1283.0 228.0L1283.4 228.1L1283.7 228.0L1284.1 227.8L1284.5 227.5L1284.9 227.1L1285.3 226.8L1285.6 226.5L1286.0 226.1L1286.4 225.8L1286.8 225.5L1287.2 225.2L1287.5 224.9L1287.9 224.6L1288.3 224.4L1288.7 224.2L1289.1 224.0L1289.4 223.9L1289.8 223.9L1290.2 223.9L1290.6 223.8L1291.0 223.7L1291.4 223.6L1291.7 223.5L1292.1 223.5L1292.5 223.7L1292.9 224.0L1293.3 224.3L1293.6 224.7L1294.0 225.0L1294.4 225.3L1294.8 225.6L1295.2 225.9L1295.5 226.3L1295.9 226.6L1296.3 227.0L1296.7 227.3L1297.1 227.5L1297.4 227.7L1297.8 228.0L1298.2 228.4L1298.6 228.8L1299.0 229.3L1299.3 229.7L1299.7 230.0L1300.1 230.2L1300.5 230.3L1300.9 230.3L1301.2 230.3L1301.6 230.4L1302.0 230.5L1302.4 230.8L1302.8 231.0L1303.1 231.3L1303.5 231.6L1303.9 231.7L1304.3 231.8L1304.7 231.8L1305.0 231.8L1305.4 231.8L1305.8 231.8L1306.2 231.8L1306.6 231.8L1306.9 231.7L1307.3 231.7L1307.7 231.7L1308.1 231.7L1308.5 231.7L1308.8 231.7L1309.2 231.6L1309.6 231.4L1310.0 231.1L1310.4 230.7L1310.7 230.3L1311.1 230.0L1311.5 229.8L1311.9 229.5L1312.3 229.3L1312.6 229.0L1313.0 228.7L1313.4 228.3L1313.8 227.9L1314.2 227.6L1314.5 227.3L1314.9 227.1L1315.3 226.9L1315.7 226.7L1316.1 226.5L1316.5 226.2L1316.8 225.9L1317.2 225.5L1317.6 225.2L1318.0 224.8L1318.4 224.5L1318.7 224.2L1319.1 223.9L1319.5 223.7L1319.9 223.5L1320.3 223.2L1320.6 223.0L1321.0 222.7L1321.4 222.4L1321.8 222.1L1322.2 221.8L1322.5 221.5L1322.9 221.1L1323.3 220.7L1323.7 220.3L1324.1 219.8L1324.4 219.3L1324.8 218.8L1325.2 218.2L1325.6 217.6L1326.0 216.9L1326.3 216.0L1326.7 215.0L1327.1 213.9L1327.5 212.7L1327.9 211.5L1328.2 210.4L1328.6 209.3L1329.0 208.2L1329.4 207.1L1329.8 206.0L1330.1 204.8L1330.5 203.5L1330.9 202.2L1331.3 200.9L1331.7 199.6L1332.0 198.4L1332.4 197.2L1332.8 196.1L1333.2 195.0L1333.6 194.0L1333.9 193.0L1334.3 191.9L1334.7 190.8L1335.1 189.7L1335.5 188.6L1335.8 187.5L1336.2 186.4L1336.6 185.4L1337.0 184.3L1337.4 183.4L1337.7 182.6L1338.1 181.9L1338.5 181.3L1338.9 180.8L1339.3 180.3L1339.6 179.8L1340.0 179.3L1340.4 178.7L1340.8 178.2L1341.2 177.8L1341.6 177.6L1341.9 177.5L1342.3 177.5L1342.7 177.5L1343.1 177.5L1343.5 177.6L1343.8 177.5L1344.2 177.4L1344.6 177.3L1345.0 177.2L1345.4 177.3L1345.7 177.4L1346.1 177.6L1346.5 177.8L1346.9 178.0L1347.3 178.1L1347.6 178.2L1348.0 178.3L1348.4 178.4L1348.8 178.4L1349.2 178.4L1349.5 178.5L1349.9 178.7L1350.3 178.9L1350.7 179.2L1351.1 179.5L1351.4 179.9L1351.8 180.2L1352.2 180.4L1352.6 180.5L1353.0 180.4L1353.3 180.2L1353.7 180.0L1354.1 179.7L1354.5 179.4L1354.9 179.2L1355.2 178.9L1355.6 178.7L1356.0 178.6L1356.4 178.4L1356.8 178.1L1357.1 177.8L1357.5 177.4L1357.9 177.0L1358.3 176.7L1358.7 176.5L1359.0 176.4L1359.4 176.4L1359.8 176.4L1360.2 176.5L1360.6 176.6L1360.9 176.5L1361.3 176.4L1361.7 176.3L1362.1 176.2L1362.5 176.1L1362.8 176.0L1363.2 176.0L1363.6 176.0L1364.0 176.2L1364.4 176.4L1364.7 176.7L1365.1 177.0L1365.5 177.3L1365.9 177.6L1366.3 177.9L1366.7 178.2L1367.0 178.5L1367.4 178.9L1367.8 179.4L1368.2 180.1L1368.6 180.7L1368.9 181.3L1369.3 181.7L1369.7 182.1L1370.1 182.5L1370.5 182.8L1370.8 183.2L1371.2 183.7L1371.6 184.2L1372.0 184.8L1372.4 185.5L1372.7 186.2L1373.1 186.9L1373.5 187.4L1373.9 187.9L1374.3 188.4L1374.6 188.9L1375.0 189.3L1375.4 189.8L1375.8 190.2L1376.2 190.6L1376.5 191.1L1376.9 191.5L1377.3 191.8L1377.7 192.2L1378.1 192.6L1378.4 193.0L1378.8 193.3L1379.2 193.5L1379.6 193.6L1380.0 193.7L1380.3 193.9L1380.7 194.2L1381.1 194.6L1381.5 194.9L1381.9 195.3L1382.2 195.6L1382.6 195.8L1383.0 196.0L1383.4 196.2L1383.8 196.3L1384.1 196.2L1384.5 196.1L1384.9 196.0L1385.3 195.9L1385.7 195.9L1386.0 196.0L1386.4 196.0L1386.8 196.1L1387.2 196.1L1387.6 196.0L1387.9 195.8L1388.3 195.6L1388.7 195.3L1389.1 195.0L1389.5 194.7L1389.8 194.3L1390.2 193.9L1390.6 193.5L1391.0 193.0L1391.4 192.5L1391.8 192.1L1392.1 191.6L1392.5 191.1L1392.9 190.5L1393.3 190.0L1393.7 189.4L1394.0 188.7L1394.4 188.0L1394.8 187.2L1395.2 186.3L1395.6 185.4L1395.9 184.6L1396.3 184.0L1396.7 183.3L1397.1 182.6L1397.5 181.9L1397.8 181.2L1398.2 180.5L1398.6 179.8L1399.0 179.2L1399.4 178.6L1399.7 178.0L1400.1 177.5L1400.5 176.9L1400.9 176.4L1401.3 175.9L1401.6 175.4L1402.0 174.9L1402.4 174.5L1402.8 174.1L1403.2 173.7L1403.5 173.4L1403.9 173.1L1404.3 172.8L1404.7 172.5L1405.1 172.3L1405.4 172.0L1405.8 171.9L1406.2 171.7L1406.6 171.5L1407.0 171.3L1407.3 171.1L1407.7 171.0L1408.1 170.8L1408.5 170.8L1408.9 170.7L1409.2 170.7L1409.6 170.7L1410.0 170.7L1410.4 170.7L1410.8 170.8L1411.1 171.0L1411.5 171.2L1411.9 171.4L1412.3 171.7L1412.7 171.9L1413.0 172.0L1413.4 172.1L1413.8 172.1L1414.2 172.1L1414.6 172.1L1414.9 172.0L1415.3 171.9L1415.7 171.8L1416.1 171.7L1416.5 171.5L1416.9 171.3L1417.2 171.2L1417.6 171.0L1418.0 170.9L1418.4 170.8L1418.8 170.5L1419.1 170.2L1419.5 169.8L1419.9 169.4L1420.3 168.9L1420.7 168.5L1421.0 168.0L1421.4 167.5L1421.8 167.1L1422.2 166.6L1422.6 166.1L1422.9 165.7L1423.3 165.2L1423.7 164.7L1424.1 164.2L1424.5 163.8L1424.8 163.4L1425.2 163.0L1425.6 162.6L1426.0 162.2L1426.4 161.9L1426.7 161.7L1427.1 161.4L1427.5 161.3L1427.9 161.1L1428.3 161.0L1428.6 160.9L1429.0 160.7L1429.4 160.6L1429.8 160.4L1430.2 160.4L1430.5 160.4L1430.9 160.3L1431.3 160.3L1431.7 160.2L1432.1 160.2L1432.4 160.2L1432.8 160.2L1433.2 160.3L1433.6 160.3L1434.0 160.4L1434.3 160.5L1434.7 160.6L1435.1 160.7L1435.5 160.8L1435.9 161.0L1436.2 161.2L1436.6 161.4L1437.0 161.6L1437.4 161.9L1437.8 162.1L1438.1 162.4L1438.5 162.6L1438.9 162.8L1439.3 162.9L1439.7 162.9L1440.0 163.0L1440.4 163.1L1440.8 163.2L1441.2 163.4L1441.6 163.7L1442.0 163.9L1442.3 164.1L1442.7 164.3L1443.1 164.5L1443.5 164.7L1443.9 164.8L1444.2 164.9L1444.6 164.9L1445.0 164.9L1445.4 164.9L1445.8 164.9L1446.1 164.8L1446.5 164.8L1446.9 164.8L1447.3 164.9L1447.7 164.9L1448.0 165.0L1448.4 165.2L1448.8 165.2L1449.2 165.2L1449.6 165.1L1449.9 164.9L1450.3 164.6L1450.7 164.4L1451.1 164.0L1451.5 163.7L1451.8 163.4L1452.2 163.0L1452.6 162.7L1453.0 162.3L1453.4 162.0L1453.7 161.8L1454.1 161.7L1454.5 161.8L1454.9 161.8L1455.3 161.9L1455.6 162.1L1456.0 162.3L1456.4 162.6L1456.8 162.9L1457.2 163.3L1457.5 163.5L1457.9 163.7L1458.3 163.9L1458.7 164.0L1459.1 164.1L1459.4 164.1L1459.8 164.1L1460.2 164.0L1460.6 163.9L1461.0 163.9L1461.3 163.9L1461.7 164.0L1462.1 164.2L1462.5 164.4L1462.9 164.8L1463.2 165.2L1463.6 165.7L1464.0 166.2L1464.4 166.8L1464.8 167.4L1465.1 167.9L1465.5 168.3L1465.9 168.7L1466.3 169.1L1466.7 169.5L1467.0 169.9L1467.4 170.3L1467.8 170.7L1468.2 171.0L1468.6 171.5L1469.0 172.0L1469.3 172.7L1469.7 173.4L1470.1 174.1L1470.5 174.9L1470.9 175.7L1471.2 176.5L1471.6 177.4L1472.0 178.2L1472.4 179.0L1472.8 179.9L1473.1 180.8L1473.5 181.7L1473.9 182.6L1474.3 183.3L1474.7 184.0L1475.0 184.6L1475.4 185.1L1475.8 185.5L1476.2 185.9L1476.6 186.3L1476.9 186.8L1477.3 187.2L1477.7 187.5L1478.1 187.8L1478.5 188.1L1478.8 188.5L1479.2 188.7L1479.6 189.0L1480.0 189.3L1480.4 189.5L1480.7 189.6L1481.1 189.7L1481.5 189.7L1481.9 189.6L1482.3 189.5L1482.6 189.4L1483.0 189.5L1483.4 189.6L1483.8 189.7L1484.2 189.8L1484.5 189.9L1484.9 189.9L1485.3 189.8L1485.7 189.8L1486.1 189.8L1486.4 189.7L1486.8 189.7L1487.2 189.7L1487.6 189.7L1488.0 189.7L1488.3 189.7L1488.7 189.7L1489.1 189.7L1489.5 189.7L1489.9 189.5L1490.2 189.3L1490.6 188.9L1491.0 188.6L1491.4 188.3L1491.8 188.0L1492.1 187.7L1492.5 187.5L1492.9 187.3L1493.3 187.2L1493.7 187.1L1494.1 187.0L1494.4 186.9L1494.8 186.9L1495.2 186.8L1495.6 186.8L1496.0 186.8L1496.3 186.9L1496.7 187.0L1497.1 187.2L1497.5 187.7L1497.9 188.3L1498.2 189.0L1498.6 189.9L1498.9 191.1" fill="none" stroke="#7e7e90" stroke-width="1" stroke-dasharray="2.5 1.5"/>
<path d="M180.5 818.2L180.9 818.1L181.3 818.0L181.6 818.3L182.0 818.2L182.4 817.8L182.8 818.3L183.2 818.2L183.5 817.8L183.9 818.0L184.3 818.1L184.7 818.0L185.1 818.0L185.4 818.2L185.8 818.2L186.2 817.9L186.6 818.0L187.0 818.0L187.3 817.9L187.7 818.0L188.1 817.8L188.5 818.2L188.9 818.0L189.2 818.1L189.6 818.1L190.0 818.0L190.4 818.2L190.8 817.9L191.1 817.9L191.5 818.2L191.9 818.1L192.3 818.2L192.7 818.3L193.0 817.9L193.4 818.1L193.8 818.2L194.2 818.0L194.6 818.2L195.0 817.8L195.3 818.2L195.7 818.3L196.1 818.2L196.5 818.1L196.9 818.1L197.2 817.8L197.6 818.0L198.0 818.1L198.4 818.3L198.8 818.2L199.1 817.8L199.5 818.1L199.9 818.0L200.3 819.1L200.7 819.1L201.0 818.7L201.4 818.8L201.8 818.9L202.2 818.9L202.6 819.1L202.9 819.0L203.3 819.1L203.7 818.7L204.1 818.9L204.5 819.0L204.8 818.7L205.2 819.0L205.6 819.1L206.0 818.8L206.4 818.7L206.7 819.1L207.1 818.7L207.5 819.0L207.9 819.1L208.3 819.1L208.6 819.0L209.0 818.7L209.4 818.9L209.8 818.7L210.2 819.0L210.5 818.9L210.9 819.0L211.3 818.6L211.7 818.6L212.1 818.9L212.4 818.9L212.8 818.9L213.2 818.7L213.6 819.1L214.0 819.1L214.3 818.9L214.7 819.0L215.1 818.7L215.5 818.7L215.9 818.8L216.2 818.8L216.6 818.8L217.0 818.7L217.4 818.6L217.8 819.0L218.1 818.8L218.5 819.0L218.9 818.9L219.3 818.7L219.7 818.7L220.1 818.7L220.4 819.1L220.8 818.9L221.2 819.0L221.6 818.6L222.0 819.0L222.3 819.0L222.7 818.9L223.1 819.1L223.5 818.7L223.9 818.8L224.2 819.0L224.6 818.9L225.0 819.1L225.4 818.8L225.8 819.0L226.1 819.1L226.5 819.0L226.9 818.8L227.3 818.8L227.7 818.9L228.0 818.8L228.4 818.9L228.8 819.0L229.2 818.9L229.6 818.9L229.9 818.6L230.3 819.0L230.7 819.1L231.1 818.8L231.5 818.6L231.8 818.6L232.2 818.7L232.6 819.1L233.0 818.7L233.4 818.8L233.7 819.0L234.1 818.9L234.5 819.1L234.9 818.7L235.3 818.7L235.6 818.7L236.0 818.7L236.4 819.0L236.8 818.7L237.2 819.0L237.5 819.0L237.9 818.9L238.3 818.9L238.7 819.0L239.1 818.8L239.4 818.8L239.8 819.0L240.2 818.8L240.6 818.9L241.0 818.7L241.3 819.0L241.7 818.7L242.1 818.9L242.5 818.8L242.9 818.8L243.2 818.8L243.6 819.0L244.0 818.6L244.4 819.1L244.8 818.9L245.2 818.8L245.5 819.1L245.9 819.0L246.3 818.7L246.7 818.7L247.1 818.8L247.4 818.6L247.8 818.7L248.2 819.0L248.6 818.8L249.0 818.9L249.3 818.7L249.7 818.9L250.1 819.0L250.5 818.7L250.9 818.8L251.2 818.7L251.6 818.8L252.0 818.7L252.4 818.9L252.8 818.8L253.1 819.1L253.5 818.8L253.9 818.7L254.3 818.7L254.7 818.7L255.0 818.9L255.4 818.7L255.8 819.0L256.2 818.7L256.6 818.9L256.9 819.1L257.3 818.8L257.7 818.9L258.1 818.9L258.5 818.7L258.8 819.0L259.2 818.8L259.6 818.9L260.0 818.8L260.4 818.9L260.7 819.0L261.1 818.8L261.5 818.7L261.9 819.0L262.3 819.1L262.6 819.1L263.0 818.9L263.4 818.6L263.8 819.1L264.2 818.6L264.5 818.8L264.9 819.0L265.3 818.9L265.7 819.0L266.1 818.7L266.4 818.8L266.8 819.0L267.2 819.0L267.6 818.7L268.0 818.7L268.3 818.9L268.7 818.9L269.1 818.7L269.5 818.6L269.9 819.1L270.3 819.0L270.6 818.9L271.0 818.8L271.4 819.1L271.8 819.1L272.2 819.0L272.5 818.9L272.9 818.7L273.3 818.8L273.7 819.1L274.1 819.1L274.4 818.9L274.8 818.7L275.2 818.6L275.6 818.9L276.0 818.7L276.3 818.6L276.7 818.9L277.1 818.7L277.5 818.9L277.9 819.0L278.2 818.8L278.6 819.1L279.0 818.8L279.4 818.7L279.8 818.6L280.1 818.9L280.5 819.0L280.9 818.6L281.3 818.7L281.7 818.6L282.0 818.8L282.4 818.8L282.8 818.9L283.2 819.0L283.6 819.0L283.9 818.7L284.3 818.9L284.7 818.8L285.1 818.8L285.5 818.9L285.8 818.6L286.2 819.0L286.6 818.9L287.0 819.0L287.4 818.6L287.7 818.9L288.1 818.9L288.5 819.0L288.9 818.8L289.3 818.9L289.6 819.0L290.0 819.1L290.4 818.9L290.8 818.8L291.2 818.8L291.5 818.6L291.9 818.6L292.3 818.6L292.7 818.7L293.1 818.9L293.4 818.8L293.8 818.9L294.2 818.9L294.6 819.1L295.0 818.7L295.4 819.0L295.7 819.1L296.1 818.9L296.5 818.7L296.9 818.9L297.3 818.9L297.6 818.8L298.0 819.0L298.4 819.1L298.8 818.8L299.2 818.8L299.5 818.7L299.9 818.9L300.3 818.7L300.7 819.1L301.1 819.1L301.4 818.8L301.8 819.0L302.2 819.1L302.6 819.0L303.0 818.9L303.3 818.9L303.7 818.8L304.1 818.7L304.5 818.9L304.9 819.0L305.2 818.8L305.6 819.1L306.0 818.9L306.4 818.9L306.8 818.9L307.1 819.1L307.5 818.8L307.9 818.8L308.3 818.7L308.7 818.6L309.0 818.9L309.4 818.8L309.8 818.9L310.2 819.0L310.6 818.7L310.9 818.7L311.3 818.6L311.7 818.7L312.1 818.6L312.5 819.0L312.8 819.1L313.2 819.0L313.6 818.9L314.0 818.8L314.4 818.9L314.7 818.8L315.1 818.7L315.5 819.1L315.9 818.8L316.3 819.1L316.6 819.0L317.0 818.7L317.4 818.8L317.8 818.9L318.2 819.0L318.5 818.7L318.9 819.0L319.3 819.1L319.7 819.0L320.1 819.1L320.5 818.7L320.8 819.0L321.2 818.6L321.6 819.0L322.0 818.9L322.4 818.8L322.7 818.9L323.1 818.9L323.5 819.0L323.9 818.9L324.3 819.1L324.6 819.0L325.0 818.6L325.4 819.0L325.8 819.0L326.2 818.8L326.5 818.7L326.9 819.0L327.3 818.9L327.7 818.7L328.1 818.7L328.4 818.8L328.8 819.0L329.2 819.0L329.6 818.7L330.0 818.7L330.3 818.7L330.7 818.7L331.1 818.9L331.5 819.0L331.9 818.7L332.2 818.8L332.6 818.8L333.0 818.8L333.4 818.9L333.8 818.9L334.1 818.8L334.5 818.9L334.9 818.7L335.3 818.6L335.7 818.7L336.0 818.9L336.4 818.9L336.8 818.6L337.2 818.9L337.6 818.7L337.9 819.1L338.3 818.9L338.7 818.8L339.1 818.7L339.5 818.7L339.8 819.0L340.2 818.8L340.6 818.8L341.0 819.0L341.4 818.7L341.7 818.8L342.1 818.6L342.5 819.0L342.9 818.8L343.3 818.9L343.6 818.8L344.0 818.8L344.4 818.8L344.8 818.9L345.2 818.8L345.6 818.9L345.9 818.7L346.3 818.9L346.7 818.9L347.1 819.0L347.5 819.0L347.8 818.6L348.2 818.9L348.6 818.7L349.0 818.8L349.4 818.6L349.7 819.0L350.1 818.6L350.5 818.7L350.9 818.8L351.3 818.7L351.6 818.7L352.0 818.9L352.4 818.8L352.8 819.0L353.2 819.1L353.5 818.8L353.9 818.9L354.3 818.6L354.7 819.0L355.1 818.7L355.4 818.6L355.8 818.7L356.2 818.6L356.6 819.0L357.0 819.0L357.3 819.0L357.7 818.9L358.1 819.0L358.5 819.0L358.9 819.1L359.2 818.6L359.6 818.9L360.0 818.8L360.4 818.9L360.8 818.7L361.1 818.7L361.5 818.9L361.9 818.8L362.3 819.1L362.7 819.0L363.0 819.0L363.4 818.9L363.8 818.9L364.2 818.8L364.6 818.9L364.9 818.9L365.3 818.7L365.7 819.1L366.1 816.5L366.5 819.1L366.8 818.7L367.2 818.8L367.6 818.7L368.0 818.6L368.4 819.0L368.7 818.6L369.1 819.0L369.5 818.8L369.9 818.8L370.3 818.7L370.7 819.0L371.0 818.9L371.4 819.1L371.8 819.0L372.2 818.6L372.6 818.6L372.9 818.8L373.3 818.7L373.7 818.6L374.1 818.9L374.5 818.6L374.8 818.9L375.2 819.0L375.6 818.8L376.0 818.8L376.4 818.8L376.7 818.8L377.1 819.1L377.5 818.8L377.9 818.6L378.3 818.8L378.6 818.6L379.0 818.8L379.4 818.7L379.8 819.0L380.2 818.7L380.5 818.9L380.9 818.7L381.3 818.9L381.7 818.8L382.1 818.7L382.4 818.7L382.8 818.8L383.2 818.6L383.6 819.1L384.0 819.0L384.3 818.8L384.7 818.6L385.1 818.8L385.5 818.9L385.9 819.0L386.2 818.9L386.6 818.9L387.0 818.9L387.4 818.8L387.8 819.0L388.1 818.7L388.5 819.0L388.9 819.0L389.3 818.9L389.7 818.6L390.0 819.0L390.4 819.0L390.8 818.6L391.2 818.9L391.6 818.7L391.9 819.1L392.3 818.7L392.7 819.0L393.1 819.0L393.5 818.7L393.8 818.6L394.2 818.6L394.6 818.7L395.0 818.6L395.4 818.6L395.7 818.8L396.1 819.0L396.5 818.7L396.9 818.9L397.3 818.9L397.7 818.8L398.0 819.1L398.4 819.1L398.8 819.0L399.2 818.8L399.6 818.7L399.9 818.6L400.3 818.7L400.7 818.6L401.1 818.8L401.5 818.7L401.8 818.8L402.2 819.1L402.6 819.1L403.0 818.7L403.4 819.0L403.7 818.7L404.1 818.9L404.5 819.1L404.9 818.8L405.3 818.9L405.6 819.1L406.0 819.0L406.4 818.9L406.8 818.9L407.2 818.7L407.5 819.0L407.9 818.9L408.3 818.8L408.7 818.6L409.1 819.0L409.4 819.1L409.8 819.0L410.2 819.0L410.6 819.0L411.0 819.1L411.3 819.0L411.7 819.0L412.1 818.9L412.5 818.8L412.9 818.9L413.2 819.0L413.6 819.1L414.0 819.0L414.4 819.0L414.8 818.9L415.1 818.7L415.5 818.7L415.9 819.0L416.3 819.1L416.7 819.1L417.0 818.9L417.4 818.9L417.8 818.8L418.2 819.1L418.6 819.0L418.9 818.8L419.3 818.8L419.7 818.8L420.1 818.6L420.5 819.0L420.8 819.0L421.2 818.8L421.6 818.8L422.0 818.6L422.4 818.6L422.8 818.8L423.1 818.7L423.5 818.8L423.9 819.0L424.3 818.8L424.7 818.9L425.0 818.9L425.4 819.0L425.8 819.1L426.2 818.7L426.6 818.7L426.9 818.7L427.3 819.0L427.7 818.9L428.1 819.0L428.5 818.8L428.8 818.7L429.2 818.7L429.6 818.6L430.0 819.0L430.4 818.7L430.7 819.0L431.1 818.8L431.5 819.0L431.9 818.8L432.3 818.8L432.6 818.9L433.0 818.9L433.4 818.7L433.8 818.9L434.2 818.9L434.5 819.0L434.9 819.0L435.3 818.7L435.7 818.6L436.1 818.9L436.4 818.7L436.8 818.7L437.2 819.0L437.6 819.0L438.0 818.8L438.3 818.9L438.7 818.6L439.1 818.9L439.5 818.7L439.9 818.7L440.2 819.0L440.6 818.7L441.0 818.9L441.4 819.0L441.8 819.1L442.1 818.9L442.5 818.8L442.9 819.0L443.3 818.7L443.7 819.0L444.0 818.7L444.4 819.1L444.8 819.0L445.2 819.0L445.6 818.9L445.9 818.9L446.3 818.9L446.7 818.7L447.1 818.8L447.5 818.8L447.9 818.9L448.2 818.7L448.6 818.8L449.0 818.7L449.4 818.6L449.8 818.8L450.1 818.9L450.5 819.0L450.9 818.6L451.3 818.7L451.7 818.7L452.0 819.0L452.4 818.9L452.8 818.7L453.2 819.0L453.6 818.7L453.9 818.8L454.3 819.0L454.7 818.9L455.1 819.1L455.5 818.8L455.8 818.7L456.2 819.1L456.6 818.9L457.0 818.7L457.4 819.0L457.7 818.8L458.1 818.7L458.5 818.8L458.9 819.0L459.3 818.6L459.6 818.7L460.0 818.8L460.4 818.9L460.8 818.8L461.2 818.9L461.5 819.0L461.9 819.0L462.3 819.1L462.7 819.0L463.1 819.0L463.4 818.8L463.8 818.8L464.2 818.8L464.6 818.7L465.0 819.1L465.3 818.9L465.7 819.1L466.1 818.9L466.5 819.1L466.9 819.1L467.2 819.0L467.6 818.9L468.0 818.7L468.4 819.0L468.8 818.7L469.1 819.0L469.5 819.0L469.9 816.5L470.3 819.1L470.7 818.9L471.0 818.8L471.4 818.7L471.8 819.1L472.2 818.7L472.6 818.8L473.0 818.8L473.3 819.1L473.7 818.7L474.1 819.0L474.5 818.8L474.9 818.8L475.2 818.6L475.6 818.8L476.0 818.6L476.4 819.0L476.8 818.8L477.1 818.8L477.5 818.8L477.9 818.8L478.3 818.8L478.7 818.9L479.0 818.8L479.4 819.1L479.8 818.9L480.2 818.9L480.6 819.0L480.9 818.8L481.3 818.8L481.7 819.0L482.1 819.0L482.5 819.1L482.8 818.8L483.2 819.1L483.6 819.0L484.0 818.9L484.4 818.9L484.7 819.1L485.1 818.6L485.5 819.0L485.9 818.8L486.3 819.0L486.6 818.8L487.0 818.9L487.4 818.9L487.8 818.9L488.2 818.8L488.5 818.8L488.9 818.8L489.3 819.0L489.7 819.1L490.1 819.0L490.4 818.9L490.8 818.8L491.2 818.9L491.6 818.9L492.0 819.1L492.3 818.8L492.7 819.0L493.1 818.8L493.5 818.8L493.9 818.8L494.2 819.0L494.6 818.9L495.0 818.6L495.4 819.1L495.8 818.8L496.1 818.9L496.5 818.8L496.9 818.9L497.3 819.0L497.7 818.8L498.1 819.1L498.4 818.7L498.8 818.7L499.2 818.9L499.6 818.8L500.0 818.8L500.3 818.6L500.7 819.1L501.1 819.0L501.5 818.9L501.9 818.7L502.2 818.7L502.6 818.9L503.0 819.1L503.4 818.8L503.8 818.9L504.1 819.0L504.5 818.8L504.9 818.9L505.3 818.9L505.7 819.0L506.0 818.8L506.4 819.0L506.8 818.9L507.2 818.6L507.6 818.9L507.9 819.0L508.3 818.8L508.7 818.6L509.1 818.7L509.5 818.8L509.8 818.7L510.2 818.7L510.6 818.8L511.0 818.9L511.4 819.0L511.7 818.7L512.1 818.8L512.5 818.6L512.9 818.9L513.3 818.7L513.6 819.0L514.0 818.6L514.4 818.6L514.8 819.1L515.2 818.9L515.5 818.6L515.9 818.6L516.3 818.8L516.7 819.0L517.1 819.1L517.4 819.0L517.8 818.6L518.2 818.7L518.6 818.9L519.0 818.7L519.3 818.6L519.7 819.0L520.1 818.7L520.5 819.0L520.9 818.9L521.2 819.1L521.6 819.0L522.0 818.8L522.4 819.1L522.8 818.8L523.2 819.0L523.5 818.7L523.9 819.0L524.3 819.0L524.7 819.0L525.1 818.8L525.4 818.7L525.8 818.7L526.2 818.7L526.6 818.8L527.0 818.8L527.3 818.9L527.7 819.0L528.1 818.6L528.5 818.8L528.9 819.1L529.2 819.0L529.6 818.8L530.0 756.2L530.4 818.3L530.8 819.3L531.1 818.6L531.5 819.3L531.9 819.3L532.3 819.3L532.7 819.0L533.0 819.4L533.4 819.1L533.8 819.2L534.2 818.9L534.6 818.7L534.9 818.1L535.3 818.8L535.7 818.3L536.1 818.9L536.5 818.3L536.8 819.0L537.2 818.7L537.6 818.8L538.0 818.5L538.4 818.0L538.7 818.1L539.1 815.4L539.5 819.3L539.9 818.8L540.3 818.8L540.6 818.4L541.0 818.3L541.4 819.3L541.8 817.8L542.2 818.2L542.5 818.8L542.9 817.7L543.3 815.5L543.7 818.8L544.1 818.9L544.4 816.4L544.8 818.9L545.2 818.6L545.6 818.4L546.0 819.1L546.3 818.9L546.7 819.1L547.1 819.0L547.5 819.0L547.9 818.6L548.3 819.0L548.6 819.0L549.0 819.3L549.4 819.0L549.8 819.4L550.2 819.3L550.5 819.2L550.9 819.2L551.3 819.2L551.7 818.7L552.1 819.0L552.4 819.0L552.8 818.9L553.2 819.3L553.6 819.3L554.0 819.0L554.3 818.7L554.7 818.8L555.1 818.8L555.5 817.6L555.9 819.3L556.2 819.4L556.6 814.7L557.0 817.6L557.4 819.3L557.8 819.1L558.1 819.3L558.5 817.7L558.9 817.3L559.3 819.1L559.7 817.6L560.0 818.0L560.4 818.4L560.8 819.0L561.2 819.0L561.6 819.3L561.9 819.1L562.3 818.8L562.7 818.9L563.1 819.2L563.5 819.1L563.8 819.4L564.2 818.9L564.6 817.8L565.0 818.4L565.4 818.7L565.7 819.0L566.1 818.9L566.5 819.2L566.9 818.5L567.3 819.3L567.6 817.7L568.0 819.0L568.4 818.7L568.8 767.2L569.2 819.0L569.5 819.3L569.9 819.2L570.3 818.6L570.7 819.0L571.1 818.5L571.4 819.4L571.8 817.6L572.2 818.6L572.6 819.1L573.0 818.9L573.3 818.8L573.7 818.5L574.1 819.3L574.5 819.0L574.9 815.0L575.3 819.4L575.6 818.9L576.0 817.3L576.4 819.2L576.8 818.7L577.2 818.2L577.5 818.7L577.9 818.3L578.3 818.7L578.7 819.1L579.1 819.1L579.4 817.3L579.8 819.0L580.2 819.4L580.6 818.7L581.0 819.1L581.3 819.1L581.7 818.8L582.1 818.3L582.5 819.4L582.9 819.3L583.2 816.3L583.6 818.4L584.0 818.1L584.4 818.8L584.8 819.1L585.1 818.9L585.5 818.8L585.9 818.4L586.3 819.1L586.7 819.2L587.0 818.5L587.4 818.1L587.8 817.8L588.2 818.3L588.6 818.0L588.9 818.6L589.3 819.3L589.7 818.4L590.1 750.0L590.5 817.5L590.8 819.4L591.2 814.6L591.6 819.2L592.0 819.0L592.4 818.4L592.7 819.3L593.1 819.1L593.5 819.3L593.9 819.2L594.3 819.1L594.6 819.4L595.0 819.1L595.4 819.4L595.8 819.0L596.2 818.0L596.5 818.9L596.9 819.2L597.3 819.3L597.7 819.3L598.1 819.1L598.4 817.1L598.8 819.3L599.2 818.7L599.6 818.9L600.0 819.0L600.4 818.9L600.7 818.8L601.1 819.4L601.5 819.2L601.9 819.4L602.3 819.2L602.6 819.2L603.0 817.5L603.4 817.8L603.8 817.7L604.2 819.1L604.5 819.1L604.9 817.4L605.3 819.3L605.7 816.7L606.1 817.9L606.4 818.5L606.8 818.5L607.2 818.3L607.6 819.3L608.0 818.5L608.3 818.2L608.7 812.5L609.1 819.3L609.5 819.2L609.9 818.6L610.2 818.9L610.6 816.5L611.0 819.1L611.4 818.3L611.8 814.8L612.1 819.4L612.5 819.1L612.9 812.5L613.3 818.8L613.7 819.1L614.0 815.6L614.4 819.3L614.8 818.0L615.2 817.8L615.6 819.2L615.9 819.0L616.3 819.3L616.7 819.0L617.1 818.6L617.5 819.3L617.8 819.3L618.2 818.7L618.6 815.0L619.0 819.1L619.4 818.9L619.7 819.3L620.1 817.7L620.5 817.3L620.9 819.2L621.3 818.5L621.6 815.6L622.0 819.3L622.4 819.0L622.8 819.4L623.2 818.6L623.5 818.2L623.9 819.2L624.3 819.2L624.7 819.2L625.1 818.1L625.5 819.2L625.8 818.9L626.2 818.9L626.6 819.1L627.0 818.6L627.4 819.1L627.7 818.8L628.1 819.2L628.5 817.2L628.9 818.9L629.3 818.6L629.6 818.9L630.0 818.3L630.4 818.5L630.8 819.4L631.2 818.7L631.5 819.4L631.9 818.6L632.3 818.4L632.7 818.7L633.1 819.1L633.4 819.1L633.8 818.7L634.2 818.8L634.6 819.3L635.0 819.2L635.3 819.2L635.7 818.2L636.1 819.2L636.5 819.0L636.9 819.3L637.2 819.1L637.6 819.3L638.0 818.9L638.4 814.5L638.8 819.1L639.1 819.3L639.5 817.2L639.9 817.9L640.3 819.2L640.7 818.4L641.0 819.0L641.4 819.3L641.8 819.2L642.2 819.4L642.6 818.2L642.9 818.4L643.3 819.1L643.7 818.9L644.1 819.2L644.5 819.3L644.8 818.8L645.2 818.6L645.6 818.8L646.0 819.2L646.4 817.9L646.7 818.1L647.1 819.1L647.5 818.5L647.9 818.1L648.3 817.8L648.6 819.2L649.0 818.7L649.4 819.3L649.8 818.3L650.2 819.1L650.6 819.3L650.9 819.2L651.3 818.1L651.7 819.4L652.1 812.2L652.5 818.9L652.8 819.2L653.2 818.2L653.6 819.4L654.0 818.2L654.4 819.1L654.7 819.3L655.1 816.2L655.5 799.0L655.9 817.7L656.3 819.2L656.6 819.0L657.0 819.3L657.4 818.7L657.8 819.0L658.2 819.0L658.5 818.7L658.9 819.1L659.3 819.1L659.7 819.4L660.1 818.5L660.4 819.2L660.8 819.0L661.2 819.2L661.6 813.5L662.0 818.7L662.3 819.3L662.7 807.2L663.1 818.5L663.5 819.0L663.9 818.9L664.2 818.4L664.6 818.6L665.0 817.5L665.4 819.4L665.8 819.3L666.1 819.1L666.5 819.3L666.9 819.2L667.3 819.4L667.7 819.1L668.0 819.2L668.4 817.8L668.8 819.2L669.2 819.1L669.6 819.1L669.9 818.7L670.3 817.7L670.7 818.2L671.1 819.2L671.5 819.3L671.8 819.0L672.2 819.0L672.6 819.0L673.0 819.4L673.4 819.3L673.7 818.5L674.1 819.0L674.5 819.3L674.9 818.4L675.3 818.2L675.7 818.5L676.0 815.1L676.4 818.8L676.8 817.7L677.2 817.8L677.6 819.4L677.9 818.8L678.3 817.2L678.7 819.3L679.1 819.3L679.5 811.0L679.8 818.9L680.2 819.3L680.6 818.1L681.0 819.4L681.4 817.9L681.7 818.6L682.1 812.2L682.5 819.1L682.9 819.0L683.3 818.9L683.6 818.7L684.0 818.9L684.4 819.0L684.8 817.7L685.2 819.2L685.5 818.7L685.9 819.3L686.3 818.9L686.7 817.7L687.1 819.0L687.4 818.7L687.8 819.3L688.2 818.1L688.6 818.5L689.0 819.3L689.3 812.5L689.7 818.9L690.1 818.8L690.5 819.4L690.9 819.4L691.2 819.3L691.6 819.2L692.0 819.2L692.4 819.3L692.8 818.6L693.1 819.2L693.5 819.4L693.9 819.2L694.3 818.9L694.7 818.1L695.0 817.9L695.4 818.4L695.8 817.4L696.2 818.3L696.6 819.2L696.9 819.1L697.3 819.3L697.7 818.5L698.1 818.8L698.5 818.5L698.8 818.4L699.2 819.2L699.6 819.1L700.0 819.2L700.4 819.4L700.8 819.1L701.1 818.4L701.5 818.7L701.9 819.4L702.3 818.3L702.7 819.1L703.0 818.6L703.4 819.1L703.8 819.2L704.2 818.5L704.6 819.2L704.9 818.8L705.3 819.4L705.7 819.0L706.1 818.4L706.5 819.0L706.8 818.4L707.2 819.0L707.6 819.0L708.0 817.8L708.4 819.4L708.7 818.3L709.1 819.3L709.5 819.3L709.9 819.0L710.3 818.5L710.6 817.6L711.0 818.3L711.4 817.8L711.8 818.9L712.2 818.3L712.5 818.8L712.9 817.8L713.3 818.3L713.7 819.3L714.1 819.2L714.4 819.3L714.8 819.4L715.2 819.3L715.6 818.5L716.0 819.4L716.3 817.6L716.7 813.0L717.1 819.1L717.5 818.6L717.9 819.4L718.2 817.9L718.6 819.2L719.0 819.1L719.4 818.5L719.8 818.9L720.1 818.7L720.5 818.8L720.9 818.9L721.3 816.7L721.7 819.1L722.0 818.9L722.4 819.3L722.8 818.6L723.2 819.4L723.6 819.4L723.9 817.9L724.3 819.0L724.7 818.4L725.1 818.5L725.5 818.9L725.9 819.0L726.2 818.9L726.6 817.8L727.0 815.0L727.4 819.2L727.8 819.2L728.1 819.0L728.5 818.7L728.9 818.6L729.3 818.4L729.7 819.4L730.0 818.3L730.4 813.1L730.8 818.6L731.2 818.5L731.6 819.2L731.9 819.1L732.3 819.3L732.7 819.3L733.1 818.8L733.5 819.0L733.8 819.4L734.2 819.3L734.6 818.8L735.0 819.0L735.4 819.1L735.7 818.3L736.1 819.2L736.5 819.3L736.9 819.2L737.3 819.1L737.6 819.2L738.0 818.5L738.4 819.0L738.8 818.5L739.2 819.1L739.5 819.3L739.9 819.1L740.3 819.4L740.7 819.3L741.1 818.4L741.4 818.6L741.8 819.1L742.2 819.3L742.6 819.1L743.0 819.3L743.3 818.7L743.7 819.4L744.1 818.6L744.5 819.3L744.9 816.3L745.2 817.4L745.6 817.8L746.0 818.6L746.4 818.6L746.8 819.0L747.1 817.2L747.5 819.0L747.9 817.9L748.3 816.9L748.7 818.2L749.0 819.3L749.4 817.4L749.8 817.4L750.2 818.8L750.6 818.7L751.0 819.1L751.3 818.8L751.7 818.5L752.1 817.7L752.5 817.5L752.9 819.3L753.2 818.9L753.6 818.0L754.0 819.0L754.4 819.2L754.8 817.8L755.1 818.9L755.5 819.3L755.9 819.1L756.3 818.3L756.7 819.0L757.0 819.3L757.4 819.3L757.8 819.4L758.2 818.6L758.6 818.5L758.9 818.2L759.3 819.2L759.7 818.1L760.1 819.0L760.5 819.2L760.8 818.2L761.2 819.0L761.6 818.7L762.0 819.0L762.4 818.4L762.7 819.2L763.1 817.8L763.5 818.6L763.9 819.0L764.3 819.1L764.6 817.9L765.0 815.6L765.4 817.9L765.8 818.3L766.2 818.8L766.5 819.1L766.9 819.1L767.3 818.4L767.7 818.9L768.1 333.4L768.4 817.1L768.8 818.7L769.2 814.9L769.6 818.9L770.0 817.3L770.3 818.2L770.7 817.1L771.1 803.8L771.5 818.4L771.9 818.7L772.2 817.4L772.6 816.1L773.0 818.9L773.4 808.9L773.8 817.0L774.1 818.8L774.5 818.0L774.9 819.1L775.3 818.5L775.7 817.9L776.0 818.9L776.4 818.6L776.8 818.7L777.2 819.1L777.6 818.2L778.0 817.6L778.3 818.8L778.7 818.6L779.1 814.6L779.5 812.5L779.9 816.7L780.2 818.0L780.6 819.3L781.0 818.6L781.4 816.3L781.8 818.5L782.1 817.7L782.5 818.2L782.9 818.2L783.3 819.2L783.7 819.1L784.0 817.6L784.4 819.0L784.8 819.0L785.2 818.8L785.6 818.9L785.9 818.3L786.3 819.3L786.7 819.2L787.1 818.3L787.5 802.5L787.8 818.3L788.2 817.9L788.6 818.9L789.0 818.3L789.4 818.7L789.7 819.1L790.1 818.3L790.5 817.5L790.9 818.4L791.3 818.8L791.6 819.2L792.0 819.3L792.4 814.6L792.8 818.8L793.2 810.0L793.5 818.2L793.9 819.3L794.3 818.2L794.7 816.7L795.1 817.5L795.4 807.5L795.8 818.4L796.2 816.4L796.6 819.3L797.0 781.2L797.3 808.0L797.7 818.5L798.1 818.5L798.5 817.7L798.9 817.6L799.2 818.9L799.6 818.4L800.0 819.0L800.4 819.0L800.8 818.9L801.1 819.3L801.5 816.2L801.9 817.7L802.3 817.5L802.7 817.3L803.1 818.7L803.4 819.3L803.8 819.2L804.2 813.8L804.6 818.9L805.0 819.2L805.3 818.2L805.7 819.3L806.1 819.0L806.5 818.0L806.9 817.7L807.2 818.5L807.6 819.2L808.0 817.8L808.4 819.1L808.8 818.3L809.1 818.5L809.5 817.9L809.9 801.2L810.3 819.1L810.7 817.8L811.0 819.3L811.4 818.2L811.8 818.2L812.2 818.4L812.6 819.2L812.9 817.0L813.3 817.8L813.7 818.6L814.1 817.7L814.5 816.0L814.8 819.0L815.2 815.7L815.6 819.0L816.0 819.3L816.4 819.3L816.7 819.3L817.1 818.9L817.5 819.1L817.9 819.1L818.3 818.9L818.6 810.7L819.0 818.3L819.4 817.9L819.8 818.8L820.2 818.9L820.5 818.1L820.9 818.2L821.3 807.0L821.7 819.1L822.1 813.0L822.4 818.6L822.8 818.8L823.2 814.3L823.6 819.1L824.0 818.4L824.3 819.0L824.7 817.9L825.1 818.7L825.5 818.9L825.9 818.4L826.2 817.4L826.6 814.6L827.0 816.8L827.4 819.0L827.8 816.1L828.2 819.0L828.5 818.9L828.9 818.7L829.3 813.5L829.7 818.4L830.1 817.6L830.4 817.7L830.8 819.1L831.2 818.3L831.6 817.9L832.0 818.6L832.3 818.9L832.7 818.7L833.1 819.1L833.5 818.4L833.9 819.3L834.2 817.5L834.6 818.9L835.0 819.0L835.4 818.4L835.8 819.3L836.1 819.0L836.5 818.6L836.9 818.5L837.3 818.2L837.7 817.4L838.0 819.2L838.4 819.2L838.8 814.3L839.2 817.9L839.6 817.9L839.9 817.3L840.3 816.5L840.7 819.2L841.1 806.9L841.5 817.2L841.8 818.9L842.2 816.3L842.6 819.0L843.0 818.0L843.4 817.1L843.7 818.0L844.1 818.0L844.5 818.7L844.9 819.2L845.3 819.0L845.6 819.0L846.0 768.5L846.4 819.2L846.8 818.9L847.2 818.9L847.5 818.0L847.9 819.0L848.3 819.2L848.7 819.1L849.1 818.7L849.4 819.0L849.8 817.1L850.2 819.0L850.6 818.8L851.0 816.8L851.3 814.2L851.7 817.0L852.1 819.2L852.5 818.9L852.9 818.1L853.3 819.0L853.6 819.3L854.0 817.9L854.4 814.6L854.8 818.6L855.2 811.2L855.5 819.3L855.9 818.7L856.3 817.0L856.7 819.1L857.1 818.4L857.4 817.8L857.8 817.9L858.2 818.8L858.6 817.7L859.0 818.0L859.3 819.1L859.7 818.1L860.1 818.5L860.5 817.8L860.9 819.1L861.2 819.0L861.6 819.0L862.0 818.1L862.4 818.6L862.8 817.5L863.1 819.0L863.5 819.2L863.9 819.2L864.3 816.5L864.7 819.2L865.0 810.1L865.4 817.3L865.8 808.4L866.2 818.1L866.6 815.8L866.9 808.4L867.3 817.8L867.7 819.0L868.1 818.9L868.5 818.9L868.8 818.7L869.2 434.1L869.6 819.2L870.0 817.5L870.4 818.0L870.7 818.3L871.1 817.0L871.5 817.6L871.9 819.3L872.3 816.7L872.6 811.0L873.0 816.5L873.4 819.1L873.8 818.8L874.2 818.3L874.5 818.7L874.9 818.0L875.3 819.2L875.7 818.7L876.1 816.9L876.4 818.9L876.8 817.6L877.2 819.0L877.6 812.8L878.0 817.1L878.4 819.1L878.7 818.3L879.1 819.0L879.5 819.0L879.9 814.4L880.3 818.7L880.6 816.6L881.0 812.0L881.4 818.4L881.8 818.9L882.2 818.5L882.5 819.3L882.9 819.1L883.3 818.0L883.7 816.2L884.1 801.6L884.4 817.2L884.8 818.4L885.2 817.7L885.6 818.8L886.0 819.2L886.3 816.4L886.7 819.0L887.1 818.9L887.5 816.6L887.9 819.2L888.2 818.6L888.6 819.1L889.0 819.2L889.4 817.4L889.8 817.9L890.1 817.9L890.5 814.5L890.9 817.7L891.3 819.1L891.7 818.2L892.0 818.9L892.4 819.0L892.8 819.0L893.2 811.0L893.6 818.5L893.9 818.6L894.3 818.7L894.7 819.2L895.1 819.1L895.5 819.3L895.8 818.0L896.2 819.0L896.6 818.5L897.0 819.3L897.4 818.5L897.7 818.0L898.1 804.0L898.5 818.9L898.9 819.2L899.3 819.2L899.6 819.1L900.0 819.1L900.4 819.3L900.8 819.1L901.2 817.6L901.5 818.6L901.9 813.8L902.3 819.0L902.7 819.2L903.1 818.5L903.5 818.8L903.8 818.5L904.2 819.2L904.6 818.8L905.0 818.6L905.4 817.1L905.7 818.9L906.1 818.6L906.5 818.5L906.9 812.5L907.3 818.7L907.6 818.3L908.0 818.9L908.4 819.2L908.8 817.9L909.2 819.3L909.5 819.2L909.9 817.7L910.3 818.7L910.7 817.0L911.1 817.9L911.4 818.6L911.8 819.0L912.2 819.3L912.6 818.9L913.0 818.5L913.3 818.5L913.7 818.3L914.1 813.3L914.5 819.0L914.9 819.2L915.2 815.9L915.6 817.4L916.0 818.2L916.4 819.3L916.8 818.2L917.1 818.8L917.5 819.0L917.9 814.8L918.3 816.0L918.7 818.9L919.0 819.0L919.4 818.1L919.8 818.8L920.2 816.1L920.6 819.1L920.9 818.4L921.3 819.0L921.7 818.3L922.1 818.6L922.5 801.9L922.8 816.5L923.2 818.2L923.6 818.5L924.0 818.1L924.4 818.8L924.7 818.8L925.1 817.3L925.5 818.4L925.9 818.4L926.3 818.7L926.6 819.1L927.0 818.1L927.4 819.1L927.8 816.3L928.2 819.1L928.6 818.7L928.9 818.3L929.3 818.6L929.7 818.9L930.1 818.7L930.5 817.7L930.8 818.4L931.2 812.5L931.6 818.7L932.0 818.7L932.4 818.3L932.7 819.2L933.1 819.0L933.5 817.6L933.9 819.1L934.3 819.3L934.6 808.8L935.0 818.5L935.4 817.5L935.8 815.4L936.2 819.0L936.5 818.1L936.9 815.0L937.3 819.3L937.7 818.5L938.1 818.6L938.4 819.0L938.8 818.8L939.2 818.9L939.6 818.7L940.0 815.8L940.3 818.5L940.7 818.9L941.1 818.4L941.5 158.2L941.9 819.1L942.2 813.7L942.6 818.9L943.0 818.3L943.4 818.5L943.8 817.9L944.1 818.9L944.5 809.9L944.9 813.8L945.3 818.6L945.7 819.3L946.0 817.8L946.4 817.3L946.8 819.0L947.2 819.0L947.6 817.5L947.9 818.8L948.3 817.8L948.7 818.9L949.1 816.1L949.5 818.2L949.8 818.9L950.2 819.2L950.6 818.5L951.0 818.8L951.4 818.3L951.7 817.9L952.1 816.6L952.5 801.0L952.9 818.7L953.3 817.8L953.6 819.2L954.0 818.1L954.4 819.2L954.8 818.9L955.2 817.3L955.6 810.0L955.9 815.0L956.3 818.0L956.7 818.0L957.1 818.9L957.5 818.7L957.8 818.2L958.2 818.8L958.6 818.3L959.0 819.2L959.4 819.0L959.7 819.3L960.1 818.5L960.5 819.3L960.9 819.2L961.3 819.2L961.6 818.9L962.0 818.3L962.4 816.2L962.8 818.8L963.2 818.5L963.5 818.9L963.9 819.2L964.3 817.5L964.7 818.9L965.1 819.0L965.4 810.6L965.8 815.9L966.2 817.3L966.6 818.9L967.0 819.1L967.3 815.3L967.7 813.8L968.1 818.5L968.5 817.2L968.9 818.5L969.2 817.4L969.6 817.9L970.0 818.4L970.4 819.0L970.8 819.2L971.1 818.5L971.5 817.9L971.9 818.6L972.3 818.3L972.7 817.6L973.0 818.9L973.4 818.5L973.8 818.8L974.2 817.8L974.6 816.2L974.9 802.1L975.3 818.6L975.7 818.8L976.1 817.5L976.5 818.5L976.8 818.9L977.2 817.9L977.6 819.2L978.0 819.2L978.4 809.7L978.7 818.2L979.1 804.4L979.5 819.1L979.9 818.9L980.3 817.9L980.7 817.8L981.0 817.3L981.4 814.0L981.8 819.3L982.2 818.3L982.6 818.6L982.9 819.0L983.3 819.3L983.7 819.2L984.1 811.5L984.5 817.9L984.8 807.2L985.2 818.4L985.6 816.8L986.0 818.0L986.4 816.0L986.7 818.6L987.1 816.6L987.5 819.2L987.9 819.2L988.3 819.2L988.6 819.3L989.0 818.0L989.4 819.1L989.8 819.2L990.2 815.3L990.5 809.1L990.9 818.0L991.3 818.5L991.7 819.0L992.1 819.2L992.4 818.5L992.8 818.3L993.2 815.2L993.6 819.2L994.0 818.4L994.3 818.7L994.7 819.2L995.1 811.0L995.5 816.1L995.9 819.1L996.2 818.8L996.6 818.7L997.0 817.8L997.4 818.3L997.8 818.8L998.1 817.7L998.5 818.7L998.9 810.6L999.3 818.8L999.7 818.9L1000.0 817.3L1000.4 819.2L1000.8 816.6L1001.2 814.0L1001.6 818.9L1001.9 818.2L1002.3 805.6L1002.7 818.9L1003.1 814.4L1003.5 819.1L1003.8 811.0L1004.2 817.8L1004.6 819.1L1005.0 817.9L1005.4 818.4L1005.8 818.9L1006.1 819.0L1006.5 818.9L1006.9 819.1L1007.3 816.1L1007.7 818.1L1008.0 818.6L1008.4 818.9L1008.8 817.4L1009.2 819.1L1009.6 817.4L1009.9 819.1L1010.3 818.8L1010.7 819.1L1011.1 817.7L1011.5 818.2L1011.8 818.3L1012.2 818.7L1012.6 818.4L1013.0 819.1L1013.4 817.8L1013.7 819.2L1014.1 818.3L1014.5 819.2L1014.9 819.2L1015.3 819.1L1015.6 818.3L1016.0 819.1L1016.4 819.1L1016.8 816.7L1017.2 819.1L1017.5 816.6L1017.9 819.2L1018.3 818.8L1018.7 818.2L1019.1 819.2L1019.4 819.0L1019.8 818.3L1020.2 817.8L1020.6 817.8L1021.0 819.2L1021.3 819.1L1021.7 818.4L1022.1 819.1L1022.5 816.5L1022.9 819.1L1023.2 810.2L1023.6 818.4L1024.0 819.1L1024.4 818.6L1024.8 819.1L1025.1 818.2L1025.5 819.1L1025.9 819.0L1026.3 818.7L1026.7 818.7L1027.0 818.7L1027.4 819.0L1027.8 818.5L1028.2 818.9L1028.6 817.9L1028.9 817.6L1029.3 818.3L1029.7 819.0L1030.1 815.0L1030.5 819.0L1030.9 818.8L1031.2 817.4L1031.6 819.1L1032.0 818.5L1032.4 818.3L1032.8 818.5L1033.1 811.9L1033.5 819.1L1033.9 819.0L1034.3 819.0L1034.7 818.7L1035.0 814.0L1035.4 816.6L1035.8 818.6L1036.2 819.3L1036.6 813.1L1036.9 816.2L1037.3 818.4L1037.7 818.0L1038.1 818.8L1038.5 816.7L1038.8 818.2L1039.2 818.5L1039.6 818.9L1040.0 818.0L1040.4 818.4L1040.7 819.1L1041.1 813.9L1041.5 818.1L1041.9 818.5L1042.3 818.1L1042.6 819.1L1043.0 819.2L1043.4 819.0L1043.8 819.1L1044.2 819.1L1044.5 818.3L1044.9 818.3L1045.3 819.1L1045.7 818.8L1046.1 817.5L1046.4 818.2L1046.8 819.0L1047.2 817.3L1047.6 817.8L1048.0 809.4L1048.3 816.5L1048.7 818.5L1049.1 818.6L1049.5 819.2L1049.9 817.1L1050.2 816.8L1050.6 819.0L1051.0 815.6L1051.4 792.2L1051.8 816.7L1052.1 817.5L1052.5 818.8L1052.9 819.3L1053.3 818.1L1053.7 816.8L1054.0 819.2L1054.4 819.3L1054.8 819.1L1055.2 811.9L1055.6 818.6L1056.0 819.0L1056.3 817.6L1056.7 815.7L1057.1 818.9L1057.5 819.2L1057.9 816.7L1058.2 818.9L1058.6 819.2L1059.0 817.1L1059.4 816.2L1059.8 819.0L1060.1 818.7L1060.5 818.1L1060.9 818.7L1061.3 809.4L1061.7 818.5L1062.0 812.6L1062.4 817.9L1062.8 818.6L1063.2 818.9L1063.6 818.5L1063.9 817.6L1064.3 816.9L1064.7 818.0L1065.1 815.1L1065.5 810.2L1065.8 815.4L1066.2 818.0L1066.6 819.0L1067.0 816.8L1067.4 817.8L1067.7 818.6L1068.1 808.1L1068.5 812.3L1068.9 819.3L1069.3 818.8L1069.6 818.0L1070.0 819.1L1070.4 815.8L1070.8 818.5L1071.2 817.5L1071.5 819.1L1071.9 818.5L1072.3 818.0L1072.7 819.2L1073.1 817.0L1073.4 819.2L1073.8 817.3L1074.2 819.0L1074.6 790.6L1075.0 817.0L1075.3 819.1L1075.7 818.6L1076.1 818.3L1076.5 816.9L1076.9 819.0L1077.2 818.6L1077.6 814.6L1078.0 818.9L1078.4 818.3L1078.8 818.6L1079.1 818.2L1079.5 817.8L1079.9 818.2L1080.3 818.0L1080.7 816.9L1081.1 819.2L1081.4 819.1L1081.8 818.6L1082.2 819.2L1082.6 818.5L1083.0 818.4L1083.3 818.5L1083.7 818.6L1084.1 817.5L1084.5 817.4L1084.9 819.3L1085.2 818.1L1085.6 818.9L1086.0 817.0L1086.4 811.3L1086.8 819.0L1087.1 818.8L1087.5 818.9L1087.9 817.5L1088.3 818.6L1088.7 817.8L1089.0 819.0L1089.4 816.8L1089.8 819.1L1090.2 818.5L1090.6 818.7L1090.9 818.8L1091.3 819.0L1091.7 818.6L1092.1 818.2L1092.5 817.9L1092.8 818.9L1093.2 818.8L1093.6 819.0L1094.0 818.8L1094.4 818.5L1094.7 806.9L1095.1 817.5L1095.5 817.2L1095.9 818.7L1096.3 819.2L1096.6 818.7L1097.0 817.2L1097.4 818.8L1097.8 817.9L1098.2 813.8L1098.5 819.2L1098.9 817.8L1099.3 818.3L1099.7 818.2L1100.1 819.0L1100.4 819.0L1100.8 818.3L1101.2 818.6L1101.6 809.2L1102.0 818.9L1102.3 810.8L1102.7 818.6L1103.1 819.1L1103.5 819.1L1103.9 817.1L1104.2 818.9L1104.6 819.0L1105.0 818.0L1105.4 818.4L1105.8 819.1L1106.2 816.5L1106.5 819.0L1106.9 813.0L1107.3 816.3L1107.7 819.2L1108.1 814.5L1108.4 819.0L1108.8 816.1L1109.2 816.6L1109.6 815.0L1110.0 818.3L1110.3 813.0L1110.7 819.2L1111.1 819.0L1111.5 817.9L1111.9 817.4L1112.2 819.2L1112.6 819.3L1113.0 818.9L1113.4 816.9L1113.8 819.2L1114.1 813.8L1114.5 817.4L1114.9 818.3L1115.3 818.1L1115.7 819.0L1116.0 818.5L1116.4 818.2L1116.8 818.8L1117.2 818.8L1117.6 819.1L1117.9 770.7L1118.3 817.6L1118.7 818.8L1119.1 818.8L1119.5 816.4L1119.8 819.3L1120.2 817.3L1120.6 819.0L1121.0 819.1L1121.4 815.9L1121.7 819.2L1122.1 816.2L1122.5 818.1L1122.9 818.6L1123.3 804.3L1123.6 819.1L1124.0 818.8L1124.4 819.3L1124.8 813.0L1125.2 818.8L1125.5 818.2L1125.9 818.0L1126.3 819.2L1126.7 819.1L1127.1 818.2L1127.4 815.6L1127.8 817.5L1128.2 819.2L1128.6 818.8L1129.0 817.2L1129.3 817.0L1129.7 817.2L1130.1 816.8L1130.5 819.1L1130.9 818.3L1131.3 818.9L1131.6 819.3L1132.0 819.1L1132.4 815.2L1132.8 818.9L1133.2 804.8L1133.5 818.3L1133.9 818.7L1134.3 818.9L1134.7 819.1L1135.1 819.3L1135.4 818.5L1135.8 801.8L1136.2 818.3L1136.6 816.7L1137.0 818.9L1137.3 814.6L1137.7 818.6L1138.1 818.8L1138.5 818.8L1138.9 817.1L1139.2 818.1L1139.6 818.5L1140.0 818.9L1140.4 819.2L1140.8 817.5L1141.1 818.6L1141.5 819.3L1141.9 818.9L1142.3 819.3L1142.7 819.2L1143.0 818.2L1143.4 813.3L1143.8 818.9L1144.2 817.7L1144.6 816.3L1144.9 817.5L1145.3 818.6L1145.7 818.5L1146.1 818.4L1146.5 818.7L1146.8 819.3L1147.2 818.9L1147.6 819.1L1148.0 816.1L1148.4 817.9L1148.7 816.9L1149.1 818.7L1149.5 819.2L1149.9 819.0L1150.3 818.4L1150.6 817.5L1151.0 819.0L1151.4 817.9L1151.8 813.8L1152.2 818.8L1152.5 818.6L1152.9 817.4L1153.3 818.4L1153.7 818.5L1154.1 818.5L1154.4 818.4L1154.8 819.1L1155.2 818.5L1155.6 818.9L1156.0 818.3L1156.3 819.0L1156.7 818.6L1157.1 817.9L1157.5 818.9L1157.9 818.8L1158.3 777.0L1158.6 818.7L1159.0 776.5L1159.4 818.3L1159.8 819.0L1160.2 776.3L1160.5 818.4L1160.9 819.0L1161.3 818.7L1161.7 819.3L1162.1 819.2L1162.4 799.5L1162.8 818.3L1163.2 817.8L1163.6 818.0L1164.0 814.1L1164.3 819.2L1164.7 819.1L1165.1 817.6L1165.5 816.6L1165.9 808.8L1166.2 818.5L1166.6 819.1L1167.0 808.7L1167.4 817.2L1167.8 819.1L1168.1 811.5L1168.5 818.5L1168.9 819.1L1169.3 811.4L1169.7 818.6L1170.0 818.3L1170.4 818.1L1170.8 818.5L1171.2 819.0L1171.6 818.3L1171.9 818.5L1172.3 818.7L1172.7 818.3L1173.1 818.8L1173.5 817.0L1173.8 819.0L1174.2 810.7L1174.6 810.0L1175.0 819.1L1175.4 817.1L1175.7 819.3L1176.1 809.0L1176.5 818.9L1176.9 819.3L1177.3 817.3L1177.6 819.3L1178.0 812.3L1178.4 819.2L1178.8 819.0L1179.2 818.6L1179.5 818.1L1179.9 818.3L1180.3 819.2L1180.7 817.5L1181.1 819.1L1181.4 819.0L1181.8 819.1L1182.2 817.4L1182.6 819.1L1183.0 818.2L1183.4 817.9L1183.7 817.9L1184.1 819.0L1184.5 818.7L1184.9 818.7L1185.3 819.0L1185.6 818.5L1186.0 818.7L1186.4 818.6L1186.8 816.5L1187.2 818.7L1187.5 818.3L1187.9 818.3L1188.3 818.2L1188.7 818.1L1189.1 816.3L1189.4 815.8L1189.8 818.9L1190.2 819.1L1190.6 818.9L1191.0 807.0L1191.3 817.7L1191.7 819.1L1192.1 816.9L1192.5 819.0L1192.9 818.0L1193.2 816.4L1193.6 817.1L1194.0 819.2L1194.4 816.6L1194.8 818.7L1195.1 819.0L1195.5 819.2L1195.9 819.1L1196.3 817.9L1196.7 818.9L1197.0 819.3L1197.4 818.6L1197.8 818.7L1198.2 817.0L1198.6 818.6L1198.9 812.3L1199.3 817.1L1199.7 818.9L1200.1 818.8L1200.5 817.1L1200.8 817.8L1201.2 817.0L1201.6 818.1L1202.0 819.2L1202.4 818.5L1202.7 819.2L1203.1 818.3L1203.5 812.1L1203.9 815.1L1204.3 818.2L1204.6 818.7L1205.0 817.9L1205.4 818.5L1205.8 818.2L1206.2 819.3L1206.5 819.0L1206.9 818.9L1207.3 806.9L1207.7 817.8L1208.1 818.8L1208.5 818.3L1208.8 808.2L1209.2 819.0L1209.6 818.8L1210.0 816.5L1210.4 817.7L1210.7 818.3L1211.1 819.1L1211.5 818.8L1211.9 818.1L1212.3 818.5L1212.6 810.0L1213.0 819.2L1213.4 818.9L1213.8 818.6L1214.2 819.2L1214.5 818.8L1214.9 818.3L1215.3 817.9L1215.7 817.3L1216.1 819.2L1216.4 819.1L1216.8 806.7L1217.2 819.1L1217.6 817.4L1218.0 818.7L1218.3 817.4L1218.7 819.2L1219.1 815.7L1219.5 818.9L1219.9 817.4L1220.2 814.0L1220.6 818.8L1221.0 818.4L1221.4 817.9L1221.8 818.7L1222.1 818.4L1222.5 818.6L1222.9 819.1L1223.3 819.1L1223.7 819.0L1224.0 819.2L1224.4 813.0L1224.8 818.9L1225.2 818.8L1225.6 818.1L1225.9 819.0L1226.3 818.6L1226.7 818.9L1227.1 819.1L1227.5 816.8L1227.8 819.0L1228.2 819.3L1228.6 819.2L1229.0 702.0L1229.4 818.6L1229.7 819.2L1230.1 815.9L1230.5 818.4L1230.9 818.8L1231.3 819.1L1231.6 801.8L1232.0 819.0L1232.4 818.3L1232.8 819.1L1233.2 818.2L1233.6 818.6L1233.9 818.4L1234.3 807.8L1234.7 818.5L1235.1 818.3L1235.5 817.9L1235.8 818.2L1236.2 817.6L1236.6 819.1L1237.0 817.9L1237.4 817.2L1237.7 818.0L1238.1 805.2L1238.5 818.1L1238.9 817.5L1239.3 818.1L1239.6 819.0L1240.0 818.4L1240.4 810.0L1240.8 817.9L1241.2 818.6L1241.5 818.2L1241.9 818.9L1242.3 818.8L1242.7 818.9L1243.1 819.1L1243.4 817.6L1243.8 818.6L1244.2 817.6L1244.6 818.3L1245.0 818.6L1245.3 819.1L1245.7 818.7L1246.1 818.7L1246.5 818.4L1246.9 813.1L1247.2 816.4L1247.6 819.2L1248.0 819.2L1248.4 808.5L1248.8 816.5L1249.1 818.8L1249.5 817.7L1249.9 810.8L1250.3 819.0L1250.7 819.2L1251.0 819.2L1251.4 818.3L1251.8 817.5L1252.2 818.4L1252.6 818.9L1252.9 818.5L1253.3 818.9L1253.7 818.0L1254.1 818.7L1254.5 815.7L1254.8 819.0L1255.2 814.5L1255.6 818.5L1256.0 818.6L1256.4 818.0L1256.7 818.6L1257.1 817.3L1257.5 817.8L1257.9 818.9L1258.3 818.6L1258.7 818.9L1259.0 818.2L1259.4 807.0L1259.8 818.4L1260.2 814.5L1260.6 818.3L1260.9 818.3L1261.3 819.1L1261.7 818.5L1262.1 809.3L1262.5 819.0L1262.8 817.8L1263.2 818.8L1263.6 818.7L1264.0 818.6L1264.4 806.5L1264.7 819.2L1265.1 818.3L1265.5 818.4L1265.9 816.2L1266.3 816.1L1266.6 818.8L1267.0 819.0L1267.4 817.3L1267.8 819.0L1268.2 817.3L1268.5 818.1L1268.9 819.1L1269.3 818.0L1269.7 818.5L1270.1 817.8L1270.4 818.1L1270.8 818.7L1271.2 813.0L1271.6 819.3L1272.0 807.3L1272.3 818.7L1272.7 818.9L1273.1 818.2L1273.5 819.3L1273.9 817.1L1274.2 817.5L1274.6 817.7L1275.0 818.7L1275.4 806.3L1275.8 817.0L1276.1 818.7L1276.5 814.9L1276.9 818.3L1277.3 817.7L1277.7 807.0L1278.0 819.0L1278.4 818.5L1278.8 819.1L1279.2 819.3L1279.6 818.8L1279.9 815.5L1280.3 819.1L1280.7 819.2L1281.1 818.9L1281.5 819.3L1281.8 818.3L1282.2 812.3L1282.6 817.7L1283.0 818.5L1283.4 817.7L1283.8 818.9L1284.1 818.2L1284.5 817.4L1284.9 818.6L1285.3 819.2L1285.7 818.6L1286.0 819.2L1286.4 818.8L1286.8 817.7L1287.2 819.1L1287.6 817.7L1287.9 817.4L1288.3 818.8L1288.7 795.0L1289.1 819.2L1289.5 817.6L1289.8 819.1L1290.2 796.5L1290.6 815.2L1291.0 815.6L1291.4 815.9L1291.7 814.4L1292.1 813.3L1292.5 818.4L1292.9 812.3L1293.3 818.1L1293.6 816.5L1294.0 818.1L1294.4 816.5L1294.8 818.4L1295.2 818.3L1295.5 812.8L1295.9 818.3L1296.3 817.1L1296.7 814.9L1297.1 817.7L1297.4 814.4L1297.8 811.1L1298.2 817.7L1298.6 814.7L1299.0 815.6L1299.3 818.2L1299.7 816.9L1300.1 818.5L1300.5 817.0L1300.9 817.4L1301.2 805.8L1301.6 817.7L1302.0 816.1L1302.4 817.5L1302.8 817.8L1303.1 818.2L1303.5 817.5L1303.9 818.1L1304.3 818.0L1304.7 818.0L1305.0 818.3L1305.4 815.0L1305.8 818.1L1306.2 816.9L1306.6 812.2L1306.9 818.1L1307.3 817.7L1307.7 818.4L1308.1 813.7L1308.5 815.6L1308.9 805.8L1309.2 814.1L1309.6 815.8L1310.0 815.7L1310.4 818.5L1310.8 810.7L1311.1 816.1L1311.5 817.3L1311.9 818.4L1312.3 816.6L1312.7 818.3L1313.0 816.2L1313.4 815.2L1313.8 818.4L1314.2 813.5L1314.6 818.4L1314.9 817.3L1315.3 817.8L1315.7 818.2L1316.1 817.2L1316.5 814.4L1316.8 758.3L1317.2 815.7L1317.6 816.4L1318.0 817.7L1318.4 809.4L1318.7 808.3L1319.1 816.5L1319.5 815.9L1319.9 810.8L1320.3 796.9L1320.6 812.4L1321.0 815.0L1321.4 814.5L1321.8 816.6L1322.2 815.1L1322.5 818.0L1322.9 818.2L1323.3 817.4L1323.7 818.3L1324.1 815.6L1324.4 818.4L1324.8 817.9L1325.2 803.3L1325.6 814.9L1326.0 815.7L1326.3 816.2L1326.7 814.2L1327.1 799.5L1327.5 818.3L1327.9 817.1L1328.2 816.2L1328.6 810.7L1329.0 818.3L1329.4 816.2L1329.8 772.6L1330.1 807.2L1330.5 817.0L1330.9 812.7L1331.3 773.3L1331.7 814.0L1332.0 814.1L1332.4 809.6L1332.8 793.7L1333.2 814.4L1333.6 807.6L1333.9 815.3L1334.3 806.1L1334.7 814.3L1335.1 807.1L1335.5 805.9L1335.9 816.7L1336.2 807.2L1336.6 815.6L1337.0 817.6L1337.4 767.5L1337.8 817.2L1338.1 804.6L1338.5 741.1L1338.9 781.9L1339.3 808.7L1339.7 816.0L1340.0 811.2L1340.4 813.6L1340.8 762.1L1341.2 814.3L1341.6 816.0L1341.9 806.8L1342.3 793.1L1342.7 813.4L1343.1 812.8L1343.5 816.5L1343.8 797.5L1344.2 810.0L1344.6 814.7L1345.0 810.6L1345.4 816.9L1345.7 815.9L1346.1 817.1L1346.5 817.3L1346.9 813.3L1347.3 815.6L1347.6 815.4L1348.0 817.3L1348.4 810.4L1348.8 813.5L1349.2 811.3L1349.5 815.8L1349.9 816.9L1350.3 816.4L1350.7 815.1L1351.1 812.3L1351.4 817.7L1351.8 788.6L1352.2 814.2L1352.6 808.7L1353.0 814.1L1353.3 811.9L1353.7 809.1L1354.1 814.2L1354.5 815.8L1354.9 816.5L1355.2 795.6L1355.6 814.6L1356.0 808.1L1356.4 814.7L1356.8 810.4L1357.1 812.4L1357.5 816.5L1357.9 815.2L1358.3 816.4L1358.7 783.1L1359.0 813.6L1359.4 807.1L1359.8 811.6L1360.2 817.8L1360.6 815.2L1361.0 812.7L1361.3 817.7L1361.7 815.5L1362.1 817.8L1362.5 758.3L1362.9 817.9L1363.2 816.6L1363.6 815.1L1364.0 812.0L1364.4 809.2L1364.8 817.6L1365.1 815.0L1365.5 818.0L1365.9 813.2L1366.3 814.9L1366.7 816.6L1367.0 815.5L1367.4 816.0L1367.8 813.1L1368.2 804.6L1368.6 809.3L1368.9 810.0L1369.3 815.9L1369.7 813.5L1370.1 817.4L1370.5 808.5L1370.8 808.2L1371.2 804.6L1371.6 815.4L1372.0 817.4L1372.4 804.3L1372.7 811.7L1373.1 815.5L1373.5 758.6L1373.9 816.9L1374.3 810.7L1374.6 816.5L1375.0 815.9L1375.4 815.9L1375.8 791.1L1376.2 817.3L1376.5 814.6L1376.9 816.8L1377.3 811.6L1377.7 814.1L1378.1 807.9L1378.4 810.4L1378.8 809.7L1379.2 809.9L1379.6 730.2L1380.0 815.9L1380.3 813.3L1380.7 810.7L1381.1 817.7L1381.5 807.3L1381.9 814.4L1382.2 807.9L1382.6 810.1L1383.0 817.1L1383.4 818.0L1383.8 794.3L1384.1 813.3L1384.5 810.5L1384.9 807.3L1385.3 800.3L1385.7 797.3L1386.1 815.0L1386.4 797.5L1386.8 817.2L1387.2 796.3L1387.6 816.7L1388.0 817.0L1388.3 816.0L1388.7 806.2L1389.1 817.2L1389.5 804.8L1389.9 732.4L1390.2 815.8L1390.6 814.0L1391.0 806.2L1391.4 811.5L1391.8 814.5L1392.1 809.2L1392.5 807.2L1392.9 743.0L1393.3 816.0L1393.7 817.4L1394.0 812.5L1394.4 814.1L1394.8 812.9L1395.2 809.3L1395.6 809.9L1395.9 804.8L1396.3 800.1L1396.7 816.1L1397.1 816.7L1397.5 766.2L1397.8 808.2L1398.2 808.8L1398.6 816.5L1399.0 809.6L1399.4 807.7L1399.7 818.0L1400.1 751.9L1400.5 812.2L1400.9 811.8L1401.3 807.0L1401.6 816.7L1402.0 817.5L1402.4 770.7L1402.8 815.0L1403.2 810.1L1403.5 812.0L1403.9 817.9L1404.3 817.8L1404.7 811.0L1405.1 792.4L1405.4 811.6L1405.8 814.9L1406.2 818.0L1406.6 816.6L1407.0 805.6L1407.3 814.2L1407.7 797.5L1408.1 817.4L1408.5 816.1L1408.9 813.9L1409.2 817.8L1409.6 803.8L1410.0 810.4L1410.4 817.5L1410.8 816.6L1411.2 811.9L1411.5 808.2L1411.9 810.6L1412.3 817.2L1412.7 816.9L1413.1 816.2L1413.4 814.0L1413.8 816.6L1414.2 803.4L1414.6 730.2L1415.0 813.3L1415.3 813.3L1415.7 811.6L1416.1 812.2L1416.5 801.9L1416.9 813.8L1417.2 815.9L1417.6 815.2L1418.0 799.4L1418.4 770.5L1418.8 816.8L1419.1 813.1L1419.5 815.2L1419.9 806.1L1420.3 809.2L1420.7 797.0L1421.0 813.8L1421.4 814.0L1421.8 810.0L1422.2 810.5L1422.6 805.2L1422.9 732.3L1423.3 804.4L1423.7 812.5L1424.1 813.8L1424.5 815.0L1424.8 805.5L1425.2 806.7L1425.6 796.7L1426.0 775.0L1426.4 809.9L1426.7 806.7L1427.1 807.7L1427.5 806.1L1427.9 811.5L1428.3 808.1L1428.6 797.8L1429.0 810.8L1429.4 814.4L1429.8 805.4L1430.2 813.4L1430.5 811.9L1430.9 814.6L1431.3 798.1L1431.7 736.7L1432.1 815.7L1432.4 815.4L1432.8 810.3L1433.2 803.7L1433.6 815.1L1434.0 799.3L1434.3 815.4L1434.7 811.9L1435.1 812.7L1435.5 797.8L1435.9 814.2L1436.3 807.5L1436.6 812.8L1437.0 809.6L1437.4 803.4L1437.8 763.2L1438.2 815.4L1438.5 814.2L1438.9 812.3L1439.3 806.1L1439.7 799.6L1440.1 815.4L1440.4 800.9L1440.8 807.3L1441.2 815.2L1441.6 805.0L1442.0 809.4L1442.3 807.2L1442.7 808.4L1443.1 792.5L1443.5 815.9L1443.9 802.3L1444.2 804.3L1444.6 755.8L1445.0 810.5L1445.4 803.9L1445.8 805.9L1446.1 798.4L1446.5 800.0L1446.9 815.3L1447.3 777.9L1447.7 805.3L1448.0 807.3L1448.4 813.0L1448.8 811.4L1449.2 811.6L1449.6 815.5L1449.9 806.7L1450.3 812.0L1450.7 802.9L1451.1 768.3L1451.5 811.9L1451.8 777.1L1452.2 811.0L1452.6 808.4L1453.0 735.2L1453.4 803.3L1453.7 815.6L1454.1 808.0L1454.5 814.4L1454.9 815.0L1455.3 618.9L1455.6 816.0L1456.0 799.1L1456.4 811.5L1456.8 792.0L1457.2 815.7L1457.5 643.9L1457.9 802.0L1458.3 800.9L1458.7 809.9L1459.1 813.2L1459.4 811.4L1459.8 808.6L1460.2 810.2L1460.6 757.3L1461.0 814.8L1461.4 813.5L1461.7 816.0L1462.1 794.5L1462.5 807.9L1462.9 815.5L1463.3 791.2L1463.6 813.1L1464.0 800.4L1464.4 800.2L1464.8 814.8L1465.2 814.1L1465.5 813.7L1465.9 799.3L1466.3 789.5L1466.7 807.6L1467.1 757.3L1467.4 810.4L1467.8 812.5L1468.2 814.6L1468.6 806.9L1469.0 812.4L1469.3 794.1L1469.7 804.6L1470.1 793.4L1470.5 812.8L1470.9 814.0L1471.2 813.9L1471.6 795.7L1472.0 797.1L1472.4 804.7L1472.8 799.5L1473.1 800.6L1473.5 811.6L1473.9 796.9L1474.3 813.1L1474.7 799.7L1475.0 812.9L1475.4 811.0L1475.8 796.1L1476.2 694.0L1476.6 797.2L1476.9 813.5L1477.3 803.0L1477.7 814.1L1478.1 701.3L1478.5 809.4L1478.8 806.9L1479.2 804.5L1479.6 814.6L1480.0 810.1L1480.4 808.6L1480.7 791.5L1481.1 811.9L1481.5 797.8L1481.9 713.1L1482.3 813.3L1482.6 810.5L1483.0 809.5L1483.4 785.7L1483.8 686.6L1484.2 788.6L1484.5 751.3L1484.9 811.4L1485.3 811.7L1485.7 582.0L1486.1 815.7L1486.5 767.9L1486.8 749.6L1487.2 816.5L1487.6 616.0L1488.0 809.0L1488.4 773.5L1488.7 806.9L1489.1 763.3L1489.5 807.3L1489.9 767.7L1490.3 725.8L1490.6 670.0L1491.0 816.4L1491.4 801.4L1491.8 812.7L1492.2 812.5L1492.5 763.3L1492.9 746.8L1493.3 731.1L1493.7 707.2L1494.1 797.8L1494.4 751.7L1494.8 754.4L1495.2 813.6L1495.6 722.0L1496.0 733.8L1496.3 744.4L1496.7 703.9L1497.1 671.9L1497.5 693.0L1497.9 735.8L1498.2 815.7L1498.6 714.8L1499.0 352.5" fill="none" stroke="#7b68ee" stroke-opacity="0.9" stroke-width="2" stroke-linejoin="miter"/>
<path d="M191.5 818.1L191.9 818.1L192.3 818.1L192.7 818.1L193.0 818.0L193.4 818.0L193.8 818.1L194.2 818.0L194.6 818.0L195.0 818.0L195.3 818.1L195.7 818.1L196.1 818.1L196.5 818.1L196.9 818.1L197.2 818.1L197.6 818.1L198.0 818.1L198.4 818.1L198.8 818.1L199.1 818.1L199.5 818.1L199.9 818.1L200.3 818.1L200.7 818.1L201.0 818.2L201.4 818.2L201.8 818.2L202.2 818.2L202.6 818.3L202.9 818.3L203.3 818.3L203.7 818.4L204.1 818.4L204.5 818.4L204.8 818.4L205.2 818.5L205.6 818.5L206.0 818.5L206.4 818.6L206.7 818.6L207.1 818.6L207.5 818.6L207.9 818.7L208.3 818.7L208.6 818.7L209.0 818.8L209.4 818.8L209.8 818.8L210.2 818.8L210.5 818.9L210.9 818.9L211.3 818.9L211.7 818.9L212.1 818.9L212.4 818.9L212.8 818.9L213.2 818.9L213.6 818.9L214.0 818.9L214.3 818.9L214.7 818.9L215.1 818.9L215.5 818.9L215.9 818.9L216.2 818.9L216.6 818.9L217.0 818.9L217.4 818.9L217.8 818.9L218.1 818.9L218.5 818.9L218.9 818.9L219.3 818.8L219.7 818.8L220.1 818.8L220.4 818.8L220.8 818.8L221.2 818.9L221.6 818.8L222.0 818.8L222.3 818.8L222.7 818.9L223.1 818.9L223.5 818.9L223.9 818.9L224.2 818.9L224.6 818.9L225.0 818.9L225.4 818.9L225.8 818.9L226.1 818.9L226.5 818.9L226.9 818.9L227.3 818.9L227.7 818.9L228.0 818.9L228.4 818.9L228.8 818.9L229.2 818.9L229.6 818.9L229.9 818.9L230.3 818.9L230.7 818.9L231.1 818.9L231.5 818.9L231.8 818.9L232.2 818.9L232.6 818.9L233.0 818.9L233.4 818.9L233.7 818.9L234.1 818.9L234.5 818.9L234.9 818.9L235.3 818.9L235.6 818.9L236.0 818.9L236.4 818.9L236.8 818.9L237.2 818.9L237.5 818.9L237.9 818.9L238.3 818.9L238.7 818.9L239.1 818.9L239.4 818.9L239.8 818.9L240.2 818.9L240.6 818.9L241.0 818.8L241.3 818.9L241.7 818.8L242.1 818.8L242.5 818.8L242.9 818.8L243.2 818.8L243.6 818.9L244.0 818.8L244.4 818.9L244.8 818.9L245.2 818.9L245.5 818.9L245.9 818.9L246.3 818.9L246.7 818.9L247.1 818.9L247.4 818.9L247.8 818.8L248.2 818.9L248.6 818.9L249.0 818.8L249.3 818.8L249.7 818.8L250.1 818.8L250.5 818.8L250.9 818.8L251.2 818.8L251.6 818.8L252.0 818.8L252.4 818.8L252.8 818.8L253.1 818.8L253.5 818.8L253.9 818.8L254.3 818.8L254.7 818.8L255.0 818.8L255.4 818.8L255.8 818.8L256.2 818.8L256.6 818.8L256.9 818.8L257.3 818.8L257.7 818.8L258.1 818.8L258.5 818.8L258.8 818.8L259.2 818.8L259.6 818.8L260.0 818.8L260.4 818.8L260.7 818.8L261.1 818.8L261.5 818.8L261.9 818.8L262.3 818.8L262.6 818.9L263.0 818.9L263.4 818.9L263.8 818.9L264.2 818.9L264.5 818.8L264.9 818.9L265.3 818.9L265.7 818.9L266.1 818.9L266.4 818.9L266.8 818.9L267.2 818.9L267.6 818.9L268.0 818.9L268.3 818.9L268.7 818.9L269.1 818.9L269.5 818.9L269.9 818.9L270.3 818.9L270.6 818.9L271.0 818.9L271.4 818.9L271.8 818.9L272.2 818.9L272.5 818.9L272.9 818.9L273.3 818.9L273.7 818.9L274.1 818.9L274.4 818.9L274.8 818.9L275.2 818.9L275.6 818.9L276.0 818.9L276.3 818.9L276.7 818.9L277.1 818.9L277.5 818.9L277.9 818.9L278.2 818.9L278.6 818.9L279.0 818.9L279.4 818.9L279.8 818.9L280.1 818.9L280.5 818.9L280.9 818.9L281.3 818.9L281.7 818.8L282.0 818.8L282.4 818.8L282.8 818.8L283.2 818.8L283.6 818.8L283.9 818.8L284.3 818.8L284.7 818.8L285.1 818.8L285.5 818.8L285.8 818.8L286.2 818.8L286.6 818.8L287.0 818.8L287.4 818.8L287.7 818.8L288.1 818.8L288.5 818.8L288.9 818.8L289.3 818.8L289.6 818.8L290.0 818.8L290.4 818.8L290.8 818.9L291.2 818.9L291.5 818.9L291.9 818.8L292.3 818.8L292.7 818.8L293.1 818.8L293.4 818.8L293.8 818.9L294.2 818.9L294.6 818.9L295.0 818.8L295.4 818.9L295.7 818.9L296.1 818.9L296.5 818.9L296.9 818.9L297.3 818.9L297.6 818.9L298.0 818.9L298.4 818.9L298.8 818.9L299.2 818.9L299.5 818.9L299.9 818.9L300.3 818.9L300.7 818.9L301.1 818.9L301.4 818.9L301.8 818.9L302.2 818.9L302.6 818.9L303.0 818.9L303.3 818.9L303.7 818.9L304.1 818.9L304.5 818.9L304.9 818.9L305.2 818.9L305.6 818.9L306.0 818.9L306.4 818.9L306.8 818.9L307.1 818.9L307.5 818.9L307.9 818.9L308.3 818.9L308.7 818.9L309.0 818.9L309.4 818.9L309.8 818.9L310.2 818.9L310.6 818.9L310.9 818.9L311.3 818.9L311.7 818.9L312.1 818.9L312.5 818.9L312.8 818.9L313.2 818.9L313.6 818.9L314.0 818.9L314.4 818.9L314.7 818.9L315.1 818.8L315.5 818.9L315.9 818.9L316.3 818.9L316.6 818.9L317.0 818.9L317.4 818.8L317.8 818.8L318.2 818.8L318.5 818.8L318.9 818.8L319.3 818.8L319.7 818.9L320.1 818.9L320.5 818.9L320.8 818.9L321.2 818.9L321.6 818.9L322.0 818.9L322.4 818.9L322.7 818.9L323.1 818.9L323.5 818.9L323.9 818.9L324.3 818.9L324.6 818.9L325.0 818.9L325.4 818.9L325.8 818.9L326.2 818.9L326.5 818.9L326.9 818.9L327.3 818.9L327.7 818.9L328.1 818.9L328.4 818.9L328.8 818.9L329.2 818.9L329.6 818.9L330.0 818.9L330.3 818.9L330.7 818.9L331.1 818.9L331.5 818.9L331.9 818.9L332.2 818.9L332.6 818.9L333.0 818.8L333.4 818.8L333.8 818.9L334.1 818.8L334.5 818.8L334.9 818.8L335.3 818.8L335.7 818.8L336.0 818.8L336.4 818.8L336.8 818.8L337.2 818.8L337.6 818.8L337.9 818.8L338.3 818.8L338.7 818.8L339.1 818.8L339.5 818.8L339.8 818.8L340.2 818.8L340.6 818.8L341.0 818.8L341.4 818.8L341.7 818.8L342.1 818.8L342.5 818.8L342.9 818.8L343.3 818.8L343.6 818.8L344.0 818.8L344.4 818.8L344.8 818.8L345.2 818.8L345.6 818.8L345.9 818.8L346.3 818.8L346.7 818.8L347.1 818.8L347.5 818.8L347.8 818.8L348.2 818.8L348.6 818.8L349.0 818.8L349.4 818.8L349.7 818.8L350.1 818.8L350.5 818.8L350.9 818.8L351.3 818.8L351.6 818.8L352.0 818.8L352.4 818.8L352.8 818.8L353.2 818.8L353.5 818.8L353.9 818.8L354.3 818.8L354.7 818.8L355.1 818.8L355.4 818.8L355.8 818.8L356.2 818.8L356.6 818.8L357.0 818.8L357.3 818.8L357.7 818.8L358.1 818.8L358.5 818.8L358.9 818.8L359.2 818.8L359.6 818.8L360.0 818.8L360.4 818.8L360.8 818.8L361.1 818.8L361.5 818.8L361.9 818.8L362.3 818.9L362.7 818.9L363.0 818.9L363.4 818.9L363.8 818.9L364.2 818.9L364.6 818.9L364.9 818.9L365.3 818.9L365.7 818.9L366.1 818.8L366.5 818.8L366.8 818.8L367.2 818.8L367.6 818.8L368.0 818.8L368.4 818.8L368.7 818.8L369.1 818.8L369.5 818.8L369.9 818.8L370.3 818.8L370.7 818.8L371.0 818.8L371.4 818.8L371.8 818.8L372.2 818.8L372.6 818.8L372.9 818.8L373.3 818.8L373.7 818.8L374.1 818.8L374.5 818.7L374.8 818.7L375.2 818.7L375.6 818.8L376.0 818.7L376.4 818.7L376.7 818.7L377.1 818.7L377.5 818.8L377.9 818.8L378.3 818.8L378.6 818.8L379.0 818.8L379.4 818.8L379.8 818.8L380.2 818.8L380.5 818.8L380.9 818.8L381.3 818.8L381.7 818.8L382.1 818.8L382.4 818.8L382.8 818.8L383.2 818.8L383.6 818.8L384.0 818.8L384.3 818.8L384.7 818.8L385.1 818.8L385.5 818.8L385.9 818.8L386.2 818.8L386.6 818.8L387.0 818.8L387.4 818.8L387.8 818.8L388.1 818.8L388.5 818.8L388.9 818.8L389.3 818.8L389.7 818.8L390.0 818.8L390.4 818.8L390.8 818.8L391.2 818.8L391.6 818.8L391.9 818.8L392.3 818.8L392.7 818.8L393.1 818.9L393.5 818.9L393.8 818.9L394.2 818.8L394.6 818.9L395.0 818.8L395.4 818.8L395.7 818.8L396.1 818.8L396.5 818.8L396.9 818.8L397.3 818.8L397.7 818.8L398.0 818.8L398.4 818.8L398.8 818.8L399.2 818.8L399.6 818.8L399.9 818.8L400.3 818.8L400.7 818.8L401.1 818.8L401.5 818.8L401.8 818.8L402.2 818.8L402.6 818.8L403.0 818.8L403.4 818.8L403.7 818.8L404.1 818.8L404.5 818.8L404.9 818.8L405.3 818.8L405.6 818.8L406.0 818.9L406.4 818.9L406.8 818.9L407.2 818.9L407.5 818.9L407.9 818.9L408.3 818.9L408.7 818.9L409.1 818.9L409.4 818.9L409.8 818.9L410.2 818.9L410.6 818.9L411.0 818.9L411.3 818.9L411.7 818.9L412.1 818.9L412.5 818.9L412.9 818.9L413.2 818.9L413.6 818.9L414.0 818.9L414.4 818.9L414.8 818.9L415.1 818.9L415.5 818.9L415.9 818.9L416.3 818.9L416.7 818.9L417.0 818.9L417.4 818.9L417.8 818.9L418.2 818.9L418.6 818.9L418.9 818.9L419.3 818.9L419.7 818.9L420.1 818.9L420.5 818.9L420.8 818.9L421.2 818.9L421.6 818.9L422.0 818.9L422.4 818.9L422.8 818.9L423.1 818.9L423.5 818.9L423.9 818.9L424.3 818.9L424.7 818.9L425.0 818.9L425.4 818.9L425.8 818.9L426.2 818.9L426.6 818.9L426.9 818.9L427.3 818.9L427.7 818.9L428.1 818.9L428.5 818.9L428.8 818.8L429.2 818.8L429.6 818.8L430.0 818.8L430.4 818.8L430.7 818.8L431.1 818.8L431.5 818.8L431.9 818.8L432.3 818.8L432.6 818.8L433.0 818.8L433.4 818.8L433.8 818.9L434.2 818.9L434.5 818.9L434.9 818.9L435.3 818.9L435.7 818.9L436.1 818.9L436.4 818.8L436.8 818.8L437.2 818.8L437.6 818.8L438.0 818.8L438.3 818.9L438.7 818.8L439.1 818.8L439.5 818.8L439.9 818.8L440.2 818.8L440.6 818.8L441.0 818.8L441.4 818.9L441.8 818.9L442.1 818.9L442.5 818.9L442.9 818.9L443.3 818.8L443.7 818.9L444.0 818.8L444.4 818.8L444.8 818.9L445.2 818.9L445.6 818.9L445.9 818.9L446.3 818.9L446.7 818.9L447.1 818.9L447.5 818.9L447.9 818.9L448.2 818.9L448.6 818.9L449.0 818.9L449.4 818.9L449.8 818.8L450.1 818.9L450.5 818.9L450.9 818.9L451.3 818.9L451.7 818.8L452.0 818.9L452.4 818.9L452.8 818.8L453.2 818.8L453.6 818.8L453.9 818.8L454.3 818.8L454.7 818.8L455.1 818.8L455.5 818.8L455.8 818.8L456.2 818.8L456.6 818.8L457.0 818.8L457.4 818.8L457.7 818.8L458.1 818.8L458.5 818.8L458.9 818.8L459.3 818.8L459.6 818.8L460.0 818.8L460.4 818.8L460.8 818.8L461.2 818.8L461.5 818.9L461.9 818.9L462.3 818.9L462.7 818.9L463.1 818.9L463.4 818.9L463.8 818.9L464.2 818.9L464.6 818.9L465.0 818.9L465.3 818.9L465.7 818.9L466.1 818.9L466.5 818.9L466.9 818.9L467.2 818.9L467.6 818.9L468.0 818.9L468.4 818.9L468.8 818.9L469.1 818.9L469.5 818.9L469.9 818.8L470.3 818.8L470.7 818.8L471.0 818.8L471.4 818.8L471.8 818.8L472.2 818.8L472.6 818.8L473.0 818.8L473.3 818.8L473.7 818.8L474.1 818.8L474.5 818.8L474.9 818.8L475.2 818.8L475.6 818.8L476.0 818.8L476.4 818.8L476.8 818.8L477.1 818.8L477.5 818.8L477.9 818.8L478.3 818.8L478.7 818.8L479.0 818.8L479.4 818.8L479.8 818.8L480.2 818.8L480.6 818.8L480.9 818.8L481.3 818.8L481.7 818.8L482.1 818.8L482.5 818.9L482.8 818.9L483.2 818.9L483.6 818.9L484.0 818.9L484.4 818.9L484.7 818.9L485.1 818.9L485.5 818.9L485.9 818.9L486.3 818.9L486.6 818.9L487.0 818.9L487.4 818.9L487.8 818.9L488.2 818.9L488.5 818.9L488.9 818.9L489.3 818.9L489.7 818.9L490.1 818.9L490.4 818.9L490.8 818.9L491.2 818.9L491.6 818.9L492.0 818.9L492.3 818.9L492.7 818.9L493.1 818.9L493.5 818.9L493.9 818.9L494.2 818.9L494.6 818.9L495.0 818.9L495.4 818.9L495.8 818.9L496.1 818.9L496.5 818.9L496.9 818.9L497.3 818.9L497.7 818.9L498.1 818.9L498.4 818.9L498.8 818.9L499.2 818.9L499.6 818.9L500.0 818.9L500.3 818.9L500.7 818.9L501.1 818.9L501.5 818.9L501.9 818.9L502.2 818.9L502.6 818.9L503.0 818.9L503.4 818.9L503.8 818.9L504.1 818.9L504.5 818.9L504.9 818.9L505.3 818.9L505.7 818.9L506.0 818.9L506.4 818.9L506.8 818.9L507.2 818.9L507.6 818.9L507.9 818.9L508.3 818.9L508.7 818.9L509.1 818.9L509.5 818.8L509.8 818.8L510.2 818.8L510.6 818.8L511.0 818.8L511.4 818.8L511.7 818.9L512.1 818.8L512.5 818.8L512.9 818.8L513.3 818.8L513.6 818.8L514.0 818.8L514.4 818.8L514.8 818.8L515.2 818.8L515.5 818.8L515.9 818.8L516.3 818.8L516.7 818.8L517.1 818.8L517.4 818.8L517.8 818.8L518.2 818.8L518.6 818.8L519.0 818.8L519.3 818.8L519.7 818.8L520.1 818.8L520.5 818.8L520.9 818.8L521.2 818.8L521.6 818.8L522.0 818.8L522.4 818.8L522.8 818.8L523.2 818.8L523.5 818.8L523.9 818.9L524.3 818.9L524.7 818.9L525.1 818.9L525.4 818.9L525.8 818.9L526.2 818.9L526.6 818.8L527.0 818.9L527.3 818.9L527.7 818.9L528.1 818.9L528.5 818.9L528.9 818.9L529.2 818.9L529.6 818.9L530.0 816.8L530.4 816.8L530.8 816.8L531.1 816.8L531.5 816.8L531.9 816.8L532.3 816.8L532.7 816.8L533.0 816.8L533.4 816.8L533.8 816.8L534.2 816.8L534.6 816.8L534.9 816.8L535.3 816.8L535.7 816.8L536.1 816.8L536.5 816.8L536.8 816.8L537.2 816.8L537.6 816.8L538.0 816.8L538.4 816.7L538.7 816.7L539.1 816.6L539.5 816.6L539.9 816.6L540.3 816.6L540.6 816.6L541.0 816.6L541.4 818.7L541.8 818.7L542.2 818.6L542.5 818.6L542.9 818.6L543.3 818.4L543.7 818.4L544.1 818.4L544.4 818.3L544.8 818.3L545.2 818.3L545.6 818.3L546.0 818.3L546.3 818.3L546.7 818.3L547.1 818.4L547.5 818.4L547.9 818.4L548.3 818.4L548.6 818.4L549.0 818.4L549.4 818.4L549.8 818.5L550.2 818.5L550.5 818.6L550.9 818.6L551.3 818.6L551.7 818.6L552.1 818.7L552.4 818.7L552.8 818.7L553.2 818.7L553.6 818.7L554.0 818.8L554.3 818.8L554.7 818.9L555.1 818.9L555.5 818.9L555.9 819.0L556.2 819.0L556.6 818.8L557.0 818.8L557.4 818.8L557.8 818.8L558.1 818.8L558.5 818.8L558.9 818.7L559.3 818.8L559.7 818.7L560.0 818.7L560.4 818.6L560.8 818.6L561.2 818.6L561.6 818.6L561.9 818.6L562.3 818.6L562.7 818.6L563.1 818.6L563.5 818.6L563.8 818.6L564.2 818.6L564.6 818.6L565.0 818.6L565.4 818.5L565.7 818.6L566.1 818.6L566.5 818.6L566.9 818.6L567.3 818.6L567.6 818.5L568.0 818.7L568.4 818.7L568.8 817.0L569.2 817.0L569.5 817.0L569.9 817.0L570.3 817.1L570.7 817.1L571.1 817.1L571.4 817.1L571.8 817.1L572.2 817.1L572.6 817.1L573.0 817.1L573.3 817.1L573.7 817.1L574.1 817.1L574.5 817.1L574.9 816.9L575.3 816.9L575.6 816.9L576.0 816.9L576.4 816.9L576.8 817.0L577.2 816.9L577.5 816.9L577.9 816.9L578.3 816.9L578.7 816.9L579.1 816.9L579.4 816.9L579.8 816.9L580.2 818.6L580.6 818.6L581.0 818.6L581.3 818.6L581.7 818.6L582.1 818.6L582.5 818.6L582.9 818.6L583.2 818.6L583.6 818.6L584.0 818.5L584.4 818.5L584.8 818.5L585.1 818.6L585.5 818.5L585.9 818.5L586.3 818.7L586.7 818.6L587.0 818.6L587.4 818.7L587.8 818.6L588.2 818.6L588.6 818.6L588.9 818.6L589.3 818.6L589.7 818.6L590.1 816.3L590.5 816.3L590.8 816.3L591.2 816.2L591.6 816.2L592.0 816.2L592.4 816.2L592.7 816.2L593.1 816.2L593.5 816.2L593.9 816.2L594.3 816.2L594.6 816.3L595.0 816.3L595.4 816.4L595.8 816.4L596.2 816.3L596.5 816.3L596.9 816.4L597.3 816.4L597.7 816.4L598.1 816.4L598.4 816.3L598.8 816.4L599.2 816.4L599.6 816.4L600.0 816.5L600.4 816.5L600.7 816.5L601.1 816.5L601.5 818.8L601.9 818.9L602.3 818.9L602.6 819.0L603.0 819.0L603.4 818.9L603.8 818.9L604.2 818.9L604.5 818.9L604.9 818.8L605.3 818.8L605.7 818.7L606.1 818.7L606.4 818.7L606.8 818.6L607.2 818.6L607.6 818.7L608.0 818.6L608.3 818.6L608.7 818.4L609.1 818.4L609.5 818.4L609.9 818.4L610.2 818.4L610.6 818.4L611.0 818.4L611.4 818.3L611.8 818.2L612.1 818.2L612.5 818.2L612.9 818.0L613.3 818.0L613.7 818.0L614.0 817.8L614.4 817.9L614.8 817.9L615.2 817.9L615.6 817.9L615.9 817.9L616.3 818.0L616.7 818.0L617.1 818.0L617.5 818.1L617.8 818.1L618.2 818.1L618.6 818.0L619.0 818.0L619.4 818.0L619.7 818.0L620.1 818.2L620.5 818.1L620.9 818.1L621.3 818.1L621.6 818.0L622.0 818.1L622.4 818.1L622.8 818.2L623.2 818.3L623.5 818.2L623.9 818.3L624.3 818.5L624.7 818.5L625.1 818.5L625.5 818.6L625.8 818.6L626.2 818.6L626.6 818.6L627.0 818.6L627.4 818.6L627.7 818.6L628.1 818.6L628.5 818.6L628.9 818.6L629.3 818.5L629.6 818.5L630.0 818.7L630.4 818.6L630.8 818.7L631.2 818.6L631.5 818.7L631.9 818.7L632.3 818.7L632.7 818.7L633.1 818.8L633.4 818.8L633.8 818.8L634.2 818.8L634.6 818.8L635.0 818.8L635.3 818.8L635.7 818.8L636.1 818.8L636.5 818.8L636.9 818.8L637.2 818.9L637.6 818.9L638.0 818.9L638.4 818.7L638.8 818.7L639.1 818.7L639.5 818.7L639.9 818.7L640.3 818.7L640.7 818.7L641.0 818.7L641.4 818.7L641.8 818.8L642.2 818.8L642.6 818.7L642.9 818.7L643.3 818.7L643.7 818.7L644.1 818.8L644.5 818.8L644.8 818.8L645.2 818.8L645.6 818.8L646.0 818.7L646.4 818.7L646.7 818.7L647.1 818.7L647.5 818.7L647.9 818.6L648.3 818.6L648.6 818.6L649.0 818.6L649.4 818.6L649.8 818.7L650.2 818.7L650.6 818.7L650.9 818.8L651.3 818.8L651.7 818.8L652.1 818.6L652.5 818.6L652.8 818.6L653.2 818.6L653.6 818.6L654.0 818.6L654.4 818.6L654.7 818.6L655.1 818.5L655.5 817.8L655.9 817.8L656.3 817.8L656.6 817.8L657.0 817.8L657.4 817.8L657.8 817.8L658.2 817.9L658.5 817.8L658.9 817.9L659.3 817.9L659.7 818.0L660.1 817.9L660.4 817.9L660.8 817.9L661.2 818.0L661.6 817.8L662.0 817.8L662.3 817.8L662.7 817.4L663.1 817.4L663.5 817.6L663.9 817.6L664.2 817.6L664.6 817.6L665.0 817.5L665.4 817.6L665.8 817.6L666.1 817.6L666.5 817.7L666.9 818.3L667.3 818.4L667.7 818.4L668.0 818.4L668.4 818.3L668.8 818.4L669.2 818.4L669.6 818.4L669.9 818.4L670.3 818.3L670.7 818.3L671.1 818.3L671.5 818.3L671.8 818.3L672.2 818.3L672.6 818.3L673.0 818.5L673.4 818.5L673.7 818.5L674.1 818.9L674.5 818.9L674.9 818.9L675.3 818.9L675.7 818.9L676.0 818.7L676.4 818.8L676.8 818.7L677.2 818.7L677.6 818.7L677.9 818.7L678.3 818.6L678.7 818.6L679.1 818.6L679.5 818.3L679.8 818.4L680.2 818.4L680.6 818.4L681.0 818.4L681.4 818.3L681.7 818.4L682.1 818.2L682.5 818.2L682.9 818.2L683.3 818.2L683.6 818.1L684.0 818.1L684.4 818.1L684.8 818.1L685.2 818.1L685.5 818.1L685.9 818.1L686.3 818.1L686.7 818.1L687.1 818.1L687.4 818.2L687.8 818.2L688.2 818.2L688.6 818.3L689.0 818.3L689.3 818.1L689.7 818.1L690.1 818.1L690.5 818.1L690.9 818.4L691.2 818.4L691.6 818.4L692.0 818.4L692.4 818.4L692.8 818.4L693.1 818.5L693.5 818.7L693.9 818.7L694.3 818.7L694.7 818.7L695.0 818.6L695.4 818.6L695.8 818.6L696.2 818.6L696.6 818.6L696.9 818.6L697.3 818.6L697.7 818.6L698.1 818.6L698.5 818.6L698.8 818.6L699.2 818.6L699.6 818.6L700.0 818.7L700.4 818.7L700.8 818.9L701.1 818.9L701.5 818.9L701.9 818.9L702.3 818.8L702.7 818.8L703.0 818.8L703.4 818.8L703.8 818.8L704.2 818.8L704.6 818.8L704.9 818.8L705.3 818.8L705.7 818.8L706.1 818.8L706.5 818.8L706.8 818.8L707.2 818.9L707.6 818.9L708.0 818.9L708.4 818.9L708.7 818.8L709.1 818.9L709.5 818.9L709.9 818.9L710.3 818.9L710.6 818.8L711.0 818.8L711.4 818.8L711.8 818.8L712.2 818.7L712.5 818.7L712.9 818.7L713.3 818.7L713.7 818.7L714.1 818.7L714.4 818.7L714.8 818.8L715.2 818.8L715.6 818.8L716.0 818.8L716.3 818.7L716.7 818.5L717.1 818.5L717.5 818.5L717.9 818.5L718.2 818.5L718.6 818.5L719.0 818.5L719.4 818.5L719.8 818.5L720.1 818.5L720.5 818.5L720.9 818.5L721.3 818.4L721.7 818.5L722.0 818.5L722.4 818.5L722.8 818.6L723.2 818.6L723.6 818.6L723.9 818.6L724.3 818.6L724.7 818.6L725.1 818.6L725.5 818.6L725.9 818.6L726.2 818.6L726.6 818.5L727.0 818.4L727.4 818.4L727.8 818.4L728.1 818.6L728.5 818.6L728.9 818.6L729.3 818.6L729.7 818.6L730.0 818.6L730.4 818.4L730.8 818.4L731.2 818.4L731.6 818.4L731.9 818.4L732.3 818.4L732.7 818.5L733.1 818.5L733.5 818.5L733.8 818.5L734.2 818.5L734.6 818.5L735.0 818.5L735.4 818.6L735.7 818.5L736.1 818.6L736.5 818.6L736.9 818.6L737.3 818.6L737.6 818.6L738.0 818.6L738.4 818.8L738.8 818.7L739.2 818.7L739.5 818.8L739.9 818.8L740.3 818.8L740.7 818.8L741.1 818.8L741.4 818.8L741.8 819.0L742.2 819.0L742.6 819.1L743.0 819.1L743.3 819.0L743.7 819.0L744.1 819.0L744.5 819.0L744.9 818.9L745.2 818.9L745.6 818.8L746.0 818.8L746.4 818.8L746.8 818.8L747.1 818.8L747.5 818.8L747.9 818.7L748.3 818.6L748.7 818.6L749.0 818.6L749.4 818.6L749.8 818.5L750.2 818.5L750.6 818.5L751.0 818.5L751.3 818.5L751.7 818.5L752.1 818.4L752.5 818.4L752.9 818.4L753.2 818.4L753.6 818.4L754.0 818.4L754.4 818.4L754.8 818.3L755.1 818.3L755.5 818.3L755.9 818.3L756.3 818.4L756.7 818.4L757.0 818.5L757.4 818.5L757.8 818.5L758.2 818.5L758.6 818.6L758.9 818.5L759.3 818.6L759.7 818.6L760.1 818.7L760.5 818.7L760.8 818.7L761.2 818.7L761.6 818.7L762.0 818.7L762.4 818.7L762.7 818.7L763.1 818.7L763.5 818.7L763.9 818.8L764.3 818.8L764.6 818.7L765.0 818.7L765.4 818.6L765.8 818.6L766.2 818.6L766.5 818.6L766.9 818.6L767.3 818.6L767.7 818.6L768.1 802.4L768.4 802.4L768.8 802.4L769.2 802.2L769.6 802.2L770.0 802.2L770.3 802.2L770.7 802.1L771.1 801.6L771.5 801.6L771.9 801.6L772.2 801.6L772.6 801.5L773.0 801.5L773.4 801.1L773.8 801.1L774.1 801.1L774.5 801.1L774.9 801.1L775.3 801.1L775.7 801.0L776.0 801.1L776.4 801.2L776.8 801.2L777.2 801.2L777.6 801.2L778.0 801.2L778.3 801.1L778.7 801.2L779.1 801.0L779.5 817.0L779.9 817.0L780.2 816.9L780.6 817.1L781.0 817.1L781.4 817.0L781.8 817.1L782.1 817.1L782.5 817.6L782.9 817.5L783.3 817.6L783.7 817.6L784.0 817.7L784.4 817.7L784.8 818.0L785.2 818.1L785.6 818.1L785.9 818.1L786.3 818.1L786.7 818.1L787.1 818.1L787.5 817.6L787.8 817.6L788.2 817.5L788.6 817.5L789.0 817.5L789.4 817.6L789.7 817.6L790.1 817.6L790.5 817.7L790.9 817.9L791.3 817.9L791.6 818.0L792.0 818.0L792.4 817.8L792.8 817.9L793.2 817.6L793.5 817.7L793.9 817.7L794.3 817.7L794.7 817.6L795.1 817.6L795.4 817.2L795.8 817.2L796.2 817.1L796.6 817.1L797.0 815.9L797.3 815.5L797.7 815.5L798.1 815.5L798.5 815.5L798.9 816.0L799.2 816.0L799.6 816.0L800.0 816.0L800.4 816.0L800.8 816.0L801.1 816.0L801.5 816.0L801.9 816.0L802.3 815.9L802.7 815.9L803.1 815.9L803.4 815.9L803.8 816.0L804.2 815.9L804.6 816.2L805.0 816.2L805.3 816.2L805.7 816.2L806.1 816.3L806.5 816.3L806.9 816.6L807.2 816.6L807.6 816.7L808.0 816.7L808.4 817.9L808.8 818.3L809.1 818.3L809.5 818.3L809.9 817.7L810.3 817.8L810.7 817.7L811.0 817.8L811.4 817.7L811.8 817.7L812.2 817.7L812.6 817.7L812.9 817.7L813.3 817.7L813.7 817.8L814.1 817.8L814.5 817.7L814.8 817.7L815.2 817.6L815.6 817.7L816.0 817.7L816.4 817.7L816.7 817.8L817.1 817.8L817.5 817.8L817.9 817.8L818.3 817.8L818.6 817.6L819.0 817.6L819.4 817.6L819.8 817.6L820.2 817.6L820.5 817.6L820.9 817.6L821.3 817.8L821.7 817.8L822.1 817.6L822.4 817.6L822.8 817.6L823.2 817.5L823.6 817.5L824.0 817.5L824.3 817.5L824.7 817.5L825.1 817.5L825.5 817.6L825.9 817.7L826.2 817.6L826.6 817.6L827.0 817.5L827.4 817.5L827.8 817.4L828.2 817.4L828.5 817.4L828.9 817.4L829.3 817.2L829.7 817.2L830.1 817.4L830.4 817.4L830.8 817.4L831.2 817.4L831.6 817.4L832.0 817.4L832.3 817.4L832.7 817.8L833.1 817.8L833.5 818.0L833.9 818.0L834.2 817.9L834.6 818.1L835.0 818.1L835.4 818.1L835.8 818.1L836.1 818.1L836.5 818.1L836.9 818.1L837.3 818.1L837.7 818.1L838.0 818.3L838.4 818.4L838.8 818.2L839.2 818.3L839.6 818.2L839.9 818.2L840.3 818.1L840.7 818.3L841.1 817.9L841.5 817.9L841.8 817.9L842.2 817.8L842.6 817.9L843.0 817.9L843.4 817.8L843.7 817.8L844.1 817.8L844.5 817.7L844.9 817.8L845.3 817.8L845.6 817.8L846.0 816.1L846.4 816.1L846.8 816.1L847.2 816.1L847.5 816.1L847.9 816.1L848.3 816.1L848.7 816.2L849.1 816.2L849.4 816.2L849.8 816.1L850.2 816.3L850.6 816.3L851.0 816.3L851.3 816.2L851.7 816.2L852.1 816.2L852.5 816.6L852.9 816.6L853.3 816.6L853.6 816.7L854.0 816.7L854.4 816.6L854.8 816.6L855.2 816.4L855.5 816.5L855.9 816.4L856.3 816.4L856.7 816.4L857.1 816.4L857.4 818.0L857.8 818.0L858.2 818.0L858.6 817.9L859.0 817.9L859.3 817.9L859.7 817.9L860.1 817.9L860.5 817.8L860.9 817.8L861.2 817.9L861.6 817.9L862.0 817.9L862.4 817.9L862.8 818.0L863.1 818.1L863.5 818.1L863.9 818.1L864.3 818.1L864.7 818.1L865.0 817.8L865.4 817.7L865.8 817.5L866.2 817.5L866.6 817.7L866.9 817.3L867.3 817.3L867.7 817.4L868.1 817.3L868.5 817.4L868.8 817.4L869.2 804.6L869.6 804.6L870.0 804.6L870.4 804.6L870.7 804.6L871.1 804.5L871.5 804.5L871.9 804.6L872.3 804.5L872.6 804.2L873.0 804.1L873.4 804.2L873.8 804.2L874.2 804.2L874.5 804.2L874.9 804.1L875.3 804.1L875.7 804.2L876.1 804.1L876.4 804.4L876.8 804.4L877.2 804.8L877.6 804.6L878.0 804.7L878.4 805.0L878.7 805.0L879.1 805.0L879.5 805.0L879.9 804.9L880.3 804.9L880.6 817.6L881.0 817.4L881.4 817.4L881.8 817.5L882.2 817.5L882.5 817.5L882.9 817.6L883.3 817.6L883.7 817.5L884.1 817.2L884.4 817.2L884.8 817.2L885.2 817.2L885.6 817.2L886.0 817.2L886.3 817.2L886.7 817.2L887.1 817.2L887.5 817.2L887.9 817.2L888.2 817.2L888.6 817.2L889.0 817.4L889.4 817.4L889.8 817.4L890.1 817.4L890.5 817.2L890.9 817.2L891.3 817.3L891.7 817.3L892.0 817.4L892.4 817.6L892.8 817.7L893.2 817.4L893.6 817.4L893.9 817.4L894.3 817.4L894.7 817.4L895.1 817.5L895.5 818.1L895.8 818.1L896.2 818.1L896.6 818.2L897.0 818.2L897.4 818.1L897.7 818.2L898.1 817.7L898.5 817.7L898.9 817.8L899.3 817.8L899.6 817.8L900.0 817.8L900.4 817.8L900.8 817.9L901.2 817.8L901.5 817.9L901.9 817.8L902.3 817.9L902.7 817.9L903.1 817.9L903.5 817.9L903.8 817.9L904.2 817.9L904.6 818.1L905.0 818.1L905.4 818.1L905.7 818.1L906.1 818.1L906.5 818.1L906.9 817.8L907.3 817.9L907.6 817.8L908.0 817.9L908.4 817.9L908.8 817.8L909.2 817.9L909.5 818.4L909.9 818.3L910.3 818.3L910.7 818.3L911.1 818.2L911.4 818.2L911.8 818.2L912.2 818.2L912.6 818.2L913.0 818.2L913.3 818.4L913.7 818.4L914.1 818.2L914.5 818.2L914.9 818.2L915.2 818.1L915.6 818.1L916.0 818.0L916.4 818.1L916.8 818.1L917.1 818.1L917.5 818.1L917.9 818.0L918.3 818.1L918.7 818.1L919.0 818.1L919.4 818.1L919.8 818.1L920.2 818.0L920.6 818.0L920.9 818.0L921.3 818.0L921.7 818.0L922.1 818.1L922.5 817.5L922.8 817.5L923.2 817.4L923.6 817.4L924.0 817.4L924.4 817.4L924.7 817.4L925.1 817.4L925.5 817.5L925.9 817.5L926.3 817.5L926.6 817.6L927.0 817.6L927.4 817.7L927.8 817.6L928.2 817.6L928.6 817.6L928.9 817.6L929.3 817.7L929.7 817.8L930.1 817.8L930.5 817.7L930.8 817.8L931.2 817.5L931.6 817.6L932.0 817.6L932.4 817.6L932.7 817.6L933.1 817.7L933.5 817.6L933.9 818.2L934.3 818.3L934.6 818.0L935.0 818.0L935.4 818.0L935.8 817.8L936.2 817.8L936.5 817.9L936.9 817.8L937.3 817.8L937.7 817.8L938.1 817.8L938.4 817.8L938.8 817.8L939.2 817.9L939.6 817.9L940.0 817.8L940.3 817.8L940.7 817.8L941.1 817.8L941.5 795.7L941.9 795.8L942.2 795.6L942.6 795.9L943.0 795.8L943.4 795.8L943.8 795.8L944.1 795.8L944.5 795.5L944.9 795.4L945.3 795.4L945.7 795.4L946.0 795.7L946.4 795.6L946.8 795.7L947.2 795.8L947.6 795.7L947.9 795.8L948.3 795.8L948.7 795.8L949.1 795.8L949.5 795.7L949.8 795.7L950.2 795.8L950.6 795.7L951.0 795.7L951.4 795.8L951.7 795.8L952.1 795.7L952.5 795.2L952.9 817.2L953.3 817.1L953.6 817.3L954.0 817.3L954.4 817.3L954.8 817.3L955.2 817.3L955.6 817.0L955.9 817.2L956.3 817.3L956.7 817.3L957.1 817.3L957.5 817.3L957.8 817.4L958.2 817.4L958.6 817.3L959.0 817.4L959.4 817.4L959.7 817.4L960.1 817.4L960.5 817.5L960.9 817.6L961.3 817.6L961.6 817.6L962.0 817.6L962.4 817.5L962.8 817.5L963.2 817.5L963.5 817.6L963.9 818.2L964.3 818.2L964.7 818.2L965.1 818.2L965.4 817.9L965.8 817.8L966.2 817.8L966.6 817.8L967.0 818.1L967.3 818.1L967.7 818.0L968.1 818.0L968.5 818.0L968.9 817.9L969.2 817.9L969.6 817.9L970.0 817.9L970.4 817.9L970.8 817.9L971.1 817.9L971.5 817.8L971.9 817.8L972.3 817.8L972.7 817.7L973.0 817.7L973.4 817.7L973.8 817.8L974.2 817.8L974.6 817.7L974.9 817.2L975.3 817.1L975.7 817.2L976.1 817.1L976.5 817.1L976.8 817.4L977.2 817.5L977.6 817.5L978.0 817.5L978.4 817.2L978.7 817.3L979.1 817.0L979.5 817.0L979.9 817.1L980.3 817.1L980.7 817.1L981.0 817.1L981.4 816.9L981.8 816.9L982.2 816.9L982.6 816.9L982.9 816.9L983.3 817.0L983.7 817.0L984.1 816.8L984.5 816.7L984.8 816.4L985.2 816.4L985.6 816.3L986.0 816.4L986.4 816.8L986.7 816.8L987.1 816.8L987.5 816.8L987.9 816.8L988.3 816.9L988.6 816.9L989.0 816.9L989.4 816.9L989.8 817.2L990.2 817.1L990.5 817.2L990.9 817.2L991.3 817.2L991.7 817.2L992.1 817.3L992.4 817.3L992.8 817.4L993.2 817.3L993.6 817.3L994.0 817.3L994.3 817.3L994.7 817.3L995.1 817.0L995.5 817.2L995.9 817.2L996.2 817.6L996.6 817.6L997.0 817.7L997.4 817.7L997.8 817.8L998.1 817.8L998.5 817.8L998.9 817.5L999.3 817.5L999.7 817.5L1000.0 817.4L1000.4 817.5L1000.8 817.4L1001.2 817.2L1001.6 817.4L1001.9 817.7L1002.3 817.2L1002.7 817.3L1003.1 817.1L1003.5 817.1L1003.8 816.8L1004.2 816.8L1004.6 817.0L1005.0 816.9L1005.4 816.9L1005.8 816.9L1006.1 816.9L1006.5 817.2L1006.9 817.3L1007.3 817.2L1007.7 817.2L1008.0 817.2L1008.4 817.2L1008.8 817.2L1009.2 817.2L1009.6 817.2L1009.9 817.2L1010.3 817.4L1010.7 817.5L1011.1 817.4L1011.5 817.4L1011.8 817.4L1012.2 817.5L1012.6 817.6L1013.0 817.6L1013.4 817.6L1013.7 818.1L1014.1 818.1L1014.5 818.2L1014.9 818.2L1015.3 818.5L1015.6 818.5L1016.0 818.5L1016.4 818.6L1016.8 818.5L1017.2 818.5L1017.5 818.4L1017.9 818.4L1018.3 818.4L1018.7 818.5L1019.1 818.5L1019.4 818.5L1019.8 818.5L1020.2 818.5L1020.6 818.5L1021.0 818.6L1021.3 818.6L1021.7 818.5L1022.1 818.5L1022.5 818.5L1022.9 818.5L1023.2 818.3L1023.6 818.3L1024.0 818.3L1024.4 818.3L1024.8 818.3L1025.1 818.3L1025.5 818.3L1025.9 818.3L1026.3 818.3L1026.7 818.3L1027.0 818.3L1027.4 818.3L1027.8 818.2L1028.2 818.3L1028.6 818.3L1028.9 818.3L1029.3 818.3L1029.7 818.3L1030.1 818.2L1030.5 818.2L1030.9 818.2L1031.2 818.1L1031.6 818.2L1032.0 818.2L1032.4 818.2L1032.8 818.2L1033.1 817.9L1033.5 817.9L1033.9 818.0L1034.3 818.0L1034.7 818.3L1035.0 818.2L1035.4 818.1L1035.8 818.1L1036.2 818.1L1036.6 817.9L1036.9 817.8L1037.3 817.8L1037.7 817.8L1038.1 817.8L1038.5 817.7L1038.8 817.7L1039.2 817.7L1039.6 817.7L1040.0 817.7L1040.4 817.7L1040.7 817.7L1041.1 817.6L1041.5 817.7L1041.9 817.7L1042.3 817.6L1042.6 817.7L1043.0 817.7L1043.4 817.7L1043.8 817.7L1044.2 817.8L1044.5 818.0L1044.9 817.9L1045.3 817.9L1045.7 817.9L1046.1 817.9L1046.4 818.0L1046.8 818.1L1047.2 818.1L1047.6 818.0L1048.0 817.9L1048.3 817.9L1048.7 817.9L1049.1 817.9L1049.5 817.9L1049.9 818.0L1050.2 817.9L1050.6 817.9L1051.0 817.8L1051.4 816.9L1051.8 816.9L1052.1 816.8L1052.5 817.0L1052.9 817.0L1053.3 817.0L1053.7 817.0L1054.0 817.0L1054.4 817.0L1054.8 817.0L1055.2 816.8L1055.6 816.7L1056.0 816.8L1056.3 816.7L1056.7 816.6L1057.1 816.6L1057.5 816.7L1057.9 816.6L1058.2 816.6L1058.6 816.7L1059.0 816.7L1059.4 816.9L1059.8 817.0L1060.1 817.0L1060.5 817.0L1060.9 817.0L1061.3 816.7L1061.7 816.8L1062.0 816.6L1062.4 816.6L1062.8 817.5L1063.2 817.6L1063.6 817.6L1063.9 817.6L1064.3 817.5L1064.7 817.5L1065.1 817.4L1065.5 817.1L1065.8 817.0L1066.2 817.0L1066.6 817.2L1067.0 817.1L1067.4 817.1L1067.7 817.1L1068.1 816.9L1068.5 816.7L1068.9 816.7L1069.3 816.7L1069.6 816.7L1070.0 816.7L1070.4 816.7L1070.8 816.7L1071.2 816.7L1071.5 816.7L1071.9 816.7L1072.3 816.7L1072.7 817.0L1073.1 817.0L1073.4 817.2L1073.8 817.2L1074.2 817.2L1074.6 816.2L1075.0 816.2L1075.3 816.2L1075.7 816.3L1076.1 816.3L1076.5 816.4L1076.9 816.7L1077.2 816.8L1077.6 816.7L1078.0 816.6L1078.4 816.7L1078.8 816.7L1079.1 816.7L1079.5 817.0L1079.9 817.2L1080.3 817.2L1080.7 817.1L1081.1 817.2L1081.4 817.2L1081.8 817.3L1082.2 817.3L1082.6 817.3L1083.0 817.3L1083.3 817.3L1083.7 817.3L1084.1 817.3L1084.5 817.3L1084.9 817.3L1085.2 817.3L1085.6 817.3L1086.0 818.2L1086.4 818.0L1086.8 818.0L1087.1 818.0L1087.5 818.0L1087.9 818.0L1088.3 818.0L1088.7 818.0L1089.0 818.1L1089.4 818.1L1089.8 818.1L1090.2 818.1L1090.6 818.1L1090.9 818.1L1091.3 818.2L1091.7 818.2L1092.1 818.2L1092.5 818.2L1092.8 818.2L1093.2 818.2L1093.6 818.2L1094.0 818.2L1094.4 818.2L1094.7 817.8L1095.1 817.8L1095.5 817.8L1095.9 817.8L1096.3 817.8L1096.6 817.8L1097.0 817.8L1097.4 817.8L1097.8 818.0L1098.2 817.9L1098.5 817.9L1098.9 817.8L1099.3 817.9L1099.7 817.9L1100.1 817.9L1100.4 817.9L1100.8 817.9L1101.2 817.9L1101.6 817.6L1102.0 817.6L1102.3 817.4L1102.7 817.3L1103.1 817.4L1103.5 817.4L1103.9 817.4L1104.2 817.4L1104.6 817.4L1105.0 817.3L1105.4 817.3L1105.8 817.3L1106.2 817.7L1106.5 817.7L1106.9 817.6L1107.3 817.5L1107.7 817.5L1108.1 817.4L1108.4 817.4L1108.8 817.3L1109.2 817.3L1109.6 817.3L1110.0 817.3L1110.3 817.1L1110.7 817.2L1111.1 817.2L1111.5 817.2L1111.9 817.1L1112.2 817.1L1112.6 817.2L1113.0 817.5L1113.4 817.4L1113.8 817.7L1114.1 817.5L1114.5 817.5L1114.9 817.4L1115.3 817.5L1115.7 817.5L1116.0 817.5L1116.4 817.5L1116.8 817.5L1117.2 817.5L1117.6 817.6L1117.9 816.0L1118.3 816.1L1118.7 816.2L1119.1 816.2L1119.5 816.2L1119.8 816.2L1120.2 816.3L1120.6 816.4L1121.0 816.5L1121.4 816.4L1121.7 816.6L1122.1 816.5L1122.5 816.5L1122.9 816.5L1123.3 816.1L1123.6 816.1L1124.0 816.1L1124.4 816.1L1124.8 816.0L1125.2 815.9L1125.5 816.1L1125.9 816.1L1126.3 816.1L1126.7 816.2L1127.1 816.1L1127.4 816.1L1127.8 816.0L1128.2 816.0L1128.6 816.0L1129.0 816.0L1129.3 817.5L1129.7 817.5L1130.1 817.4L1130.5 817.5L1130.9 817.5L1131.3 817.5L1131.6 817.6L1132.0 817.6L1132.4 817.4L1132.8 817.5L1133.2 817.1L1133.5 817.1L1133.9 817.2L1134.3 817.2L1134.7 817.7L1135.1 817.7L1135.4 817.7L1135.8 817.1L1136.2 817.2L1136.6 817.2L1137.0 817.2L1137.3 817.1L1137.7 817.1L1138.1 817.1L1138.5 817.1L1138.9 817.1L1139.2 817.1L1139.6 817.1L1140.0 817.1L1140.4 817.2L1140.8 817.2L1141.1 817.3L1141.5 817.3L1141.9 817.3L1142.3 817.4L1142.7 817.4L1143.0 817.3L1143.4 817.1L1143.8 817.3L1144.2 817.2L1144.6 817.6L1144.9 817.6L1145.3 817.6L1145.7 817.6L1146.1 817.6L1146.5 817.5L1146.8 817.6L1147.2 818.1L1147.6 818.2L1148.0 818.1L1148.4 818.1L1148.7 818.2L1149.1 818.2L1149.5 818.2L1149.9 818.2L1150.3 818.2L1150.6 818.2L1151.0 818.2L1151.4 818.2L1151.8 818.0L1152.2 818.1L1152.5 818.1L1152.9 818.0L1153.3 818.0L1153.7 818.0L1154.1 817.9L1154.4 817.9L1154.8 818.1L1155.2 818.1L1155.6 818.2L1156.0 818.2L1156.3 818.3L1156.7 818.3L1157.1 818.3L1157.5 818.3L1157.9 818.3L1158.3 816.9L1158.6 816.9L1159.0 815.4L1159.4 815.5L1159.8 815.6L1160.2 814.2L1160.5 814.2L1160.9 814.2L1161.3 814.2L1161.7 814.2L1162.1 814.3L1162.4 813.6L1162.8 813.6L1163.2 813.8L1163.6 813.7L1164.0 813.6L1164.3 813.6L1164.7 813.7L1165.1 813.6L1165.5 813.6L1165.9 813.2L1166.2 813.2L1166.6 813.2L1167.0 812.9L1167.4 812.9L1167.8 812.9L1168.1 812.6L1168.5 812.7L1168.9 812.7L1169.3 812.4L1169.7 813.8L1170.0 813.8L1170.4 815.2L1170.8 815.2L1171.2 815.2L1171.6 816.6L1171.9 816.6L1172.3 816.6L1172.7 816.6L1173.1 816.6L1173.5 816.5L1173.8 817.1L1174.2 816.9L1174.6 816.6L1175.0 816.7L1175.4 816.8L1175.7 816.8L1176.1 816.4L1176.5 816.5L1176.9 816.6L1177.3 816.8L1177.6 816.9L1178.0 816.6L1178.4 817.0L1178.8 817.0L1179.2 817.0L1179.5 817.2L1179.9 817.2L1180.3 817.2L1180.7 817.4L1181.1 817.5L1181.4 817.5L1181.8 817.5L1182.2 817.5L1182.6 817.5L1183.0 817.5L1183.4 817.5L1183.7 817.4L1184.1 817.5L1184.5 817.4L1184.9 817.5L1185.3 817.5L1185.6 817.8L1186.0 818.1L1186.4 818.0L1186.8 818.0L1187.2 818.0L1187.5 818.3L1187.9 818.3L1188.3 818.3L1188.7 818.3L1189.1 818.2L1189.4 818.3L1189.8 818.3L1190.2 818.3L1190.6 818.3L1191.0 817.9L1191.3 817.9L1191.7 817.9L1192.1 817.9L1192.5 817.9L1192.9 817.8L1193.2 817.8L1193.6 817.7L1194.0 817.8L1194.4 817.7L1194.8 817.7L1195.1 817.8L1195.5 817.8L1195.9 817.8L1196.3 817.8L1196.7 817.8L1197.0 817.8L1197.4 817.8L1197.8 817.8L1198.2 817.8L1198.6 817.8L1198.9 817.6L1199.3 817.6L1199.7 817.6L1200.1 817.6L1200.5 817.6L1200.8 817.7L1201.2 817.6L1201.6 817.6L1202.0 817.6L1202.4 818.0L1202.7 818.0L1203.1 818.0L1203.5 817.9L1203.9 817.7L1204.3 817.7L1204.6 817.8L1205.0 817.8L1205.4 817.8L1205.8 817.9L1206.2 817.9L1206.5 817.9L1206.9 817.9L1207.3 817.5L1207.7 817.5L1208.1 817.5L1208.5 817.4L1208.8 817.1L1209.2 817.1L1209.6 817.2L1210.0 817.1L1210.4 817.3L1210.7 817.3L1211.1 817.3L1211.5 817.3L1211.9 817.3L1212.3 817.4L1212.6 817.1L1213.0 817.2L1213.4 817.2L1213.8 817.2L1214.2 817.2L1214.5 817.2L1214.9 817.4L1215.3 817.5L1215.7 817.4L1216.1 817.5L1216.4 817.5L1216.8 817.1L1217.2 817.1L1217.6 817.1L1218.0 817.1L1218.3 817.0L1218.7 817.4L1219.1 817.4L1219.5 817.4L1219.9 817.3L1220.2 817.5L1220.6 817.5L1221.0 817.5L1221.4 817.5L1221.8 817.6L1222.1 817.6L1222.5 817.6L1222.9 817.6L1223.3 817.6L1223.7 817.6L1224.0 817.9L1224.4 817.7L1224.8 817.7L1225.2 817.7L1225.6 817.7L1225.9 817.7L1226.3 817.7L1226.7 817.8L1227.1 817.8L1227.5 817.7L1227.8 817.7L1228.2 818.1L1228.6 818.1L1229.0 814.3L1229.4 814.3L1229.7 814.4L1230.1 814.2L1230.5 814.3L1230.9 814.3L1231.3 814.4L1231.6 814.0L1232.0 814.0L1232.4 814.0L1232.8 814.0L1233.2 814.0L1233.6 814.0L1233.9 814.0L1234.3 813.6L1234.7 813.6L1235.1 813.6L1235.5 813.6L1235.8 813.7L1236.2 813.7L1236.6 813.7L1237.0 813.7L1237.4 813.6L1237.7 813.6L1238.1 813.2L1238.5 813.1L1238.9 813.2L1239.3 813.1L1239.6 813.1L1240.0 813.1L1240.4 816.7L1240.8 816.7L1241.2 816.6L1241.5 816.7L1241.9 816.7L1242.3 816.7L1242.7 816.7L1243.1 817.3L1243.4 817.3L1243.8 817.3L1244.2 817.2L1244.6 817.2L1245.0 817.2L1245.3 817.2L1245.7 817.6L1246.1 817.6L1246.5 817.6L1246.9 817.5L1247.2 817.4L1247.6 817.4L1248.0 817.4L1248.4 817.1L1248.8 817.1L1249.1 817.1L1249.5 817.6L1249.9 817.3L1250.3 817.4L1250.7 817.4L1251.0 817.4L1251.4 817.4L1251.8 817.6L1252.2 817.7L1252.6 817.7L1252.9 817.7L1253.3 817.7L1253.7 817.7L1254.1 817.6L1254.5 817.5L1254.8 817.6L1255.2 817.4L1255.6 817.5L1256.0 817.5L1256.4 817.5L1256.7 817.5L1257.1 817.4L1257.5 817.4L1257.9 817.4L1258.3 817.6L1258.7 817.7L1259.0 817.6L1259.4 817.2L1259.8 817.5L1260.2 817.5L1260.6 817.5L1260.9 817.5L1261.3 817.8L1261.7 817.7L1262.1 817.4L1262.5 817.4L1262.8 817.4L1263.2 817.4L1263.6 817.4L1264.0 817.4L1264.4 817.0L1264.7 817.0L1265.1 817.1L1265.5 817.0L1265.9 817.1L1266.3 817.0L1266.6 817.1L1267.0 817.1L1267.4 817.1L1267.8 817.1L1268.2 817.1L1268.5 817.1L1268.9 817.1L1269.3 817.1L1269.7 817.1L1270.1 817.1L1270.4 817.1L1270.8 817.5L1271.2 817.3L1271.6 817.4L1272.0 817.1L1272.3 817.1L1272.7 817.1L1273.1 817.1L1273.5 817.4L1273.9 817.3L1274.2 817.3L1274.6 817.3L1275.0 817.3L1275.4 816.9L1275.8 817.2L1276.1 817.2L1276.5 817.1L1276.9 817.1L1277.3 817.1L1277.7 816.8L1278.0 816.9L1278.4 816.8L1278.8 816.9L1279.2 816.9L1279.6 817.0L1279.9 816.9L1280.3 816.9L1280.7 816.9L1281.1 816.9L1281.5 817.0L1281.8 817.0L1282.2 816.8L1282.6 816.9L1283.0 816.9L1283.4 817.2L1283.8 817.2L1284.1 817.2L1284.5 817.2L1284.9 817.2L1285.3 817.2L1285.7 817.3L1286.0 817.3L1286.4 817.3L1286.8 817.7L1287.2 817.8L1287.6 817.7L1287.9 817.8L1288.3 817.8L1288.7 817.1L1289.1 817.5L1289.5 817.5L1289.8 817.5L1290.2 816.7L1290.6 816.6L1291.0 816.5L1291.4 816.5L1291.7 816.3L1292.1 816.1L1292.5 816.1L1292.9 815.9L1293.3 815.9L1293.6 816.0L1294.0 816.0L1294.4 816.0L1294.8 816.0L1295.2 816.0L1295.5 815.8L1295.9 815.8L1296.3 815.8L1296.7 815.6L1297.1 815.6L1297.4 815.4L1297.8 815.2L1298.2 815.2L1298.6 815.0L1299.0 815.0L1299.3 815.0L1299.7 814.9L1300.1 815.7L1300.5 815.6L1300.9 815.6L1301.2 815.2L1301.6 815.9L1302.0 815.9L1302.4 816.0L1302.8 816.1L1303.1 816.2L1303.5 816.3L1303.9 816.3L1304.3 816.5L1304.7 816.5L1305.0 816.6L1305.4 816.5L1305.8 816.5L1306.2 816.5L1306.6 816.2L1306.9 816.4L1307.3 816.4L1307.7 816.4L1308.1 816.4L1308.5 816.3L1308.9 816.1L1309.2 816.2L1309.6 816.1L1310.0 816.1L1310.4 816.2L1310.8 816.0L1311.1 815.9L1311.5 815.9L1311.9 815.9L1312.3 815.9L1312.7 816.3L1313.0 816.3L1313.4 816.3L1313.8 816.3L1314.2 816.1L1314.6 816.1L1314.9 816.1L1315.3 816.1L1315.7 816.1L1316.1 816.1L1316.5 816.0L1316.8 814.1L1317.2 814.0L1317.6 814.0L1318.0 814.2L1318.4 813.9L1318.7 813.6L1319.1 813.5L1319.5 813.6L1319.9 813.4L1320.3 813.1L1320.6 813.1L1321.0 813.0L1321.4 813.0L1321.8 812.9L1322.2 813.1L1322.5 813.1L1322.9 813.2L1323.3 813.1L1323.7 813.2L1324.1 813.1L1324.4 813.2L1324.8 813.3L1325.2 812.8L1325.6 812.8L1326.0 812.7L1326.3 812.7L1326.7 812.6L1327.1 812.0L1327.5 812.0L1327.9 812.1L1328.2 814.0L1328.6 813.8L1329.0 813.9L1329.4 813.9L1329.8 812.6L1330.1 812.6L1330.5 812.6L1330.9 812.5L1331.3 811.3L1331.7 811.8L1332.0 811.9L1332.4 811.7L1332.8 811.0L1333.2 810.9L1333.6 810.7L1333.9 810.6L1334.3 810.2L1334.7 810.1L1335.1 809.7L1335.5 809.4L1335.9 809.3L1336.2 809.0L1336.6 809.4L1337.0 809.5L1337.4 807.9L1337.8 807.9L1338.1 807.6L1338.5 805.6L1338.9 804.4L1339.3 804.2L1339.7 804.1L1340.0 804.2L1340.4 804.0L1340.8 802.2L1341.2 803.6L1341.6 803.9L1341.9 803.5L1342.3 802.9L1342.7 804.2L1343.1 804.2L1343.5 804.3L1343.8 803.9L1344.2 804.4L1344.6 804.4L1345.0 804.5L1345.4 804.6L1345.7 804.9L1346.1 805.0L1346.5 805.3L1346.9 805.6L1347.3 805.5L1347.6 805.8L1348.0 805.9L1348.4 805.6L1348.8 807.2L1349.2 807.0L1349.5 807.3L1349.9 809.9L1350.3 811.0L1350.7 811.2L1351.1 811.1L1351.4 811.3L1351.8 810.5L1352.2 812.2L1352.6 812.0L1353.0 812.0L1353.3 812.2L1353.7 812.7L1354.1 812.7L1354.5 812.8L1354.9 812.8L1355.2 812.7L1355.6 812.9L1356.0 812.7L1356.4 812.8L1356.8 812.6L1357.1 812.5L1357.5 812.5L1357.9 812.4L1358.3 812.5L1358.7 811.4L1359.0 811.4L1359.4 811.0L1359.8 811.1L1360.2 811.2L1360.6 811.3L1361.0 811.2L1361.3 811.2L1361.7 811.2L1362.1 811.3L1362.5 809.5L1362.9 809.5L1363.2 810.4L1363.6 810.5L1364.0 810.6L1364.4 810.4L1364.8 810.6L1365.1 810.8L1365.5 810.9L1365.9 810.8L1366.3 810.8L1366.7 811.5L1367.0 811.5L1367.4 811.8L1367.8 811.7L1368.2 811.5L1368.6 811.4L1368.9 811.2L1369.3 811.2L1369.7 811.1L1370.1 812.3L1370.5 812.1L1370.8 812.1L1371.2 811.9L1371.6 811.8L1372.0 811.9L1372.4 811.6L1372.7 811.4L1373.1 811.4L1373.5 809.5L1373.9 811.4L1374.3 811.2L1374.6 811.2L1375.0 811.2L1375.4 811.3L1375.8 810.7L1376.2 810.7L1376.5 810.7L1376.9 810.7L1377.3 810.6L1377.7 810.6L1378.1 810.3L1378.4 810.1L1378.8 809.9L1379.2 809.8L1379.6 807.3L1380.0 807.5L1380.3 807.7L1380.7 807.5L1381.1 807.6L1381.5 807.3L1381.9 807.5L1382.2 807.5L1382.6 807.7L1383.0 807.7L1383.4 807.7L1383.8 807.4L1384.1 807.4L1384.5 807.3L1384.9 808.9L1385.3 808.3L1385.7 807.9L1386.1 807.9L1386.4 807.2L1386.8 807.3L1387.2 807.5L1387.6 807.4L1388.0 807.5L1388.3 807.5L1388.7 807.3L1389.1 807.4L1389.5 807.3L1389.9 804.7L1390.2 804.9L1390.6 805.0L1391.0 807.6L1391.4 807.4L1391.8 807.5L1392.1 807.4L1392.5 807.1L1392.9 804.9L1393.3 805.0L1393.7 805.3L1394.0 805.4L1394.4 805.3L1394.8 805.1L1395.2 805.6L1395.6 805.5L1395.9 805.3L1396.3 805.1L1396.7 805.6L1397.1 806.2L1397.5 804.6L1397.8 805.0L1398.2 804.7L1398.6 805.4L1399.0 805.1L1399.4 804.8L1399.7 804.9L1400.1 803.1L1400.5 802.9L1400.9 803.1L1401.3 805.6L1401.6 805.7L1402.0 805.8L1402.4 804.6L1402.8 804.7L1403.2 804.6L1403.5 804.7L1403.9 805.0L1404.3 807.5L1404.7 807.3L1405.1 806.5L1405.4 806.5L1405.8 806.5L1406.2 806.7L1406.6 806.9L1407.0 806.8L1407.3 807.1L1407.7 807.0L1408.1 807.1L1408.5 807.0L1408.9 808.6L1409.2 808.9L1409.6 808.8L1410.0 808.6L1410.4 808.8L1410.8 809.1L1411.2 808.9L1411.5 810.8L1411.9 810.8L1412.3 810.9L1412.7 811.3L1413.1 811.2L1413.4 811.1L1413.8 812.7L1414.2 812.3L1414.6 809.6L1415.0 809.7L1415.3 809.5L1415.7 809.3L1416.1 809.3L1416.5 809.6L1416.9 809.7L1417.2 809.8L1417.6 809.7L1418.0 809.1L1418.4 807.9L1418.8 808.0L1419.1 808.5L1419.5 808.5L1419.9 808.1L1420.3 808.0L1420.7 807.3L1421.0 807.6L1421.4 807.7L1421.8 807.5L1422.2 807.3L1422.6 807.0L1422.9 804.5L1423.3 804.3L1423.7 804.2L1424.1 804.0L1424.5 804.0L1424.8 803.7L1425.2 803.4L1425.6 803.2L1426.0 804.7L1426.4 804.5L1426.7 804.3L1427.1 804.2L1427.5 804.0L1427.9 804.3L1428.3 804.1L1428.6 803.5L1429.0 803.4L1429.4 803.9L1429.8 805.0L1430.2 804.9L1430.5 804.9L1430.9 804.9L1431.3 804.6L1431.7 802.2L1432.1 802.8L1432.4 802.9L1432.8 802.7L1433.2 802.5L1433.6 802.7L1434.0 802.5L1434.3 805.3L1434.7 805.5L1435.1 805.5L1435.5 805.0L1435.9 805.0L1436.3 805.0L1436.6 805.2L1437.0 805.7L1437.4 806.6L1437.8 805.0L1438.2 805.3L1438.5 805.5L1438.9 805.8L1439.3 805.6L1439.7 805.3L1440.1 805.9L1440.4 805.5L1440.8 805.3L1441.2 805.6L1441.6 805.4L1442.0 805.3L1442.3 805.0L1442.7 805.4L1443.1 807.2L1443.5 807.2L1443.9 806.8L1444.2 806.6L1444.6 805.0L1445.0 804.9L1445.4 805.0L1445.8 804.7L1446.1 804.2L1446.5 803.8L1446.9 804.4L1447.3 803.2L1447.7 803.1L1448.0 802.9L1448.4 803.0L1448.8 803.3L1449.2 804.9L1449.6 804.9L1449.9 804.7L1450.3 804.7L1450.7 804.6L1451.1 803.5L1451.5 803.4L1451.8 802.6L1452.2 802.7L1452.6 802.5L1453.0 800.2L1453.4 800.0L1453.7 800.3L1454.1 800.2L1454.5 801.0L1454.9 800.9L1455.3 794.8L1455.6 795.2L1456.0 796.7L1456.4 796.7L1456.8 796.3L1457.2 796.6L1457.5 791.5L1457.9 791.5L1458.3 791.1L1458.7 792.1L1459.1 792.4L1459.4 792.5L1459.8 792.4L1460.2 792.3L1460.6 790.5L1461.0 790.5L1461.4 790.7L1461.7 790.9L1462.1 790.6L1462.5 791.9L1462.9 792.0L1463.3 792.5L1463.6 792.6L1464.0 792.3L1464.4 794.5L1464.8 794.8L1465.2 794.8L1465.5 795.0L1465.9 794.5L1466.3 793.6L1466.7 799.9L1467.1 798.0L1467.4 798.3L1467.8 798.4L1468.2 799.1L1468.6 798.8L1469.0 804.5L1469.3 804.2L1469.7 804.3L1470.1 803.8L1470.5 803.8L1470.9 803.8L1471.2 804.0L1471.6 803.5L1472.0 804.9L1472.4 804.5L1472.8 804.1L1473.1 803.5L1473.5 804.1L1473.9 803.7L1474.3 803.7L1474.7 804.0L1475.0 803.9L1475.4 804.3L1475.8 804.2L1476.2 800.1L1476.6 799.6L1476.9 799.6L1477.3 799.7L1477.7 800.5L1478.1 797.0L1478.5 798.7L1478.8 798.6L1479.2 798.3L1479.6 798.3L1480.0 798.4L1480.4 798.3L1480.7 798.2L1481.1 798.5L1481.5 798.6L1481.9 795.3L1482.3 795.3L1482.6 795.1L1483.0 795.6L1483.4 795.2L1483.8 791.3L1484.2 790.9L1484.5 789.3L1484.9 789.3L1485.3 789.8L1485.7 782.1L1486.1 782.6L1486.5 781.1L1486.8 779.1L1487.2 779.7L1487.6 777.1L1488.0 777.5L1488.4 776.2L1488.7 776.3L1489.1 774.6L1489.5 778.2L1489.9 776.8L1490.3 774.1L1490.6 769.6L1491.0 769.6L1491.4 769.4L1491.8 769.5L1492.2 770.2L1492.5 768.6L1492.9 766.9L1493.3 767.5L1493.7 763.9L1494.1 763.5L1494.4 761.6L1494.8 760.5L1495.2 764.8L1495.6 762.5L1496.0 762.0L1496.3 759.7L1496.7 756.1L1497.1 759.1L1497.5 755.0L1497.9 754.0L1498.2 756.2L1498.6 752.8L1499.0 744.0" fill="none" stroke="#6a58e8" stroke-width="1" stroke-dasharray="3 2" opacity="0.8"/>
<line x1="527" x2="551" y1="92" y2="92" stroke="#767688" stroke-width="2"/>
<text x="556.5" y="97" font-family="'Liberation Sans', sans-serif" font-size="20" fill="#2a2a2a" textLength="43">price</text>
<line x1="622" x2="645" y1="92" y2="92" stroke="#b0b0bc" stroke-width="1.2" stroke-dasharray="2 1.5"/>
<text x="652" y="97" font-family="'Liberation Sans', sans-serif" font-size="20" fill="#2a2a2a" textLength="125">price-SMA(30)</text>
<line x1="801" x2="825" y1="91.8" y2="91.8" stroke="#7563ef" stroke-width="2"/>
<text x="831" y="97" font-family="'Liberation Sans', sans-serif" font-size="20" fill="#2a2a2a" textLength="53">inflow</text>
<line x1="907" x2="930" y1="91" y2="91" stroke="#b4aaf6" stroke-width="1.2" stroke-dasharray="2 1.5"/>
<text x="936.5" y="97" font-family="'Liberation Sans', sans-serif" font-size="20" fill="#2a2a2a" textLength="136">inflow-SMA(30)</text>
<text x="800" y="57" text-anchor="middle" font-family="'Liberation Sans', sans-serif" font-weight="bold" font-size="33" fill="#17171a" textLength="1106" lengthAdjust="spacing">BTC: Inflows to Accumulation Addresses (Dynamic Cohort. Changes daily)</text>
<text x="1560.5" y="878" text-anchor="end" font-family="'Liberation Sans', sans-serif" font-size="13.5" fill="#7a7a88" textLength="201">© CryptoQuant. All rights reserved</text>
</svg>
</body></html>
